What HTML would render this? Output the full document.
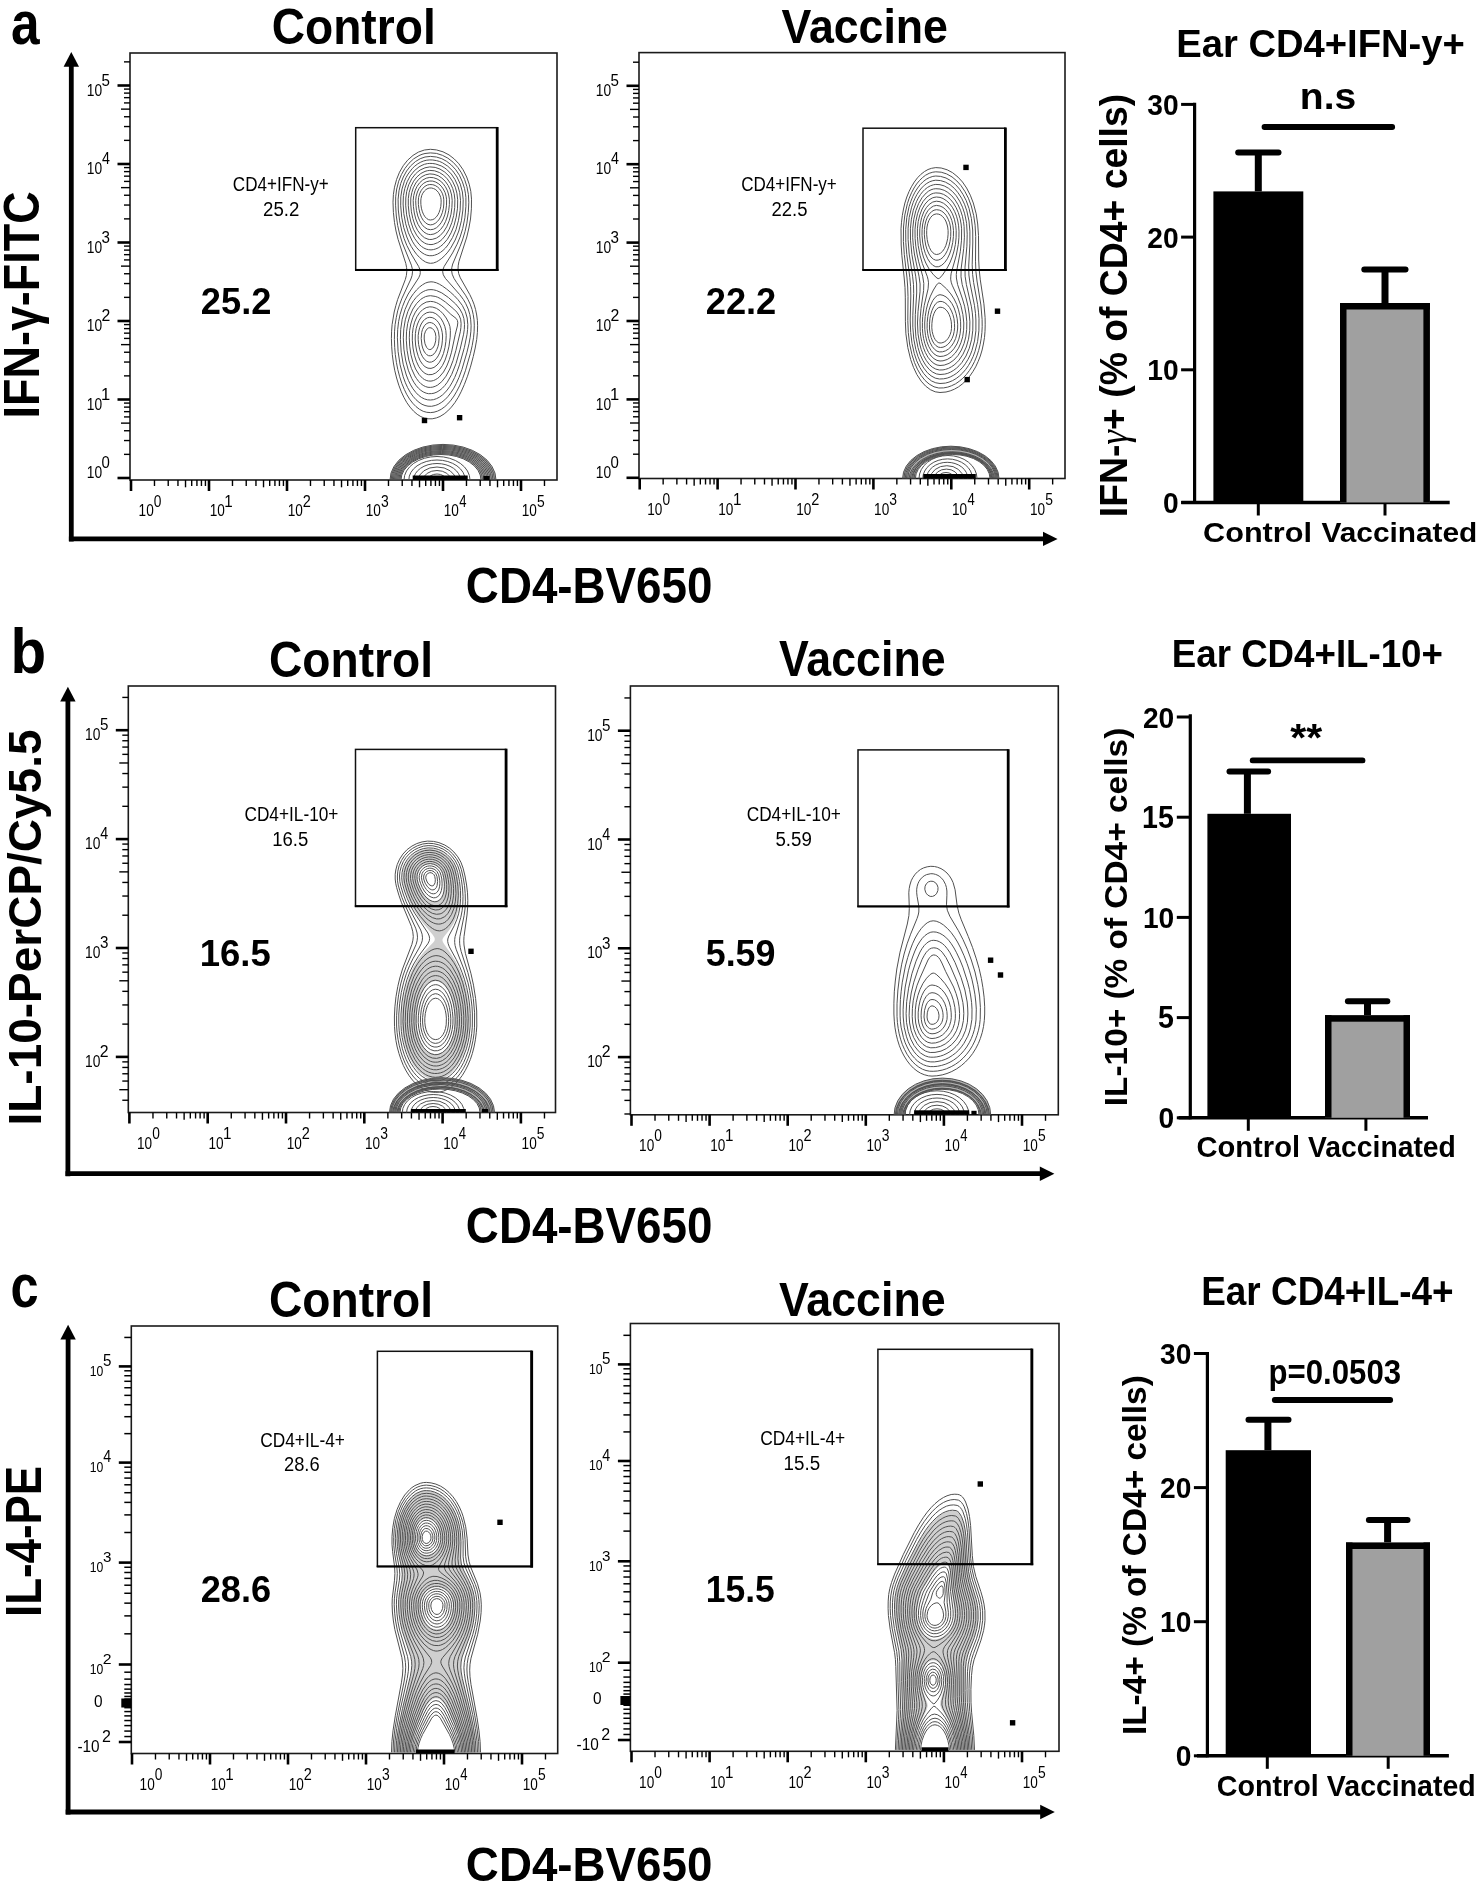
<!DOCTYPE html>
<html><head><meta charset="utf-8"><style>html,body{margin:0;padding:0;background:#fff;overflow:hidden;}svg{display:block;}</style></head>
<body><svg width="1484" height="1884" viewBox="0 0 1484 1884" font-family='"Liberation Sans", sans-serif' style="filter:grayscale(1)">
<rect x="0.00" y="0.00" width="1484.00" height="1884.00" fill="#fff" stroke="none" stroke-width="0"/>
<rect x="130.00" y="53.00" width="427.00" height="427.00" fill="none" stroke="#1a1a1a" stroke-width="1.6"/>
<line x1="131.00" y1="480.00" x2="131.00" y2="491.00" stroke="#000" stroke-width="2.6" stroke-linecap="butt"/>
<line x1="154.48" y1="480.00" x2="154.48" y2="486.00" stroke="#000" stroke-width="1.4" stroke-linecap="butt"/>
<line x1="168.22" y1="480.00" x2="168.22" y2="486.00" stroke="#000" stroke-width="1.4" stroke-linecap="butt"/>
<line x1="177.96" y1="480.00" x2="177.96" y2="486.00" stroke="#000" stroke-width="1.4" stroke-linecap="butt"/>
<line x1="185.52" y1="480.00" x2="185.52" y2="487.30" stroke="#000" stroke-width="1.4" stroke-linecap="butt"/>
<line x1="191.70" y1="480.00" x2="191.70" y2="486.00" stroke="#000" stroke-width="1.4" stroke-linecap="butt"/>
<line x1="196.92" y1="480.00" x2="196.92" y2="486.00" stroke="#000" stroke-width="1.4" stroke-linecap="butt"/>
<line x1="201.44" y1="480.00" x2="201.44" y2="486.00" stroke="#000" stroke-width="1.4" stroke-linecap="butt"/>
<line x1="205.43" y1="480.00" x2="205.43" y2="486.00" stroke="#000" stroke-width="1.4" stroke-linecap="butt"/>
<line x1="209.00" y1="480.00" x2="209.00" y2="491.00" stroke="#000" stroke-width="2.6" stroke-linecap="butt"/>
<line x1="232.48" y1="480.00" x2="232.48" y2="486.00" stroke="#000" stroke-width="1.4" stroke-linecap="butt"/>
<line x1="246.22" y1="480.00" x2="246.22" y2="486.00" stroke="#000" stroke-width="1.4" stroke-linecap="butt"/>
<line x1="255.96" y1="480.00" x2="255.96" y2="486.00" stroke="#000" stroke-width="1.4" stroke-linecap="butt"/>
<line x1="263.52" y1="480.00" x2="263.52" y2="487.30" stroke="#000" stroke-width="1.4" stroke-linecap="butt"/>
<line x1="269.70" y1="480.00" x2="269.70" y2="486.00" stroke="#000" stroke-width="1.4" stroke-linecap="butt"/>
<line x1="274.92" y1="480.00" x2="274.92" y2="486.00" stroke="#000" stroke-width="1.4" stroke-linecap="butt"/>
<line x1="279.44" y1="480.00" x2="279.44" y2="486.00" stroke="#000" stroke-width="1.4" stroke-linecap="butt"/>
<line x1="283.43" y1="480.00" x2="283.43" y2="486.00" stroke="#000" stroke-width="1.4" stroke-linecap="butt"/>
<line x1="287.00" y1="480.00" x2="287.00" y2="491.00" stroke="#000" stroke-width="2.6" stroke-linecap="butt"/>
<line x1="310.48" y1="480.00" x2="310.48" y2="486.00" stroke="#000" stroke-width="1.4" stroke-linecap="butt"/>
<line x1="324.22" y1="480.00" x2="324.22" y2="486.00" stroke="#000" stroke-width="1.4" stroke-linecap="butt"/>
<line x1="333.96" y1="480.00" x2="333.96" y2="486.00" stroke="#000" stroke-width="1.4" stroke-linecap="butt"/>
<line x1="341.52" y1="480.00" x2="341.52" y2="487.30" stroke="#000" stroke-width="1.4" stroke-linecap="butt"/>
<line x1="347.70" y1="480.00" x2="347.70" y2="486.00" stroke="#000" stroke-width="1.4" stroke-linecap="butt"/>
<line x1="352.92" y1="480.00" x2="352.92" y2="486.00" stroke="#000" stroke-width="1.4" stroke-linecap="butt"/>
<line x1="357.44" y1="480.00" x2="357.44" y2="486.00" stroke="#000" stroke-width="1.4" stroke-linecap="butt"/>
<line x1="361.43" y1="480.00" x2="361.43" y2="486.00" stroke="#000" stroke-width="1.4" stroke-linecap="butt"/>
<line x1="365.00" y1="480.00" x2="365.00" y2="491.00" stroke="#000" stroke-width="2.6" stroke-linecap="butt"/>
<line x1="388.48" y1="480.00" x2="388.48" y2="486.00" stroke="#000" stroke-width="1.4" stroke-linecap="butt"/>
<line x1="402.22" y1="480.00" x2="402.22" y2="486.00" stroke="#000" stroke-width="1.4" stroke-linecap="butt"/>
<line x1="411.96" y1="480.00" x2="411.96" y2="486.00" stroke="#000" stroke-width="1.4" stroke-linecap="butt"/>
<line x1="419.52" y1="480.00" x2="419.52" y2="487.30" stroke="#000" stroke-width="1.4" stroke-linecap="butt"/>
<line x1="425.70" y1="480.00" x2="425.70" y2="486.00" stroke="#000" stroke-width="1.4" stroke-linecap="butt"/>
<line x1="430.92" y1="480.00" x2="430.92" y2="486.00" stroke="#000" stroke-width="1.4" stroke-linecap="butt"/>
<line x1="435.44" y1="480.00" x2="435.44" y2="486.00" stroke="#000" stroke-width="1.4" stroke-linecap="butt"/>
<line x1="439.43" y1="480.00" x2="439.43" y2="486.00" stroke="#000" stroke-width="1.4" stroke-linecap="butt"/>
<line x1="443.00" y1="480.00" x2="443.00" y2="491.00" stroke="#000" stroke-width="2.6" stroke-linecap="butt"/>
<line x1="466.48" y1="480.00" x2="466.48" y2="486.00" stroke="#000" stroke-width="1.4" stroke-linecap="butt"/>
<line x1="480.22" y1="480.00" x2="480.22" y2="486.00" stroke="#000" stroke-width="1.4" stroke-linecap="butt"/>
<line x1="489.96" y1="480.00" x2="489.96" y2="486.00" stroke="#000" stroke-width="1.4" stroke-linecap="butt"/>
<line x1="497.52" y1="480.00" x2="497.52" y2="487.30" stroke="#000" stroke-width="1.4" stroke-linecap="butt"/>
<line x1="503.70" y1="480.00" x2="503.70" y2="486.00" stroke="#000" stroke-width="1.4" stroke-linecap="butt"/>
<line x1="508.92" y1="480.00" x2="508.92" y2="486.00" stroke="#000" stroke-width="1.4" stroke-linecap="butt"/>
<line x1="513.44" y1="480.00" x2="513.44" y2="486.00" stroke="#000" stroke-width="1.4" stroke-linecap="butt"/>
<line x1="517.43" y1="480.00" x2="517.43" y2="486.00" stroke="#000" stroke-width="1.4" stroke-linecap="butt"/>
<line x1="521.00" y1="480.00" x2="521.00" y2="491.00" stroke="#000" stroke-width="2.6" stroke-linecap="butt"/>
<line x1="544.48" y1="480.00" x2="544.48" y2="486.00" stroke="#000" stroke-width="1.4" stroke-linecap="butt"/>
<text transform="translate(138.58,516.30) scale(0.8351,1)" font-size="16.29" fill="#000">10</text>
<text transform="translate(153.85,506.50) scale(0.8443,1)" font-size="16.29" fill="#000">0</text>
<text transform="translate(209.68,516.30) scale(0.8351,1)" font-size="16.29" fill="#000">10</text>
<text transform="translate(224.36,506.50) scale(0.9183,1)" font-size="16.52" fill="#000">1</text>
<text transform="translate(287.68,516.30) scale(0.8351,1)" font-size="16.29" fill="#000">10</text>
<text transform="translate(302.77,506.50) scale(0.8907,1)" font-size="16.29" fill="#000">2</text>
<text transform="translate(365.68,516.30) scale(0.8351,1)" font-size="16.29" fill="#000">10</text>
<text transform="translate(380.94,506.50) scale(0.8532,1)" font-size="16.29" fill="#000">3</text>
<text transform="translate(443.68,516.30) scale(0.8351,1)" font-size="16.29" fill="#000">10</text>
<text transform="translate(459.24,506.50) scale(0.7910,1)" font-size="16.52" fill="#000">4</text>
<text transform="translate(521.68,516.30) scale(0.8351,1)" font-size="16.29" fill="#000">10</text>
<text transform="translate(536.94,506.50) scale(0.8410,1)" font-size="16.52" fill="#000">5</text>
<line x1="117.50" y1="478.00" x2="130.00" y2="478.00" stroke="#000" stroke-width="2.6" stroke-linecap="butt"/>
<line x1="124.00" y1="454.37" x2="130.00" y2="454.37" stroke="#000" stroke-width="1.4" stroke-linecap="butt"/>
<line x1="124.00" y1="440.55" x2="130.00" y2="440.55" stroke="#000" stroke-width="1.4" stroke-linecap="butt"/>
<line x1="124.00" y1="430.74" x2="130.00" y2="430.74" stroke="#000" stroke-width="1.4" stroke-linecap="butt"/>
<line x1="121.00" y1="423.13" x2="130.00" y2="423.13" stroke="#000" stroke-width="1.4" stroke-linecap="butt"/>
<line x1="124.00" y1="416.92" x2="130.00" y2="416.92" stroke="#000" stroke-width="1.4" stroke-linecap="butt"/>
<line x1="124.00" y1="411.66" x2="130.00" y2="411.66" stroke="#000" stroke-width="1.4" stroke-linecap="butt"/>
<line x1="124.00" y1="407.11" x2="130.00" y2="407.11" stroke="#000" stroke-width="1.4" stroke-linecap="butt"/>
<line x1="124.00" y1="403.09" x2="130.00" y2="403.09" stroke="#000" stroke-width="1.4" stroke-linecap="butt"/>
<line x1="117.50" y1="399.50" x2="130.00" y2="399.50" stroke="#000" stroke-width="2.6" stroke-linecap="butt"/>
<line x1="124.00" y1="375.87" x2="130.00" y2="375.87" stroke="#000" stroke-width="1.4" stroke-linecap="butt"/>
<line x1="124.00" y1="362.05" x2="130.00" y2="362.05" stroke="#000" stroke-width="1.4" stroke-linecap="butt"/>
<line x1="124.00" y1="352.24" x2="130.00" y2="352.24" stroke="#000" stroke-width="1.4" stroke-linecap="butt"/>
<line x1="121.00" y1="344.63" x2="130.00" y2="344.63" stroke="#000" stroke-width="1.4" stroke-linecap="butt"/>
<line x1="124.00" y1="338.42" x2="130.00" y2="338.42" stroke="#000" stroke-width="1.4" stroke-linecap="butt"/>
<line x1="124.00" y1="333.16" x2="130.00" y2="333.16" stroke="#000" stroke-width="1.4" stroke-linecap="butt"/>
<line x1="124.00" y1="328.61" x2="130.00" y2="328.61" stroke="#000" stroke-width="1.4" stroke-linecap="butt"/>
<line x1="124.00" y1="324.59" x2="130.00" y2="324.59" stroke="#000" stroke-width="1.4" stroke-linecap="butt"/>
<line x1="117.50" y1="321.00" x2="130.00" y2="321.00" stroke="#000" stroke-width="2.6" stroke-linecap="butt"/>
<line x1="124.00" y1="297.37" x2="130.00" y2="297.37" stroke="#000" stroke-width="1.4" stroke-linecap="butt"/>
<line x1="124.00" y1="283.55" x2="130.00" y2="283.55" stroke="#000" stroke-width="1.4" stroke-linecap="butt"/>
<line x1="124.00" y1="273.74" x2="130.00" y2="273.74" stroke="#000" stroke-width="1.4" stroke-linecap="butt"/>
<line x1="121.00" y1="266.13" x2="130.00" y2="266.13" stroke="#000" stroke-width="1.4" stroke-linecap="butt"/>
<line x1="124.00" y1="259.92" x2="130.00" y2="259.92" stroke="#000" stroke-width="1.4" stroke-linecap="butt"/>
<line x1="124.00" y1="254.66" x2="130.00" y2="254.66" stroke="#000" stroke-width="1.4" stroke-linecap="butt"/>
<line x1="124.00" y1="250.11" x2="130.00" y2="250.11" stroke="#000" stroke-width="1.4" stroke-linecap="butt"/>
<line x1="124.00" y1="246.09" x2="130.00" y2="246.09" stroke="#000" stroke-width="1.4" stroke-linecap="butt"/>
<line x1="117.50" y1="242.50" x2="130.00" y2="242.50" stroke="#000" stroke-width="2.6" stroke-linecap="butt"/>
<line x1="124.00" y1="218.87" x2="130.00" y2="218.87" stroke="#000" stroke-width="1.4" stroke-linecap="butt"/>
<line x1="124.00" y1="205.05" x2="130.00" y2="205.05" stroke="#000" stroke-width="1.4" stroke-linecap="butt"/>
<line x1="124.00" y1="195.24" x2="130.00" y2="195.24" stroke="#000" stroke-width="1.4" stroke-linecap="butt"/>
<line x1="121.00" y1="187.63" x2="130.00" y2="187.63" stroke="#000" stroke-width="1.4" stroke-linecap="butt"/>
<line x1="124.00" y1="181.42" x2="130.00" y2="181.42" stroke="#000" stroke-width="1.4" stroke-linecap="butt"/>
<line x1="124.00" y1="176.16" x2="130.00" y2="176.16" stroke="#000" stroke-width="1.4" stroke-linecap="butt"/>
<line x1="124.00" y1="171.61" x2="130.00" y2="171.61" stroke="#000" stroke-width="1.4" stroke-linecap="butt"/>
<line x1="124.00" y1="167.59" x2="130.00" y2="167.59" stroke="#000" stroke-width="1.4" stroke-linecap="butt"/>
<line x1="117.50" y1="164.00" x2="130.00" y2="164.00" stroke="#000" stroke-width="2.6" stroke-linecap="butt"/>
<line x1="124.00" y1="140.37" x2="130.00" y2="140.37" stroke="#000" stroke-width="1.4" stroke-linecap="butt"/>
<line x1="124.00" y1="126.55" x2="130.00" y2="126.55" stroke="#000" stroke-width="1.4" stroke-linecap="butt"/>
<line x1="124.00" y1="116.74" x2="130.00" y2="116.74" stroke="#000" stroke-width="1.4" stroke-linecap="butt"/>
<line x1="121.00" y1="109.13" x2="130.00" y2="109.13" stroke="#000" stroke-width="1.4" stroke-linecap="butt"/>
<line x1="124.00" y1="102.92" x2="130.00" y2="102.92" stroke="#000" stroke-width="1.4" stroke-linecap="butt"/>
<line x1="124.00" y1="97.66" x2="130.00" y2="97.66" stroke="#000" stroke-width="1.4" stroke-linecap="butt"/>
<line x1="124.00" y1="93.11" x2="130.00" y2="93.11" stroke="#000" stroke-width="1.4" stroke-linecap="butt"/>
<line x1="124.00" y1="89.09" x2="130.00" y2="89.09" stroke="#000" stroke-width="1.4" stroke-linecap="butt"/>
<line x1="117.50" y1="85.50" x2="130.00" y2="85.50" stroke="#000" stroke-width="2.6" stroke-linecap="butt"/>
<line x1="124.00" y1="61.87" x2="130.00" y2="61.87" stroke="#000" stroke-width="1.4" stroke-linecap="butt"/>
<text transform="translate(86.77,478.00) scale(0.8400,1)" font-size="16.43" fill="#000">10</text>
<text transform="translate(101.60,468.10) scale(0.9130,1)" font-size="16.43" fill="#000">0</text>
<text transform="translate(86.77,409.60) scale(0.8400,1)" font-size="16.43" fill="#000">10</text>
<text transform="translate(100.96,399.70) scale(0.9931,1)" font-size="16.67" fill="#000">1</text>
<text transform="translate(86.77,331.10) scale(0.8400,1)" font-size="16.43" fill="#000">10</text>
<text transform="translate(101.41,321.20) scale(0.9632,1)" font-size="16.43" fill="#000">2</text>
<text transform="translate(86.77,252.60) scale(0.8400,1)" font-size="16.43" fill="#000">10</text>
<text transform="translate(101.59,242.70) scale(0.9227,1)" font-size="16.43" fill="#000">3</text>
<text transform="translate(86.77,174.10) scale(0.8400,1)" font-size="16.43" fill="#000">10</text>
<text transform="translate(101.91,164.20) scale(0.8554,1)" font-size="16.67" fill="#000">4</text>
<text transform="translate(86.77,95.60) scale(0.8400,1)" font-size="16.43" fill="#000">10</text>
<text transform="translate(101.59,85.70) scale(0.9095,1)" font-size="16.67" fill="#000">5</text>
<path d="M390.0,480.0 A53.0,35.6 0 0 1 496.0,480.0 L481.0,480.0 A40.0,25.5 0 0 0 401.0,480.0 Z" fill="#505050" fill-opacity="0.45" stroke="none"/>
<path d="M432.8,219.6 430.4,220.0 428.6,219.7 426.8,218.6 425.0,216.8 423.4,214.2 422.2,211.2 421.4,208.2 420.9,204.6 420.8,201.0 421.0,198.6 421.7,195.6 422.8,193.2 424.4,191.0 425.9,189.6 428.0,188.4 429.8,188.0 431.6,188.0 433.4,188.5 435.2,189.3 437.0,190.8 438.5,192.6 439.8,195.0 440.7,197.4 441.1,199.8 441.1,202.8 440.8,206.4 440.1,209.4 439.1,212.4 437.9,214.8 436.4,216.9 434.6,218.6 432.8,219.6Z M431.0,349.3 429.8,349.6 428.6,349.3 427.4,348.4 426.6,347.4 425.0,343.8 424.2,339.0 424.3,334.8 425.5,331.2 427.4,328.6 428.6,327.9 429.8,327.7 431.0,327.9 432.2,328.4 434.0,330.3 435.3,333.0 435.9,336.6 435.7,340.8 434.6,345.0 432.8,348.0 431.0,349.3Z M432.8,224.5 430.4,224.9 428.0,224.4 425.6,222.9 423.2,220.3 421.4,217.2 420.0,213.6 418.9,208.8 418.4,204.6 418.3,201.0 418.6,197.4 419.6,193.8 421.0,190.8 422.7,188.4 425.0,186.3 427.4,185.0 429.8,184.5 432.8,184.7 435.2,185.5 437.6,187.0 439.4,188.7 441.2,191.2 442.5,193.8 443.4,196.8 443.8,199.8 443.8,204.0 443.4,208.2 442.4,212.4 441.0,216.0 439.4,219.0 437.5,221.4 435.2,223.4 432.8,224.5Z M430.4,355.8 428.6,355.7 426.8,354.7 425.5,353.4 423.9,351.0 422.7,348.0 421.9,345.0 421.2,338.4 421.7,332.4 422.5,329.4 423.7,327.0 424.9,325.2 426.2,323.9 428.0,322.9 429.8,322.5 431.6,322.8 433.4,323.6 435.2,325.2 436.4,326.8 437.6,329.1 438.5,331.8 439.2,337.2 438.6,343.8 437.9,346.8 436.7,349.8 435.4,352.2 434.0,353.9 432.2,355.3 430.4,355.8Z M433.4,229.3 430.4,229.7 427.4,229.1 424.4,227.2 422.0,224.6 419.7,220.8 417.8,216.0 416.5,210.6 415.9,205.2 415.7,200.4 416.2,196.2 417.4,192.0 419.0,188.6 421.3,185.4 423.8,183.2 426.8,181.6 429.8,181.0 432.8,181.1 435.8,182.1 438.8,183.9 441.2,186.1 443.3,189.0 445.1,192.6 446.1,196.2 446.6,199.8 446.5,205.2 445.9,210.0 444.8,214.8 443.2,219.0 441.2,222.7 438.8,225.7 436.4,227.8 433.4,229.3Z M431.6,362.0 429.2,362.2 426.8,361.3 424.5,359.4 422.6,356.8 420.9,353.4 419.6,349.2 418.6,344.4 418.2,339.6 418.2,335.4 418.8,331.2 419.7,327.6 421.2,324.0 423.2,321.0 425.0,319.2 427.4,317.8 429.8,317.3 432.2,317.6 434.6,318.7 436.7,320.4 438.7,322.8 440.3,325.8 441.4,328.8 442.2,332.4 442.6,336.0 442.4,340.2 441.9,345.0 440.9,349.2 439.7,352.8 438.2,355.9 436.2,358.8 434.0,360.8 431.6,362.0Z M434.0,234.0 430.4,234.6 428.6,234.4 426.8,233.8 423.8,232.0 420.6,228.6 418.0,224.4 415.8,219.0 414.3,213.0 413.4,206.4 413.2,200.4 413.7,195.6 415.0,190.8 416.9,186.6 419.6,182.8 422.6,180.1 426.2,178.2 429.8,177.4 433.4,177.7 437.0,178.9 440.0,180.7 443.0,183.4 445.4,186.7 447.5,190.8 448.7,195.0 449.4,199.2 449.4,204.6 448.7,210.6 447.5,216.0 445.6,221.4 443.5,225.6 440.6,229.5 437.6,232.2 434.0,234.0Z M431.0,368.4 428.0,368.2 425.0,366.7 422.6,364.4 420.2,360.8 418.3,356.4 416.7,351.0 415.6,345.0 415.2,339.0 415.4,333.6 416.1,328.8 417.5,324.0 419.1,320.4 421.4,316.8 423.8,314.5 426.8,312.7 429.8,312.1 432.8,312.4 435.8,313.7 438.8,316.1 441.2,318.9 443.1,322.2 444.8,326.4 445.8,330.6 446.2,335.4 445.9,341.4 445.0,347.4 443.5,353.4 441.6,358.2 439.4,362.2 437.0,365.1 434.0,367.4 431.0,368.4Z M432.2,239.4 429.8,239.5 428.0,239.2 424.4,237.7 420.8,234.6 417.6,230.4 414.9,225.0 412.8,218.4 411.4,211.8 410.7,204.0 410.8,198.0 411.8,192.6 413.3,187.8 415.8,183.0 418.6,179.4 422.0,176.6 425.6,174.8 429.8,173.9 434.0,174.3 438.2,175.7 441.8,178.0 445.2,181.2 448.1,185.4 450.1,189.6 451.6,195.0 452.2,200.4 451.9,207.6 451.0,214.2 449.2,220.8 446.7,226.8 443.6,231.8 440.0,235.7 436.4,238.1 432.2,239.4Z M432.2,374.5 428.6,374.7 426.8,374.2 425.0,373.4 421.9,370.8 418.8,366.6 416.3,361.2 414.4,355.2 413.0,348.0 412.3,340.2 412.4,333.6 413.2,327.6 414.6,322.2 416.9,316.8 419.6,312.7 422.6,309.7 426.2,307.6 429.8,306.8 432.8,307.1 436.4,308.3 440.0,310.7 443.1,313.8 446.2,318.0 448.7,322.8 449.9,326.4 450.4,330.6 450.2,337.2 449.0,346.2 447.3,353.4 445.1,360.0 442.5,365.4 439.4,369.8 435.8,372.9 432.2,374.5Z M433.4,244.3 431.0,244.6 428.6,244.4 426.2,243.8 424.4,242.9 422.0,241.3 420.2,239.7 416.6,235.1 413.4,229.2 410.9,222.0 409.2,214.2 408.3,205.8 408.3,198.6 409.1,192.6 410.9,186.6 413.6,181.2 416.8,177.0 420.8,173.5 425.0,171.4 427.4,170.7 429.8,170.4 434.6,170.8 439.4,172.5 443.6,175.2 447.2,178.8 450.5,183.6 452.7,188.4 454.2,193.8 454.9,199.8 454.7,207.6 453.7,215.4 451.8,222.6 449.2,229.2 446.0,234.7 442.1,239.4 440.0,241.2 437.6,242.7 433.4,244.3Z M431.0,381.1 428.6,381.0 426.8,380.6 424.4,379.5 422.6,378.3 419.0,374.5 415.6,369.0 413.0,362.4 410.9,354.6 409.7,346.2 409.3,337.8 409.6,330.6 410.8,324.0 412.8,317.4 415.4,312.1 418.4,307.8 422.0,304.4 426.2,302.1 430.4,301.4 433.4,301.7 436.4,302.6 438.8,303.8 441.8,305.8 444.8,308.4 450.8,314.3 456.2,318.5 457.4,320.4 457.8,322.8 457.4,326.0 455.3,334.2 451.5,352.2 449.4,359.4 446.8,366.0 443.5,372.0 439.4,376.9 437.6,378.4 435.2,379.8 433.4,380.6 431.0,381.1Z M433.4,249.6 431.0,249.9 428.6,249.7 426.2,249.1 423.8,248.0 421.4,246.4 419.0,244.2 414.8,238.7 411.4,232.2 408.5,223.8 406.6,214.8 405.7,205.2 405.8,198.0 406.7,191.4 408.7,184.8 411.7,178.8 415.4,174.0 417.8,171.8 420.2,170.0 425.0,167.8 429.8,166.9 435.2,167.4 440.0,169.1 444.8,172.1 449.0,176.1 452.5,181.2 455.3,187.2 456.9,193.2 457.7,199.8 457.5,208.2 456.2,217.2 454.0,225.6 451.1,232.8 447.3,239.4 443.0,244.3 440.6,246.3 438.2,247.9 435.8,248.9 433.4,249.6Z M432.8,387.1 430.4,387.4 428.0,387.3 425.6,386.6 423.2,385.4 420.8,383.6 418.8,381.6 416.6,378.7 414.8,375.9 411.4,368.4 408.8,360.0 407.1,350.4 406.3,340.2 406.5,331.8 407.7,323.4 409.7,316.2 412.9,309.0 416.6,303.5 420.8,299.3 423.2,297.8 425.6,296.6 428.0,296.0 430.4,295.7 435.2,296.4 437.6,297.2 440.6,298.7 445.4,302.0 453.8,309.1 456.8,312.1 459.2,315.6 460.6,319.2 461.1,323.4 460.9,327.6 460.3,331.8 455.9,350.4 453.0,360.6 449.8,369.0 446.0,376.2 441.8,381.6 437.6,385.1 435.2,386.3 432.8,387.1Z M432.2,255.7 429.2,255.7 426.8,255.2 424.4,254.2 422.0,252.7 419.6,250.8 416.8,247.8 414.5,244.8 412.3,241.2 408.4,232.8 405.7,223.8 403.8,213.6 403.1,204.0 403.4,195.6 404.8,188.4 407.1,181.8 410.3,175.8 414.2,170.9 419.0,166.9 422.0,165.3 424.4,164.3 427.4,163.6 429.8,163.4 432.8,163.5 435.8,164.0 441.2,165.9 444.2,167.6 446.6,169.3 451.3,174.0 454.9,179.4 457.9,186.0 459.7,192.6 460.5,200.4 460.1,210.6 458.4,220.8 455.9,229.8 452.5,237.6 448.1,244.8 445.4,248.1 443.0,250.4 440.6,252.3 437.6,254.1 434.6,255.2 432.2,255.7Z M431.6,393.6 428.6,393.7 426.2,393.2 423.2,391.9 420.8,390.3 418.4,388.2 416.0,385.4 413.8,382.2 411.8,378.6 408.3,370.2 405.6,360.0 403.9,349.2 403.3,337.8 403.8,328.8 405.3,319.8 407.9,311.4 411.3,304.2 413.6,300.6 416.0,297.6 418.4,295.1 420.8,293.1 423.2,291.6 425.6,290.5 428.0,289.8 431.0,289.6 433.4,289.8 436.4,290.5 441.8,292.9 448.4,297.5 455.6,303.9 459.8,309.0 462.4,313.8 463.9,318.6 464.5,324.6 464.3,329.4 463.6,334.2 460.1,349.2 456.0,363.6 451.7,374.4 447.3,382.2 444.8,385.5 442.4,388.1 440.0,390.1 437.0,392.0 434.0,393.2 431.6,393.6Z M433.4,263.0 430.4,263.3 428.0,262.9 425.6,262.0 422.6,260.1 419.6,257.5 416.6,254.3 414.0,250.8 411.3,246.6 409.1,242.4 406.8,237.0 403.7,227.4 401.7,217.2 400.7,205.8 400.8,196.8 402.0,189.0 404.4,181.2 406.0,177.6 408.1,174.0 412.4,168.4 414.8,166.1 417.8,163.8 420.8,162.1 423.8,160.9 426.8,160.2 429.8,159.9 432.8,160.0 436.4,160.6 439.4,161.4 442.4,162.7 447.8,166.2 452.8,171.0 457.0,177.0 460.3,184.2 462.4,192.0 463.2,199.8 462.9,210.0 461.4,220.8 458.8,231.0 455.2,240.0 450.5,248.4 447.8,252.1 444.8,255.5 441.8,258.3 438.8,260.5 436.4,261.9 433.4,263.0Z M433.4,399.7 430.4,400.0 427.4,399.8 424.4,398.9 421.4,397.4 418.4,395.1 415.8,392.4 413.0,388.8 410.6,384.8 408.4,380.4 406.3,375.0 403.2,364.2 401.2,352.2 400.4,339.6 400.7,329.4 402.2,319.2 405.0,309.6 408.7,301.2 411.1,297.0 413.6,293.5 416.6,289.9 419.6,287.0 422.6,284.7 425.6,283.0 428.0,282.2 431.0,281.8 433.4,282.0 436.4,282.8 439.4,284.2 442.4,286.0 446.6,289.0 450.8,292.5 454.4,295.8 458.0,299.7 462.3,305.4 465.3,311.4 467.2,318.0 467.8,324.6 467.6,329.4 467.1,334.2 464.4,347.4 459.5,364.8 457.2,371.4 454.7,377.4 452.3,382.2 449.8,386.4 447.2,390.0 444.8,392.8 442.4,395.0 439.4,397.2 436.4,398.7 433.4,399.7Z M431.6,406.3 428.0,406.2 425.0,405.5 422.0,404.3 419.0,402.3 416.0,399.7 413.0,396.3 410.3,392.4 407.6,387.6 405.4,382.8 403.2,376.8 400.1,364.8 398.1,351.6 397.4,337.8 397.7,329.4 398.6,321.6 400.1,314.4 402.5,306.6 404.9,300.6 408.2,294.0 418.7,277.8 420.0,274.8 420.3,272.4 419.9,269.4 418.6,266.4 411.1,253.8 406.8,245.4 404.2,238.8 401.8,231.0 399.6,220.8 398.3,210.0 398.1,199.2 399.0,190.8 400.7,183.6 403.3,177.0 406.6,171.0 410.6,165.9 415.4,161.6 420.2,158.7 425.0,157.0 430.4,156.4 436.4,157.0 441.8,158.7 446.6,161.3 451.4,165.0 455.8,169.8 459.4,175.2 462.4,181.8 464.5,188.4 465.4,193.2 465.9,197.4 465.9,206.4 464.9,217.8 462.7,228.6 460.1,237.0 457.1,244.2 452.6,252.9 444.2,266.4 443.0,269.4 442.7,271.8 443.3,274.8 445.4,278.4 459.7,294.6 463.3,299.4 465.8,303.7 468.2,309.0 469.8,314.4 470.7,319.8 471.1,325.8 470.9,331.2 470.2,337.2 469.0,343.8 466.8,352.8 461.9,369.6 459.0,377.4 456.3,383.4 453.8,388.2 450.8,392.8 447.8,396.7 444.8,399.8 441.8,402.2 438.2,404.4 435.2,405.5 431.6,406.3Z M434.0,412.2 430.4,412.6 426.8,412.3 423.2,411.3 419.6,409.4 416.0,406.6 412.7,403.2 409.5,399.0 406.6,394.2 404.3,389.4 401.8,383.4 399.7,376.8 397.8,369.6 396.4,362.4 395.3,354.6 394.7,347.4 394.4,339.6 394.5,331.8 395.1,324.6 396.3,317.4 397.7,310.8 399.5,304.8 402.0,298.2 410.9,279.0 412.1,275.4 412.5,271.8 412.3,268.8 411.4,265.2 402.4,243.0 399.6,234.0 397.7,225.6 396.3,216.0 395.6,205.2 395.7,196.8 396.7,189.0 398.7,181.2 401.4,174.6 404.8,168.6 409.0,163.2 413.6,158.9 419.0,155.6 422.0,154.3 425.0,153.5 430.4,152.9 436.4,153.4 442.4,155.3 447.8,158.1 453.2,162.3 457.8,167.4 461.4,172.8 464.6,179.4 466.9,186.6 468.4,194.4 468.8,202.2 468.3,212.4 466.9,223.2 465.0,231.6 462.5,240.0 460.0,246.6 452.7,264.0 451.8,267.6 451.6,270.6 452.2,274.2 454.0,278.4 456.7,282.6 465.5,295.2 467.9,299.4 470.2,304.2 472.1,309.6 473.2,314.4 474.0,319.8 474.3,325.2 474.1,331.8 473.5,337.8 472.2,345.6 470.4,353.4 465.4,370.8 462.6,378.6 459.6,385.8 456.8,391.2 454.0,396.0 451.0,400.2 447.8,403.9 444.8,406.7 441.2,409.3 437.6,411.1 434.0,412.2Z M432.2,418.8 428.0,418.8 424.4,418.1 420.8,416.6 417.2,414.3 413.6,411.2 410.0,407.1 406.8,402.6 403.8,397.2 401.3,391.8 398.8,385.2 396.6,378.0 394.7,370.2 393.4,363.0 392.3,354.6 391.7,346.8 391.4,338.4 391.6,331.2 392.1,324.6 394.2,312.0 395.9,305.4 397.7,299.4 405.3,279.6 406.4,275.4 406.8,271.2 406.6,267.6 405.8,263.4 398.1,239.4 396.0,231.0 394.5,222.6 393.4,212.4 393.0,202.2 393.4,194.4 394.5,187.2 396.6,179.4 399.5,172.2 403.3,165.6 407.6,160.2 413.0,155.4 418.4,152.1 424.4,150.0 430.4,149.3 436.4,149.9 443.0,151.8 449.0,154.9 454.3,159.0 458.9,163.8 463.1,169.8 466.7,177.0 469.2,184.2 470.8,191.4 471.5,199.2 471.4,208.8 470.5,219.0 468.9,228.0 466.8,237.0 458.9,261.6 458.2,265.8 458.0,269.4 458.7,273.6 460.3,277.8 469.8,294.6 472.1,299.4 474.0,304.2 475.6,309.6 476.7,315.0 477.4,320.4 477.6,325.8 477.4,332.4 476.7,339.6 475.2,348.0 473.3,356.4 470.4,367.2 467.5,376.2 464.3,384.6 461.1,391.8 458.3,397.2 454.9,402.6 451.4,407.1 447.8,410.9 444.2,413.9 440.0,416.5 436.4,417.9 432.2,418.8Z M390.0,480.0 A53.0,35.6 0 0 1 496.0,480.0 M391.1,480.0 A51.7,34.6 0 0 1 494.5,480.0 M392.2,480.0 A50.4,33.6 0 0 1 493.0,480.0 M393.3,480.0 A49.1,32.6 0 0 1 491.5,480.0 M394.4,480.0 A47.8,31.6 0 0 1 490.0,480.0 M395.5,480.0 A46.5,30.6 0 0 1 488.5,480.0 M396.6,480.0 A45.2,29.5 0 0 1 487.0,480.0 M397.7,480.0 A43.9,28.5 0 0 1 485.5,480.0 M398.8,480.0 A42.6,27.5 0 0 1 484.0,480.0 M399.9,480.0 A41.3,26.5 0 0 1 482.5,480.0 M401.0,480.0 A40.0,25.5 0 0 1 481.0,480.0 M404.0,480.0 A33.0,23.5 0 0 1 470.0,480.0 M408.8,480.0 A28.2,20.0 0 0 1 465.2,480.0 M413.6,480.0 A23.4,16.5 0 0 1 460.4,480.0 M418.4,480.0 A18.6,13.0 0 0 1 455.6,480.0 M423.2,480.0 A13.8,9.5 0 0 1 450.8,480.0 M428.0,480.0 A9.0,6.0 0 0 1 446.0,480.0" fill="none" stroke="#505050" stroke-width="1.0" stroke-linejoin="round"/>
<rect x="412.70" y="475.50" width="55.00" height="4.50" fill="#000" stroke="none" stroke-width="0"/>
<rect x="483.50" y="476.00" width="6.10" height="4.00" fill="#000" stroke="none" stroke-width="0"/>
<rect x="355.70" y="127.70" width="141.10" height="142.00" fill="none" stroke="#111" stroke-width="1.5"/>
<line x1="497.20" y1="127.00" x2="497.20" y2="270.90" stroke="#000" stroke-width="2.8" stroke-linecap="butt"/>
<line x1="355.00" y1="269.90" x2="498.50" y2="269.90" stroke="#000" stroke-width="2.0" stroke-linecap="butt"/>
<text transform="translate(232.85,190.70) scale(0.8727,1)" font-size="19.57" fill="#000">CD4+IFN-y+</text>
<text transform="translate(263.07,215.90) scale(0.9390,1)" font-size="19.86" fill="#000">25.2</text>
<text transform="translate(200.83,314.40) scale(1.0031,1)" font-size="36.14" font-weight="bold" fill="#000">25.2</text>
<rect x="421.80" y="417.80" width="5.40" height="5.40" fill="#000" stroke="none" stroke-width="0"/>
<rect x="456.90" y="415.00" width="5.40" height="5.40" fill="#000" stroke="none" stroke-width="0"/>
<rect x="639.00" y="52.60" width="426.00" height="425.90" fill="none" stroke="#1a1a1a" stroke-width="1.6"/>
<line x1="639.70" y1="478.50" x2="639.70" y2="489.50" stroke="#000" stroke-width="2.6" stroke-linecap="butt"/>
<line x1="663.15" y1="478.50" x2="663.15" y2="484.50" stroke="#000" stroke-width="1.4" stroke-linecap="butt"/>
<line x1="676.87" y1="478.50" x2="676.87" y2="484.50" stroke="#000" stroke-width="1.4" stroke-linecap="butt"/>
<line x1="686.60" y1="478.50" x2="686.60" y2="484.50" stroke="#000" stroke-width="1.4" stroke-linecap="butt"/>
<line x1="694.15" y1="478.50" x2="694.15" y2="485.80" stroke="#000" stroke-width="1.4" stroke-linecap="butt"/>
<line x1="700.32" y1="478.50" x2="700.32" y2="484.50" stroke="#000" stroke-width="1.4" stroke-linecap="butt"/>
<line x1="705.53" y1="478.50" x2="705.53" y2="484.50" stroke="#000" stroke-width="1.4" stroke-linecap="butt"/>
<line x1="710.05" y1="478.50" x2="710.05" y2="484.50" stroke="#000" stroke-width="1.4" stroke-linecap="butt"/>
<line x1="714.04" y1="478.50" x2="714.04" y2="484.50" stroke="#000" stroke-width="1.4" stroke-linecap="butt"/>
<line x1="717.60" y1="478.50" x2="717.60" y2="489.50" stroke="#000" stroke-width="2.6" stroke-linecap="butt"/>
<line x1="741.05" y1="478.50" x2="741.05" y2="484.50" stroke="#000" stroke-width="1.4" stroke-linecap="butt"/>
<line x1="754.77" y1="478.50" x2="754.77" y2="484.50" stroke="#000" stroke-width="1.4" stroke-linecap="butt"/>
<line x1="764.50" y1="478.50" x2="764.50" y2="484.50" stroke="#000" stroke-width="1.4" stroke-linecap="butt"/>
<line x1="772.05" y1="478.50" x2="772.05" y2="485.80" stroke="#000" stroke-width="1.4" stroke-linecap="butt"/>
<line x1="778.22" y1="478.50" x2="778.22" y2="484.50" stroke="#000" stroke-width="1.4" stroke-linecap="butt"/>
<line x1="783.43" y1="478.50" x2="783.43" y2="484.50" stroke="#000" stroke-width="1.4" stroke-linecap="butt"/>
<line x1="787.95" y1="478.50" x2="787.95" y2="484.50" stroke="#000" stroke-width="1.4" stroke-linecap="butt"/>
<line x1="791.94" y1="478.50" x2="791.94" y2="484.50" stroke="#000" stroke-width="1.4" stroke-linecap="butt"/>
<line x1="795.50" y1="478.50" x2="795.50" y2="489.50" stroke="#000" stroke-width="2.6" stroke-linecap="butt"/>
<line x1="818.95" y1="478.50" x2="818.95" y2="484.50" stroke="#000" stroke-width="1.4" stroke-linecap="butt"/>
<line x1="832.67" y1="478.50" x2="832.67" y2="484.50" stroke="#000" stroke-width="1.4" stroke-linecap="butt"/>
<line x1="842.40" y1="478.50" x2="842.40" y2="484.50" stroke="#000" stroke-width="1.4" stroke-linecap="butt"/>
<line x1="849.95" y1="478.50" x2="849.95" y2="485.80" stroke="#000" stroke-width="1.4" stroke-linecap="butt"/>
<line x1="856.12" y1="478.50" x2="856.12" y2="484.50" stroke="#000" stroke-width="1.4" stroke-linecap="butt"/>
<line x1="861.33" y1="478.50" x2="861.33" y2="484.50" stroke="#000" stroke-width="1.4" stroke-linecap="butt"/>
<line x1="865.85" y1="478.50" x2="865.85" y2="484.50" stroke="#000" stroke-width="1.4" stroke-linecap="butt"/>
<line x1="869.84" y1="478.50" x2="869.84" y2="484.50" stroke="#000" stroke-width="1.4" stroke-linecap="butt"/>
<line x1="873.40" y1="478.50" x2="873.40" y2="489.50" stroke="#000" stroke-width="2.6" stroke-linecap="butt"/>
<line x1="896.85" y1="478.50" x2="896.85" y2="484.50" stroke="#000" stroke-width="1.4" stroke-linecap="butt"/>
<line x1="910.57" y1="478.50" x2="910.57" y2="484.50" stroke="#000" stroke-width="1.4" stroke-linecap="butt"/>
<line x1="920.30" y1="478.50" x2="920.30" y2="484.50" stroke="#000" stroke-width="1.4" stroke-linecap="butt"/>
<line x1="927.85" y1="478.50" x2="927.85" y2="485.80" stroke="#000" stroke-width="1.4" stroke-linecap="butt"/>
<line x1="934.02" y1="478.50" x2="934.02" y2="484.50" stroke="#000" stroke-width="1.4" stroke-linecap="butt"/>
<line x1="939.23" y1="478.50" x2="939.23" y2="484.50" stroke="#000" stroke-width="1.4" stroke-linecap="butt"/>
<line x1="943.75" y1="478.50" x2="943.75" y2="484.50" stroke="#000" stroke-width="1.4" stroke-linecap="butt"/>
<line x1="947.74" y1="478.50" x2="947.74" y2="484.50" stroke="#000" stroke-width="1.4" stroke-linecap="butt"/>
<line x1="951.30" y1="478.50" x2="951.30" y2="489.50" stroke="#000" stroke-width="2.6" stroke-linecap="butt"/>
<line x1="974.75" y1="478.50" x2="974.75" y2="484.50" stroke="#000" stroke-width="1.4" stroke-linecap="butt"/>
<line x1="988.47" y1="478.50" x2="988.47" y2="484.50" stroke="#000" stroke-width="1.4" stroke-linecap="butt"/>
<line x1="998.20" y1="478.50" x2="998.20" y2="484.50" stroke="#000" stroke-width="1.4" stroke-linecap="butt"/>
<line x1="1005.75" y1="478.50" x2="1005.75" y2="485.80" stroke="#000" stroke-width="1.4" stroke-linecap="butt"/>
<line x1="1011.92" y1="478.50" x2="1011.92" y2="484.50" stroke="#000" stroke-width="1.4" stroke-linecap="butt"/>
<line x1="1017.13" y1="478.50" x2="1017.13" y2="484.50" stroke="#000" stroke-width="1.4" stroke-linecap="butt"/>
<line x1="1021.65" y1="478.50" x2="1021.65" y2="484.50" stroke="#000" stroke-width="1.4" stroke-linecap="butt"/>
<line x1="1025.64" y1="478.50" x2="1025.64" y2="484.50" stroke="#000" stroke-width="1.4" stroke-linecap="butt"/>
<line x1="1029.20" y1="478.50" x2="1029.20" y2="489.50" stroke="#000" stroke-width="2.6" stroke-linecap="butt"/>
<line x1="1052.65" y1="478.50" x2="1052.65" y2="484.50" stroke="#000" stroke-width="1.4" stroke-linecap="butt"/>
<text transform="translate(647.28,514.80) scale(0.8351,1)" font-size="16.29" fill="#000">10</text>
<text transform="translate(662.55,505.00) scale(0.8443,1)" font-size="16.29" fill="#000">0</text>
<text transform="translate(718.28,514.80) scale(0.8351,1)" font-size="16.29" fill="#000">10</text>
<text transform="translate(732.96,505.00) scale(0.9183,1)" font-size="16.52" fill="#000">1</text>
<text transform="translate(796.18,514.80) scale(0.8351,1)" font-size="16.29" fill="#000">10</text>
<text transform="translate(811.27,505.00) scale(0.8907,1)" font-size="16.29" fill="#000">2</text>
<text transform="translate(874.08,514.80) scale(0.8351,1)" font-size="16.29" fill="#000">10</text>
<text transform="translate(889.34,505.00) scale(0.8532,1)" font-size="16.29" fill="#000">3</text>
<text transform="translate(951.98,514.80) scale(0.8351,1)" font-size="16.29" fill="#000">10</text>
<text transform="translate(967.54,505.00) scale(0.7910,1)" font-size="16.52" fill="#000">4</text>
<text transform="translate(1029.88,514.80) scale(0.8351,1)" font-size="16.29" fill="#000">10</text>
<text transform="translate(1045.14,505.00) scale(0.8410,1)" font-size="16.52" fill="#000">5</text>
<line x1="626.50" y1="477.80" x2="639.00" y2="477.80" stroke="#000" stroke-width="2.6" stroke-linecap="butt"/>
<line x1="633.00" y1="454.20" x2="639.00" y2="454.20" stroke="#000" stroke-width="1.4" stroke-linecap="butt"/>
<line x1="633.00" y1="440.39" x2="639.00" y2="440.39" stroke="#000" stroke-width="1.4" stroke-linecap="butt"/>
<line x1="633.00" y1="430.60" x2="639.00" y2="430.60" stroke="#000" stroke-width="1.4" stroke-linecap="butt"/>
<line x1="630.00" y1="423.00" x2="639.00" y2="423.00" stroke="#000" stroke-width="1.4" stroke-linecap="butt"/>
<line x1="633.00" y1="416.79" x2="639.00" y2="416.79" stroke="#000" stroke-width="1.4" stroke-linecap="butt"/>
<line x1="633.00" y1="411.54" x2="639.00" y2="411.54" stroke="#000" stroke-width="1.4" stroke-linecap="butt"/>
<line x1="633.00" y1="407.00" x2="639.00" y2="407.00" stroke="#000" stroke-width="1.4" stroke-linecap="butt"/>
<line x1="633.00" y1="402.99" x2="639.00" y2="402.99" stroke="#000" stroke-width="1.4" stroke-linecap="butt"/>
<line x1="626.50" y1="399.40" x2="639.00" y2="399.40" stroke="#000" stroke-width="2.6" stroke-linecap="butt"/>
<line x1="633.00" y1="375.80" x2="639.00" y2="375.80" stroke="#000" stroke-width="1.4" stroke-linecap="butt"/>
<line x1="633.00" y1="361.99" x2="639.00" y2="361.99" stroke="#000" stroke-width="1.4" stroke-linecap="butt"/>
<line x1="633.00" y1="352.20" x2="639.00" y2="352.20" stroke="#000" stroke-width="1.4" stroke-linecap="butt"/>
<line x1="630.00" y1="344.60" x2="639.00" y2="344.60" stroke="#000" stroke-width="1.4" stroke-linecap="butt"/>
<line x1="633.00" y1="338.39" x2="639.00" y2="338.39" stroke="#000" stroke-width="1.4" stroke-linecap="butt"/>
<line x1="633.00" y1="333.14" x2="639.00" y2="333.14" stroke="#000" stroke-width="1.4" stroke-linecap="butt"/>
<line x1="633.00" y1="328.60" x2="639.00" y2="328.60" stroke="#000" stroke-width="1.4" stroke-linecap="butt"/>
<line x1="633.00" y1="324.59" x2="639.00" y2="324.59" stroke="#000" stroke-width="1.4" stroke-linecap="butt"/>
<line x1="626.50" y1="321.00" x2="639.00" y2="321.00" stroke="#000" stroke-width="2.6" stroke-linecap="butt"/>
<line x1="633.00" y1="297.40" x2="639.00" y2="297.40" stroke="#000" stroke-width="1.4" stroke-linecap="butt"/>
<line x1="633.00" y1="283.59" x2="639.00" y2="283.59" stroke="#000" stroke-width="1.4" stroke-linecap="butt"/>
<line x1="633.00" y1="273.80" x2="639.00" y2="273.80" stroke="#000" stroke-width="1.4" stroke-linecap="butt"/>
<line x1="630.00" y1="266.20" x2="639.00" y2="266.20" stroke="#000" stroke-width="1.4" stroke-linecap="butt"/>
<line x1="633.00" y1="259.99" x2="639.00" y2="259.99" stroke="#000" stroke-width="1.4" stroke-linecap="butt"/>
<line x1="633.00" y1="254.74" x2="639.00" y2="254.74" stroke="#000" stroke-width="1.4" stroke-linecap="butt"/>
<line x1="633.00" y1="250.20" x2="639.00" y2="250.20" stroke="#000" stroke-width="1.4" stroke-linecap="butt"/>
<line x1="633.00" y1="246.19" x2="639.00" y2="246.19" stroke="#000" stroke-width="1.4" stroke-linecap="butt"/>
<line x1="626.50" y1="242.60" x2="639.00" y2="242.60" stroke="#000" stroke-width="2.6" stroke-linecap="butt"/>
<line x1="633.00" y1="219.00" x2="639.00" y2="219.00" stroke="#000" stroke-width="1.4" stroke-linecap="butt"/>
<line x1="633.00" y1="205.19" x2="639.00" y2="205.19" stroke="#000" stroke-width="1.4" stroke-linecap="butt"/>
<line x1="633.00" y1="195.40" x2="639.00" y2="195.40" stroke="#000" stroke-width="1.4" stroke-linecap="butt"/>
<line x1="630.00" y1="187.80" x2="639.00" y2="187.80" stroke="#000" stroke-width="1.4" stroke-linecap="butt"/>
<line x1="633.00" y1="181.59" x2="639.00" y2="181.59" stroke="#000" stroke-width="1.4" stroke-linecap="butt"/>
<line x1="633.00" y1="176.34" x2="639.00" y2="176.34" stroke="#000" stroke-width="1.4" stroke-linecap="butt"/>
<line x1="633.00" y1="171.80" x2="639.00" y2="171.80" stroke="#000" stroke-width="1.4" stroke-linecap="butt"/>
<line x1="633.00" y1="167.79" x2="639.00" y2="167.79" stroke="#000" stroke-width="1.4" stroke-linecap="butt"/>
<line x1="626.50" y1="164.20" x2="639.00" y2="164.20" stroke="#000" stroke-width="2.6" stroke-linecap="butt"/>
<line x1="633.00" y1="140.60" x2="639.00" y2="140.60" stroke="#000" stroke-width="1.4" stroke-linecap="butt"/>
<line x1="633.00" y1="126.79" x2="639.00" y2="126.79" stroke="#000" stroke-width="1.4" stroke-linecap="butt"/>
<line x1="633.00" y1="117.00" x2="639.00" y2="117.00" stroke="#000" stroke-width="1.4" stroke-linecap="butt"/>
<line x1="630.00" y1="109.40" x2="639.00" y2="109.40" stroke="#000" stroke-width="1.4" stroke-linecap="butt"/>
<line x1="633.00" y1="103.19" x2="639.00" y2="103.19" stroke="#000" stroke-width="1.4" stroke-linecap="butt"/>
<line x1="633.00" y1="97.94" x2="639.00" y2="97.94" stroke="#000" stroke-width="1.4" stroke-linecap="butt"/>
<line x1="633.00" y1="93.40" x2="639.00" y2="93.40" stroke="#000" stroke-width="1.4" stroke-linecap="butt"/>
<line x1="633.00" y1="89.39" x2="639.00" y2="89.39" stroke="#000" stroke-width="1.4" stroke-linecap="butt"/>
<line x1="626.50" y1="85.80" x2="639.00" y2="85.80" stroke="#000" stroke-width="2.6" stroke-linecap="butt"/>
<line x1="633.00" y1="62.20" x2="639.00" y2="62.20" stroke="#000" stroke-width="1.4" stroke-linecap="butt"/>
<text transform="translate(595.77,477.80) scale(0.8400,1)" font-size="16.43" fill="#000">10</text>
<text transform="translate(610.60,467.90) scale(0.9130,1)" font-size="16.43" fill="#000">0</text>
<text transform="translate(595.77,409.50) scale(0.8400,1)" font-size="16.43" fill="#000">10</text>
<text transform="translate(609.96,399.60) scale(0.9931,1)" font-size="16.67" fill="#000">1</text>
<text transform="translate(595.77,331.10) scale(0.8400,1)" font-size="16.43" fill="#000">10</text>
<text transform="translate(610.41,321.20) scale(0.9632,1)" font-size="16.43" fill="#000">2</text>
<text transform="translate(595.77,252.70) scale(0.8400,1)" font-size="16.43" fill="#000">10</text>
<text transform="translate(610.59,242.80) scale(0.9227,1)" font-size="16.43" fill="#000">3</text>
<text transform="translate(595.77,174.30) scale(0.8400,1)" font-size="16.43" fill="#000">10</text>
<text transform="translate(610.91,164.40) scale(0.8554,1)" font-size="16.67" fill="#000">4</text>
<text transform="translate(595.77,95.90) scale(0.8400,1)" font-size="16.43" fill="#000">10</text>
<text transform="translate(610.59,86.00) scale(0.9095,1)" font-size="16.67" fill="#000">5</text>
<path d="M902.6,478.5 A48.2,32.3 0 0 1 999.0,478.5 L990.0,478.5 A37.3,24.0 0 0 0 915.4,478.5 Z" fill="#505050" fill-opacity="0.45" stroke="none"/>
<path d="M938.8,254.1 936.4,254.5 934.6,254.0 932.8,252.7 930.9,250.4 929.4,247.4 928.1,243.8 927.2,239.6 926.7,234.8 926.7,230.6 927.0,227.0 927.8,223.4 928.9,220.4 930.4,217.8 932.2,215.7 934.0,214.5 936.4,213.9 938.8,214.2 940.6,215.0 942.4,216.3 944.4,218.6 945.8,221.0 946.9,224.0 947.7,227.0 948.1,230.6 948.1,234.2 947.7,238.4 946.9,242.0 945.8,245.6 944.4,248.6 942.8,251.0 940.6,253.1 938.8,254.1Z M941.8,342.9 940.0,343.0 938.2,342.5 936.4,341.1 935.2,339.6 934.0,337.4 932.9,334.4 932.2,331.4 931.8,327.8 931.9,323.6 932.3,320.0 933.0,316.4 934.0,313.5 935.2,311.0 936.5,309.2 938.2,307.8 940.0,307.2 942.4,307.5 944.2,308.3 946.0,309.8 947.8,312.0 949.2,314.6 950.3,317.6 951.2,321.2 951.5,324.8 951.5,328.4 951.1,331.4 950.2,334.4 949.1,336.8 947.8,338.8 946.0,340.8 944.2,342.0 941.8,342.9Z M938.2,260.1 935.8,260.2 933.4,259.2 931.0,257.0 929.0,254.0 927.1,249.8 925.7,245.0 924.8,239.6 924.3,234.2 924.4,229.4 924.9,225.2 925.9,221.0 927.4,217.2 929.2,214.2 931.6,211.6 934.0,210.2 936.4,209.7 939.4,210.1 941.8,211.2 944.2,213.1 946.3,215.6 948.2,219.2 949.6,222.8 950.5,227.0 950.8,231.2 950.7,236.6 950.0,241.4 948.9,246.2 947.4,250.4 945.4,254.2 943.0,257.3 940.6,259.2 938.2,260.1Z M943.0,347.2 940.6,347.5 938.2,347.1 935.8,345.5 934.0,343.5 932.5,341.0 931.1,337.4 930.1,333.2 929.5,329.0 929.5,324.2 929.9,318.8 930.7,314.6 932.0,310.4 933.6,306.8 935.8,303.6 937.6,302.2 940.0,301.4 942.4,301.6 944.8,302.7 947.2,304.6 949.6,307.5 951.5,311.0 952.9,314.6 954.0,318.8 954.5,323.6 954.6,327.8 954.2,331.4 953.4,335.0 952.0,338.6 950.2,341.7 947.8,344.4 945.4,346.2 943.0,347.2Z M938.8,266.7 935.8,266.8 932.8,265.3 930.0,262.4 927.7,258.8 925.3,253.4 923.7,248.0 922.6,242.0 922.0,235.4 922.1,229.4 922.7,224.0 924.0,218.6 925.7,214.4 927.8,210.8 930.4,208.0 933.4,206.1 936.4,205.4 940.0,206.0 943.0,207.4 945.7,209.6 948.1,212.6 950.2,216.2 951.8,220.4 952.9,225.2 953.5,230.6 953.4,236.6 952.7,242.6 951.4,248.6 949.6,254.0 947.3,258.8 944.8,262.4 941.8,265.2 938.8,266.7Z M942.4,351.8 939.4,351.9 937.0,351.2 934.6,349.4 932.2,346.5 930.2,342.8 928.7,338.6 927.7,333.8 927.1,328.4 927.2,322.4 927.8,316.4 928.9,310.4 930.7,305.0 932.8,300.5 935.2,297.3 937.6,295.4 940.0,294.7 943.0,295.3 946.0,296.9 949.0,299.6 952.0,303.7 954.2,308.0 956.0,313.4 957.2,318.8 957.7,324.2 957.6,329.0 956.9,333.8 955.6,338.6 953.6,342.8 951.2,346.4 948.4,349.1 945.4,350.9 942.4,351.8Z M939.4,278.4 938.2,278.6 937.0,278.1 933.4,274.7 929.2,269.2 925.8,263.0 923.4,257.0 921.6,250.4 920.3,243.2 919.7,236.0 919.8,228.8 920.5,222.8 921.7,217.4 923.8,211.9 926.2,207.8 929.4,204.2 932.8,202.0 936.4,201.2 940.0,201.7 943.6,203.3 947.0,206.0 950.0,209.6 952.4,213.8 954.4,219.2 955.7,225.2 956.2,230.6 956.1,237.8 955.4,244.4 954.0,251.0 952.2,257.0 949.8,263.0 946.6,269.0 942.4,275.1 939.4,278.4Z M943.6,356.1 940.0,356.5 937.0,355.8 934.0,353.9 931.1,350.6 928.7,346.4 926.9,341.6 925.5,335.6 924.8,329.6 924.7,323.0 925.2,316.4 926.4,309.2 927.9,303.2 930.4,296.2 933.4,290.0 936.4,285.2 937.6,283.7 938.8,283.0 940.0,283.2 941.2,284.0 946.6,288.9 950.8,293.9 954.1,299.0 956.7,304.4 958.5,309.8 959.9,315.8 960.6,321.8 960.7,327.8 960.1,333.8 958.8,339.2 956.9,344.0 953.9,348.8 950.8,352.2 947.2,354.8 943.6,356.1Z M943.0,360.8 940.0,361.0 937.0,360.4 934.0,358.7 931.1,356.0 928.6,352.5 926.5,348.2 924.8,343.4 923.6,338.6 922.8,333.8 922.4,328.4 922.4,322.4 922.7,316.4 924.2,305.6 928.1,288.8 928.5,282.8 928.1,279.8 927.4,276.8 922.4,263.6 920.0,255.2 918.2,245.6 917.4,236.6 917.4,228.8 918.2,221.6 919.8,215.0 922.1,209.0 925.0,204.1 928.6,200.2 932.2,198.0 934.0,197.4 936.4,197.0 940.0,197.4 943.0,198.5 946.6,200.8 949.6,203.6 952.3,207.2 954.6,211.4 956.5,216.2 957.8,221.0 958.6,225.8 959.0,231.2 958.9,237.8 958.3,244.4 956.3,255.2 951.2,273.2 950.8,276.2 950.7,279.2 951.2,282.2 952.2,285.2 958.0,297.8 960.9,305.6 962.9,314.6 963.8,323.0 963.6,330.2 962.7,336.8 960.9,342.8 958.5,348.2 955.3,353.0 951.4,356.9 947.2,359.5 943.0,360.8Z M944.2,365.1 940.0,365.5 937.0,365.0 934.0,363.5 930.8,360.8 927.9,357.2 925.3,352.4 923.4,347.6 921.7,341.6 920.7,336.2 920.2,331.4 920.0,320.0 921.0,308.6 923.6,290.6 923.8,283.4 922.7,276.2 918.7,261.8 917.0,254.0 915.8,246.2 915.1,238.4 915.0,229.4 915.8,221.6 917.5,213.8 919.9,207.2 923.2,201.3 926.9,197.0 931.0,194.2 933.4,193.3 935.8,192.9 940.0,193.2 943.6,194.4 947.2,196.6 950.4,199.4 953.4,203.0 956.2,207.8 958.3,212.6 960.1,218.6 961.1,224.0 961.6,228.8 961.5,240.2 960.3,251.6 956.7,270.8 956.3,274.4 956.4,278.0 957.6,284.6 962.5,299.0 964.6,306.2 966.0,314.0 966.8,321.8 966.7,329.6 965.8,336.8 964.1,343.4 961.4,350.0 958.0,355.5 953.8,360.1 949.0,363.4 944.2,365.1Z M943.0,369.9 939.4,370.0 935.8,369.1 932.2,367.1 929.2,364.3 926.2,360.3 923.5,355.4 921.2,349.4 919.7,344.0 918.0,333.8 917.5,323.0 918.0,311.6 920.0,291.8 920.1,284.0 919.0,276.2 914.4,254.0 913.3,245.6 912.7,237.8 912.8,228.2 913.8,219.2 915.8,210.8 918.6,203.6 922.1,197.6 926.2,193.0 928.6,191.1 931.0,189.8 933.4,189.0 935.8,188.7 940.0,189.0 944.2,190.3 947.8,192.4 951.8,195.8 955.2,200.0 958.1,204.8 960.5,210.2 962.4,216.2 963.5,221.6 964.1,226.4 964.4,237.2 963.7,248.6 961.1,269.0 961.0,276.8 962.2,284.6 966.3,299.0 968.1,306.8 969.2,314.0 969.9,321.8 969.7,330.8 968.5,339.2 966.3,347.0 963.0,354.2 959.0,360.2 956.8,362.6 954.1,365.0 951.4,366.8 948.4,368.4 945.4,369.4 943.0,369.9Z M944.8,374.1 940.0,374.5 936.4,373.9 932.8,372.2 929.2,369.4 925.6,365.1 922.7,360.2 920.0,354.2 918.0,347.6 915.9,336.8 915.2,326.0 915.3,314.6 916.7,293.0 916.6,284.0 915.7,276.2 911.9,254.6 910.5,240.2 910.4,228.8 911.4,219.2 913.3,210.2 916.4,201.8 918.2,198.2 920.4,194.6 922.6,191.8 925.0,189.4 927.4,187.5 930.4,185.8 933.4,184.8 935.8,184.4 940.0,184.7 944.2,185.9 948.4,188.2 952.6,191.6 956.3,195.8 959.7,201.2 962.5,207.2 964.5,213.2 965.6,218.0 966.6,223.4 967.2,234.2 966.9,246.2 965.0,267.2 965.1,276.2 966.4,284.6 971.3,306.2 972.3,312.8 972.9,320.0 972.8,330.2 971.7,339.2 969.3,348.2 966.0,356.0 961.8,362.6 959.2,365.6 956.7,368.0 953.8,370.2 950.8,372.0 947.8,373.3 944.8,374.1Z M943.6,378.8 939.4,379.0 935.2,378.1 931.0,375.8 927.4,372.7 923.8,368.1 920.6,362.6 918.0,356.6 915.8,349.4 913.8,339.2 912.8,327.2 912.8,315.8 913.7,293.6 913.5,284.6 912.6,276.2 909.2,254.0 908.1,239.6 908.1,228.2 909.2,217.4 911.6,207.2 913.2,202.4 915.0,198.2 916.9,194.6 919.2,191.0 921.6,188.0 924.4,185.2 926.8,183.4 929.8,181.7 932.8,180.7 935.8,180.2 940.6,180.6 945.4,182.1 950.2,184.8 954.4,188.4 958.1,192.8 961.6,198.2 964.5,204.2 966.8,210.8 969.0,221.0 969.9,231.2 969.9,243.8 968.7,266.0 968.9,275.0 970.0,283.1 974.5,305.6 975.5,313.4 975.9,320.0 975.9,330.8 974.5,341.0 971.9,350.6 970.3,354.8 967.9,359.6 965.3,363.8 962.8,367.2 959.8,370.4 956.8,373.1 953.8,375.1 950.2,377.0 947.2,378.1 943.6,378.8Z M945.4,383.1 940.0,383.5 935.8,382.8 931.6,381.0 927.4,377.7 923.6,373.4 919.8,367.4 916.7,360.8 914.3,353.6 912.0,343.4 910.7,332.6 910.2,320.0 910.8,296.0 910.6,286.4 909.8,277.4 906.8,254.6 905.8,242.6 905.7,229.4 906.8,217.4 909.1,206.6 910.9,201.2 912.8,196.4 914.9,192.2 917.6,188.0 920.2,184.6 923.2,181.6 926.2,179.3 929.2,177.7 932.8,176.4 935.8,176.0 940.6,176.4 946.0,178.0 950.8,180.7 955.6,184.6 959.6,189.2 963.1,194.6 966.2,200.6 969.0,208.4 971.4,218.6 972.7,230.0 972.8,242.0 972.2,264.8 972.6,274.4 973.6,282.4 977.6,304.4 978.5,312.2 979.0,318.8 978.9,330.8 977.6,341.6 974.9,351.8 973.1,356.6 970.8,361.4 968.4,365.6 965.8,369.3 962.8,372.8 959.7,375.8 956.2,378.5 952.6,380.6 949.0,382.1 945.4,383.1Z M943.6,387.9 938.8,388.0 934.0,386.8 929.2,384.1 925.0,380.4 920.9,375.2 917.4,369.2 914.5,362.6 912.0,354.8 909.6,344.0 908.3,332.6 907.8,320.6 908.0,296.6 907.7,287.0 907.0,278.0 904.3,254.6 903.4,241.4 903.5,227.0 904.8,215.0 907.4,203.6 909.2,198.2 911.5,192.8 914.0,188.0 916.6,184.0 919.6,180.4 922.6,177.5 925.6,175.2 929.2,173.3 932.8,172.2 935.8,171.8 941.2,172.2 946.6,173.9 952.0,176.9 956.8,180.9 961.0,185.6 965.0,191.6 968.4,198.2 971.3,206.0 973.7,215.6 975.1,225.2 975.7,236.6 975.5,261.2 975.9,271.4 977.0,281.0 980.9,305.0 982.1,319.4 982.2,326.6 981.9,332.6 981.2,338.6 980.1,344.6 978.6,350.6 976.8,356.0 974.6,361.4 972.1,366.2 969.4,370.5 966.3,374.6 962.8,378.3 959.2,381.3 955.6,383.8 951.4,385.8 947.8,387.1 943.6,387.9Z M946.0,392.0 940.0,392.5 935.2,391.8 930.4,389.7 925.6,386.1 921.2,381.2 916.9,374.6 913.5,367.4 910.7,359.6 907.8,347.6 905.9,333.8 905.4,321.8 905.3,297.2 905.0,287.6 904.2,278.0 901.9,255.8 901.2,245.0 901.0,228.8 901.5,222.2 902.3,215.6 903.5,209.0 904.9,203.0 906.8,197.0 909.0,191.6 911.4,186.8 914.3,182.0 917.5,177.8 920.8,174.4 924.4,171.6 928.0,169.5 931.6,168.3 935.8,167.6 941.2,168.0 947.2,169.8 952.6,172.7 958.0,177.1 962.5,182.0 966.6,188.0 970.3,195.2 973.3,203.0 976.2,213.8 977.7,224.0 978.5,235.4 978.7,260.0 979.2,269.6 980.2,279.2 983.9,303.8 985.1,317.6 985.2,324.8 985.0,331.4 984.5,337.4 983.4,344.0 982.1,350.0 980.3,356.0 978.2,361.4 975.7,366.8 972.9,371.6 969.6,376.4 965.9,380.6 962.2,384.1 958.6,386.8 954.4,389.2 950.2,390.9 946.0,392.0Z M902.6,478.5 A48.2,32.3 0 0 1 999.0,478.5 M903.9,478.5 A47.1,31.5 0 0 1 998.1,478.5 M905.2,478.5 A46.0,30.6 0 0 1 997.2,478.5 M906.4,478.5 A44.9,29.8 0 0 1 996.3,478.5 M907.7,478.5 A43.8,29.0 0 0 1 995.4,478.5 M909.0,478.5 A42.8,28.1 0 0 1 994.5,478.5 M910.3,478.5 A41.7,27.3 0 0 1 993.6,478.5 M911.6,478.5 A40.6,26.5 0 0 1 992.7,478.5 M912.8,478.5 A39.5,25.7 0 0 1 991.8,478.5 M914.1,478.5 A38.4,24.8 0 0 1 990.9,478.5 M915.4,478.5 A37.3,24.0 0 0 1 990.0,478.5 M919.0,478.5 A29.0,23.0 0 0 1 977.0,478.5 M922.8,478.5 A24.8,19.6 0 0 1 972.4,478.5 M926.6,478.5 A20.6,16.2 0 0 1 967.8,478.5 M930.4,478.5 A16.4,12.8 0 0 1 963.2,478.5 M934.2,478.5 A12.2,9.4 0 0 1 958.6,478.5 M938.0,478.5 A8.0,6.0 0 0 1 954.0,478.5" fill="none" stroke="#505050" stroke-width="1.0" stroke-linejoin="round"/>
<rect x="923.30" y="474.00" width="52.50" height="4.50" fill="#000" stroke="none" stroke-width="0"/>
<rect x="863.00" y="128.20" width="142.00" height="141.60" fill="none" stroke="#111" stroke-width="1.5"/>
<line x1="1005.40" y1="127.50" x2="1005.40" y2="271.00" stroke="#000" stroke-width="2.8" stroke-linecap="butt"/>
<line x1="862.30" y1="270.00" x2="1006.70" y2="270.00" stroke="#000" stroke-width="2.0" stroke-linecap="butt"/>
<text transform="translate(741.15,190.70) scale(0.8709,1)" font-size="19.57" fill="#000">CD4+IFN-y+</text>
<text transform="translate(771.48,215.50) scale(0.9312,1)" font-size="19.86" fill="#000">22.5</text>
<text transform="translate(705.73,314.40) scale(1.0031,1)" font-size="36.14" font-weight="bold" fill="#000">22.2</text>
<rect x="963.30" y="164.70" width="5.40" height="5.40" fill="#000" stroke="none" stroke-width="0"/>
<rect x="994.80" y="308.50" width="5.40" height="5.40" fill="#000" stroke="none" stroke-width="0"/>
<rect x="964.50" y="376.90" width="5.40" height="5.40" fill="#000" stroke="none" stroke-width="0"/>
<rect x="128.30" y="686.00" width="427.20" height="426.50" fill="none" stroke="#1a1a1a" stroke-width="1.6"/>
<line x1="129.40" y1="1112.50" x2="129.40" y2="1123.50" stroke="#000" stroke-width="2.6" stroke-linecap="butt"/>
<line x1="152.97" y1="1112.50" x2="152.97" y2="1118.50" stroke="#000" stroke-width="1.4" stroke-linecap="butt"/>
<line x1="166.76" y1="1112.50" x2="166.76" y2="1118.50" stroke="#000" stroke-width="1.4" stroke-linecap="butt"/>
<line x1="176.54" y1="1112.50" x2="176.54" y2="1118.50" stroke="#000" stroke-width="1.4" stroke-linecap="butt"/>
<line x1="184.13" y1="1112.50" x2="184.13" y2="1119.80" stroke="#000" stroke-width="1.4" stroke-linecap="butt"/>
<line x1="190.33" y1="1112.50" x2="190.33" y2="1118.50" stroke="#000" stroke-width="1.4" stroke-linecap="butt"/>
<line x1="195.57" y1="1112.50" x2="195.57" y2="1118.50" stroke="#000" stroke-width="1.4" stroke-linecap="butt"/>
<line x1="200.11" y1="1112.50" x2="200.11" y2="1118.50" stroke="#000" stroke-width="1.4" stroke-linecap="butt"/>
<line x1="204.12" y1="1112.50" x2="204.12" y2="1118.50" stroke="#000" stroke-width="1.4" stroke-linecap="butt"/>
<line x1="207.70" y1="1112.50" x2="207.70" y2="1123.50" stroke="#000" stroke-width="2.6" stroke-linecap="butt"/>
<line x1="231.27" y1="1112.50" x2="231.27" y2="1118.50" stroke="#000" stroke-width="1.4" stroke-linecap="butt"/>
<line x1="245.06" y1="1112.50" x2="245.06" y2="1118.50" stroke="#000" stroke-width="1.4" stroke-linecap="butt"/>
<line x1="254.84" y1="1112.50" x2="254.84" y2="1118.50" stroke="#000" stroke-width="1.4" stroke-linecap="butt"/>
<line x1="262.43" y1="1112.50" x2="262.43" y2="1119.80" stroke="#000" stroke-width="1.4" stroke-linecap="butt"/>
<line x1="268.63" y1="1112.50" x2="268.63" y2="1118.50" stroke="#000" stroke-width="1.4" stroke-linecap="butt"/>
<line x1="273.87" y1="1112.50" x2="273.87" y2="1118.50" stroke="#000" stroke-width="1.4" stroke-linecap="butt"/>
<line x1="278.41" y1="1112.50" x2="278.41" y2="1118.50" stroke="#000" stroke-width="1.4" stroke-linecap="butt"/>
<line x1="282.42" y1="1112.50" x2="282.42" y2="1118.50" stroke="#000" stroke-width="1.4" stroke-linecap="butt"/>
<line x1="286.00" y1="1112.50" x2="286.00" y2="1123.50" stroke="#000" stroke-width="2.6" stroke-linecap="butt"/>
<line x1="309.57" y1="1112.50" x2="309.57" y2="1118.50" stroke="#000" stroke-width="1.4" stroke-linecap="butt"/>
<line x1="323.36" y1="1112.50" x2="323.36" y2="1118.50" stroke="#000" stroke-width="1.4" stroke-linecap="butt"/>
<line x1="333.14" y1="1112.50" x2="333.14" y2="1118.50" stroke="#000" stroke-width="1.4" stroke-linecap="butt"/>
<line x1="340.73" y1="1112.50" x2="340.73" y2="1119.80" stroke="#000" stroke-width="1.4" stroke-linecap="butt"/>
<line x1="346.93" y1="1112.50" x2="346.93" y2="1118.50" stroke="#000" stroke-width="1.4" stroke-linecap="butt"/>
<line x1="352.17" y1="1112.50" x2="352.17" y2="1118.50" stroke="#000" stroke-width="1.4" stroke-linecap="butt"/>
<line x1="356.71" y1="1112.50" x2="356.71" y2="1118.50" stroke="#000" stroke-width="1.4" stroke-linecap="butt"/>
<line x1="360.72" y1="1112.50" x2="360.72" y2="1118.50" stroke="#000" stroke-width="1.4" stroke-linecap="butt"/>
<line x1="364.30" y1="1112.50" x2="364.30" y2="1123.50" stroke="#000" stroke-width="2.6" stroke-linecap="butt"/>
<line x1="387.87" y1="1112.50" x2="387.87" y2="1118.50" stroke="#000" stroke-width="1.4" stroke-linecap="butt"/>
<line x1="401.66" y1="1112.50" x2="401.66" y2="1118.50" stroke="#000" stroke-width="1.4" stroke-linecap="butt"/>
<line x1="411.44" y1="1112.50" x2="411.44" y2="1118.50" stroke="#000" stroke-width="1.4" stroke-linecap="butt"/>
<line x1="419.03" y1="1112.50" x2="419.03" y2="1119.80" stroke="#000" stroke-width="1.4" stroke-linecap="butt"/>
<line x1="425.23" y1="1112.50" x2="425.23" y2="1118.50" stroke="#000" stroke-width="1.4" stroke-linecap="butt"/>
<line x1="430.47" y1="1112.50" x2="430.47" y2="1118.50" stroke="#000" stroke-width="1.4" stroke-linecap="butt"/>
<line x1="435.01" y1="1112.50" x2="435.01" y2="1118.50" stroke="#000" stroke-width="1.4" stroke-linecap="butt"/>
<line x1="439.02" y1="1112.50" x2="439.02" y2="1118.50" stroke="#000" stroke-width="1.4" stroke-linecap="butt"/>
<line x1="442.60" y1="1112.50" x2="442.60" y2="1123.50" stroke="#000" stroke-width="2.6" stroke-linecap="butt"/>
<line x1="466.17" y1="1112.50" x2="466.17" y2="1118.50" stroke="#000" stroke-width="1.4" stroke-linecap="butt"/>
<line x1="479.96" y1="1112.50" x2="479.96" y2="1118.50" stroke="#000" stroke-width="1.4" stroke-linecap="butt"/>
<line x1="489.74" y1="1112.50" x2="489.74" y2="1118.50" stroke="#000" stroke-width="1.4" stroke-linecap="butt"/>
<line x1="497.33" y1="1112.50" x2="497.33" y2="1119.80" stroke="#000" stroke-width="1.4" stroke-linecap="butt"/>
<line x1="503.53" y1="1112.50" x2="503.53" y2="1118.50" stroke="#000" stroke-width="1.4" stroke-linecap="butt"/>
<line x1="508.77" y1="1112.50" x2="508.77" y2="1118.50" stroke="#000" stroke-width="1.4" stroke-linecap="butt"/>
<line x1="513.31" y1="1112.50" x2="513.31" y2="1118.50" stroke="#000" stroke-width="1.4" stroke-linecap="butt"/>
<line x1="517.32" y1="1112.50" x2="517.32" y2="1118.50" stroke="#000" stroke-width="1.4" stroke-linecap="butt"/>
<line x1="520.90" y1="1112.50" x2="520.90" y2="1123.50" stroke="#000" stroke-width="2.6" stroke-linecap="butt"/>
<line x1="544.47" y1="1112.50" x2="544.47" y2="1118.50" stroke="#000" stroke-width="1.4" stroke-linecap="butt"/>
<text transform="translate(136.98,1148.80) scale(0.8351,1)" font-size="16.29" fill="#000">10</text>
<text transform="translate(152.25,1139.00) scale(0.8443,1)" font-size="16.29" fill="#000">0</text>
<text transform="translate(208.38,1148.80) scale(0.8351,1)" font-size="16.29" fill="#000">10</text>
<text transform="translate(223.06,1139.00) scale(0.9183,1)" font-size="16.52" fill="#000">1</text>
<text transform="translate(286.68,1148.80) scale(0.8351,1)" font-size="16.29" fill="#000">10</text>
<text transform="translate(301.77,1139.00) scale(0.8907,1)" font-size="16.29" fill="#000">2</text>
<text transform="translate(364.98,1148.80) scale(0.8351,1)" font-size="16.29" fill="#000">10</text>
<text transform="translate(380.24,1139.00) scale(0.8532,1)" font-size="16.29" fill="#000">3</text>
<text transform="translate(443.28,1148.80) scale(0.8351,1)" font-size="16.29" fill="#000">10</text>
<text transform="translate(458.84,1139.00) scale(0.7910,1)" font-size="16.52" fill="#000">4</text>
<text transform="translate(521.58,1148.80) scale(0.8351,1)" font-size="16.29" fill="#000">10</text>
<text transform="translate(536.84,1139.00) scale(0.8410,1)" font-size="16.52" fill="#000">5</text>
<line x1="122.30" y1="1100.24" x2="128.30" y2="1100.24" stroke="#000" stroke-width="1.4" stroke-linecap="butt"/>
<line x1="119.30" y1="1089.68" x2="128.30" y2="1089.68" stroke="#000" stroke-width="1.4" stroke-linecap="butt"/>
<line x1="122.30" y1="1081.06" x2="128.30" y2="1081.06" stroke="#000" stroke-width="1.4" stroke-linecap="butt"/>
<line x1="122.30" y1="1073.77" x2="128.30" y2="1073.77" stroke="#000" stroke-width="1.4" stroke-linecap="butt"/>
<line x1="122.30" y1="1067.45" x2="128.30" y2="1067.45" stroke="#000" stroke-width="1.4" stroke-linecap="butt"/>
<line x1="122.30" y1="1061.88" x2="128.30" y2="1061.88" stroke="#000" stroke-width="1.4" stroke-linecap="butt"/>
<line x1="115.80" y1="1056.90" x2="128.30" y2="1056.90" stroke="#000" stroke-width="2.6" stroke-linecap="butt"/>
<line x1="122.30" y1="1024.12" x2="128.30" y2="1024.12" stroke="#000" stroke-width="1.4" stroke-linecap="butt"/>
<line x1="122.30" y1="1004.94" x2="128.30" y2="1004.94" stroke="#000" stroke-width="1.4" stroke-linecap="butt"/>
<line x1="122.30" y1="991.34" x2="128.30" y2="991.34" stroke="#000" stroke-width="1.4" stroke-linecap="butt"/>
<line x1="119.30" y1="980.78" x2="128.30" y2="980.78" stroke="#000" stroke-width="1.4" stroke-linecap="butt"/>
<line x1="122.30" y1="972.16" x2="128.30" y2="972.16" stroke="#000" stroke-width="1.4" stroke-linecap="butt"/>
<line x1="122.30" y1="964.87" x2="128.30" y2="964.87" stroke="#000" stroke-width="1.4" stroke-linecap="butt"/>
<line x1="122.30" y1="958.55" x2="128.30" y2="958.55" stroke="#000" stroke-width="1.4" stroke-linecap="butt"/>
<line x1="122.30" y1="952.98" x2="128.30" y2="952.98" stroke="#000" stroke-width="1.4" stroke-linecap="butt"/>
<line x1="115.80" y1="948.00" x2="128.30" y2="948.00" stroke="#000" stroke-width="2.6" stroke-linecap="butt"/>
<line x1="122.30" y1="915.22" x2="128.30" y2="915.22" stroke="#000" stroke-width="1.4" stroke-linecap="butt"/>
<line x1="122.30" y1="896.04" x2="128.30" y2="896.04" stroke="#000" stroke-width="1.4" stroke-linecap="butt"/>
<line x1="122.30" y1="882.44" x2="128.30" y2="882.44" stroke="#000" stroke-width="1.4" stroke-linecap="butt"/>
<line x1="119.30" y1="871.88" x2="128.30" y2="871.88" stroke="#000" stroke-width="1.4" stroke-linecap="butt"/>
<line x1="122.30" y1="863.26" x2="128.30" y2="863.26" stroke="#000" stroke-width="1.4" stroke-linecap="butt"/>
<line x1="122.30" y1="855.97" x2="128.30" y2="855.97" stroke="#000" stroke-width="1.4" stroke-linecap="butt"/>
<line x1="122.30" y1="849.65" x2="128.30" y2="849.65" stroke="#000" stroke-width="1.4" stroke-linecap="butt"/>
<line x1="122.30" y1="844.08" x2="128.30" y2="844.08" stroke="#000" stroke-width="1.4" stroke-linecap="butt"/>
<line x1="115.80" y1="839.10" x2="128.30" y2="839.10" stroke="#000" stroke-width="2.6" stroke-linecap="butt"/>
<line x1="122.30" y1="806.32" x2="128.30" y2="806.32" stroke="#000" stroke-width="1.4" stroke-linecap="butt"/>
<line x1="122.30" y1="787.14" x2="128.30" y2="787.14" stroke="#000" stroke-width="1.4" stroke-linecap="butt"/>
<line x1="122.30" y1="773.54" x2="128.30" y2="773.54" stroke="#000" stroke-width="1.4" stroke-linecap="butt"/>
<line x1="119.30" y1="762.98" x2="128.30" y2="762.98" stroke="#000" stroke-width="1.4" stroke-linecap="butt"/>
<line x1="122.30" y1="754.36" x2="128.30" y2="754.36" stroke="#000" stroke-width="1.4" stroke-linecap="butt"/>
<line x1="122.30" y1="747.07" x2="128.30" y2="747.07" stroke="#000" stroke-width="1.4" stroke-linecap="butt"/>
<line x1="122.30" y1="740.75" x2="128.30" y2="740.75" stroke="#000" stroke-width="1.4" stroke-linecap="butt"/>
<line x1="122.30" y1="735.18" x2="128.30" y2="735.18" stroke="#000" stroke-width="1.4" stroke-linecap="butt"/>
<line x1="115.80" y1="730.20" x2="128.30" y2="730.20" stroke="#000" stroke-width="2.6" stroke-linecap="butt"/>
<line x1="122.30" y1="697.42" x2="128.30" y2="697.42" stroke="#000" stroke-width="1.4" stroke-linecap="butt"/>
<text transform="translate(85.07,1067.00) scale(0.8400,1)" font-size="16.43" fill="#000">10</text>
<text transform="translate(99.71,1057.10) scale(0.9632,1)" font-size="16.43" fill="#000">2</text>
<text transform="translate(85.07,958.10) scale(0.8400,1)" font-size="16.43" fill="#000">10</text>
<text transform="translate(99.89,948.20) scale(0.9227,1)" font-size="16.43" fill="#000">3</text>
<text transform="translate(85.07,849.20) scale(0.8400,1)" font-size="16.43" fill="#000">10</text>
<text transform="translate(100.21,839.30) scale(0.8554,1)" font-size="16.67" fill="#000">4</text>
<text transform="translate(85.07,740.30) scale(0.8400,1)" font-size="16.43" fill="#000">10</text>
<text transform="translate(99.89,730.40) scale(0.9095,1)" font-size="16.67" fill="#000">5</text>
<path d="M437.1,900.7 434.7,901.1 431.7,900.5 429.3,899.2 426.3,896.7 423.5,893.4 421.3,889.8 419.4,885.6 418.0,881.4 417.5,879.0 417.4,876.0 418.8,871.2 420.3,868.8 422.1,866.9 424.5,865.4 426.9,864.4 429.3,864.1 431.7,864.2 434.1,864.8 436.5,866.0 440.2,869.4 441.6,871.8 442.5,874.2 444.0,883.2 443.5,891.0 442.7,894.0 441.3,897.1 439.5,899.2 437.1,900.7Z M438.3,1053.7 434.1,1053.9 430.5,1052.8 426.9,1050.4 423.4,1046.4 420.7,1041.6 418.6,1036.2 417.1,1029.6 416.5,1023.0 416.6,1015.2 417.5,1007.4 419.2,1000.2 421.6,993.6 424.6,988.2 428.1,984.2 431.7,981.9 435.3,981.0 438.9,981.6 442.5,983.7 445.5,986.7 448.5,991.3 451.0,997.2 452.8,1003.2 454.1,1010.4 454.7,1017.6 454.7,1024.2 454.0,1030.2 452.6,1036.2 450.5,1041.6 447.9,1046.2 444.9,1049.8 441.9,1052.2 438.3,1053.7Z M438.3,1079.4 435.3,1079.6 431.7,1079.2 428.7,1078.4 425.1,1076.7 419.1,1072.2 413.7,1065.6 409.0,1057.2 405.5,1047.6 403.0,1036.8 401.8,1025.4 401.9,1012.8 403.3,999.6 405.7,987.6 409.3,976.2 413.3,967.2 417.9,959.6 423.9,952.0 433.2,942.6 434.5,940.8 434.8,939.0 434.3,937.2 432.7,934.8 423.3,923.5 417.9,916.2 413.8,909.6 410.3,903.0 406.3,893.4 403.3,883.8 402.6,877.8 402.9,872.4 403.9,868.2 405.9,863.4 408.3,859.5 411.3,856.2 414.9,853.2 419.1,850.9 423.9,849.3 428.1,848.8 432.9,849.0 437.7,850.1 442.5,852.3 446.4,855.0 450.1,858.6 453.1,862.8 455.4,867.6 456.8,872.4 458.8,882.6 459.7,892.2 459.5,901.2 458.2,910.2 456.2,917.4 453.3,923.9 449.7,929.6 443.6,937.2 442.6,939.0 442.4,940.2 442.9,942.0 443.9,943.8 450.9,953.7 455.7,961.5 459.1,968.4 462.1,975.6 464.9,984.6 467.0,993.6 468.6,1003.8 469.4,1014.0 469.4,1026.0 468.1,1037.4 465.6,1048.2 461.9,1057.8 457.1,1066.2 451.5,1072.7 448.5,1075.2 444.9,1077.4 441.9,1078.6 438.3,1079.4Z" fill="#606060" fill-opacity="0.3" fill-rule="evenodd" stroke="none"/>
<path d="M389.5,1112.5 A52.5,34.8 0 0 1 494.5,1112.5 L480.0,1112.5 A40.0,23.5 0 0 0 400.0,1112.5 Z" fill="#505050" fill-opacity="0.45" stroke="none"/>
<path d="M432.9,885.8 431.1,885.8 428.9,884.4 427.2,882.0 426.0,879.0 425.7,877.2 426.3,875.1 427.5,873.6 429.3,872.8 431.1,872.7 432.9,873.6 434.1,874.8 434.8,876.6 435.3,879.6 435.1,882.6 434.1,884.8 432.9,885.8Z M437.7,1039.3 435.3,1039.6 432.9,1039.0 431.1,1037.9 428.9,1035.6 427.1,1032.6 426.0,1029.6 425.2,1026.0 424.8,1022.4 424.8,1018.2 425.3,1013.4 426.3,1009.2 427.5,1005.6 429.3,1002.4 431.1,1000.2 432.9,998.9 435.3,998.2 437.7,998.6 439.5,999.7 441.3,1001.5 442.8,1003.8 444.2,1006.8 445.3,1010.4 446.0,1014.0 446.4,1018.2 446.2,1024.8 445.5,1028.4 444.6,1031.4 443.1,1034.4 441.3,1036.8 439.5,1038.4 437.7,1039.3Z M432.9,889.9 431.7,889.8 429.9,889.0 427.5,886.8 425.2,883.2 423.7,879.0 423.7,876.0 424.6,873.6 426.3,871.7 428.7,870.6 431.7,870.6 434.1,871.8 435.9,873.7 437.0,876.6 437.6,881.4 437.1,885.6 436.4,887.4 435.3,888.8 434.1,889.6 432.9,889.9Z M438.3,1042.9 435.3,1043.4 432.9,1042.9 430.5,1041.6 428.0,1039.2 426.1,1036.2 424.3,1032.0 423.2,1027.8 422.6,1023.0 422.6,1017.6 423.2,1012.2 424.2,1007.4 425.9,1002.6 427.9,999.0 429.9,996.4 432.3,994.6 435.3,993.7 437.7,994.1 440.1,995.4 442.0,997.2 444.1,1000.2 445.8,1003.8 447.1,1008.0 448.1,1012.8 448.6,1017.6 448.6,1021.8 448.3,1026.0 447.5,1030.2 446.3,1033.8 444.4,1037.4 442.6,1039.8 440.7,1041.6 438.3,1042.9Z M435.3,893.5 433.5,893.8 431.7,893.6 429.9,892.7 428.1,891.4 426.3,889.4 424.5,886.8 423.0,883.8 422.0,880.8 421.4,877.2 422.1,873.6 423.1,871.8 424.1,870.6 425.7,869.4 427.5,868.6 429.3,868.2 431.1,868.2 434.1,869.2 435.9,870.4 437.1,871.7 438.7,874.8 439.8,880.8 439.9,883.8 439.5,886.8 438.9,889.2 438.0,891.0 436.5,892.7 435.3,893.5Z M437.1,1047.0 434.1,1047.0 431.1,1046.0 428.1,1043.7 425.7,1040.8 423.5,1036.8 422.0,1032.6 420.9,1027.8 420.4,1022.4 420.6,1015.8 421.3,1009.8 422.6,1004.4 424.5,999.2 426.9,994.9 429.3,992.1 432.3,990.0 435.3,989.2 438.3,989.7 441.3,991.5 443.7,994.1 446.0,997.8 448.1,1002.6 449.4,1007.4 450.4,1013.4 450.8,1018.8 450.7,1024.2 450.1,1029.0 448.8,1033.8 447.1,1038.0 444.9,1041.6 442.5,1044.3 440.1,1046.0 437.1,1047.0Z M435.3,897.7 433.5,897.8 431.1,897.1 428.7,895.7 426.3,893.5 424.3,891.0 422.2,887.4 420.7,883.8 419.5,880.2 419.2,877.8 419.3,875.4 420.0,873.0 420.8,871.2 422.2,869.4 423.9,867.9 425.7,866.8 427.5,866.2 429.3,865.9 431.7,866.0 434.1,866.7 435.9,867.7 437.7,869.2 439.3,871.2 440.3,873.0 441.0,875.4 441.8,879.0 442.1,883.2 442.0,886.8 441.4,890.4 440.3,893.4 438.9,895.6 437.1,897.0 435.3,897.7Z M437.7,1050.7 434.1,1050.8 430.5,1049.6 427.5,1047.5 424.5,1044.0 421.8,1039.2 420.1,1034.4 418.8,1028.4 418.2,1022.4 418.4,1015.2 419.3,1008.0 420.7,1002.0 423.0,996.0 425.7,991.1 428.7,987.7 431.7,985.6 433.5,985.0 435.3,984.7 437.1,984.8 438.9,985.4 441.9,987.2 444.9,990.3 447.4,994.2 449.5,999.0 451.3,1005.0 452.4,1011.6 453.0,1018.2 452.9,1024.2 452.2,1029.6 450.9,1035.0 449.1,1039.8 446.7,1044.0 444.2,1047.0 441.3,1049.3 437.7,1050.7Z M434.7,901.8 432.3,901.4 429.3,899.9 426.9,898.0 424.3,895.2 421.9,891.6 420.0,888.0 418.3,883.8 417.2,879.6 417.0,876.6 417.3,874.2 418.1,871.8 419.4,869.4 420.9,867.5 422.7,866.0 425.1,864.6 427.5,863.9 430.5,863.6 433.5,864.2 435.9,865.2 438.3,866.8 440.2,868.8 441.7,871.2 442.7,873.6 443.6,877.2 444.3,882.0 444.4,886.8 444.0,891.0 443.1,894.6 441.7,897.6 439.5,900.2 437.1,901.5 434.7,901.8Z M438.9,1054.2 437.1,1054.6 434.7,1054.7 431.1,1053.8 428.7,1052.5 427.0,1051.2 423.6,1047.6 420.7,1042.8 418.4,1036.8 416.9,1030.8 416.1,1023.6 416.2,1015.8 417.0,1008.0 418.7,1000.2 421.1,993.6 424.0,988.2 427.5,983.9 431.1,981.3 432.9,980.6 435.3,980.2 438.9,980.8 442.5,982.8 445.5,985.8 448.5,990.2 451.1,996.0 453.0,1002.0 454.3,1008.6 455.1,1016.4 455.1,1023.0 454.5,1029.6 453.2,1035.6 451.3,1041.0 448.8,1045.8 446.1,1049.4 442.5,1052.5 438.9,1054.2Z M438.3,905.5 435.3,905.9 431.7,905.0 428.7,903.4 425.5,900.6 422.5,897.0 419.5,892.2 417.1,886.8 415.5,882.0 414.9,878.4 414.9,875.4 415.5,872.4 416.8,869.4 418.5,866.8 420.9,864.5 423.3,863.0 426.3,861.8 429.3,861.4 432.3,861.6 435.3,862.5 437.7,863.7 440.4,865.8 442.4,868.2 443.8,870.6 444.9,873.6 446.1,879.0 446.7,884.4 446.7,889.2 446.1,894.0 444.9,898.2 443.1,901.6 440.7,904.2 438.3,905.5Z M436.5,1058.4 432.3,1058.0 428.1,1056.2 424.3,1053.0 420.7,1048.2 418.0,1042.8 415.8,1036.2 414.4,1029.0 413.9,1021.8 414.2,1013.4 415.4,1004.4 417.4,996.0 420.0,989.4 423.3,983.6 426.9,979.4 428.7,978.0 431.1,976.6 432.9,976.0 435.3,975.6 437.7,975.8 439.5,976.3 441.9,977.5 443.7,978.8 447.3,982.7 450.7,988.2 453.4,994.8 455.5,1002.6 456.8,1010.4 457.3,1019.4 457.1,1026.6 456.0,1033.8 454.1,1040.4 451.5,1046.4 448.5,1051.1 444.9,1054.8 440.7,1057.4 436.5,1058.4Z M438.9,909.7 435.3,910.0 431.7,909.0 428.1,906.9 424.5,903.7 420.9,899.1 417.8,894.0 415.2,888.0 413.3,882.0 412.7,878.4 412.8,874.8 413.6,871.2 414.9,868.2 416.9,865.2 419.4,862.8 422.7,860.7 425.7,859.6 428.7,859.2 432.3,859.3 435.9,860.3 438.9,861.9 441.9,864.3 444.2,867.0 445.9,870.0 447.1,873.6 448.3,879.6 449.0,885.6 448.9,891.6 448.2,897.0 446.7,901.7 444.7,905.4 441.9,908.3 438.9,909.7Z M437.7,1062.1 435.3,1062.2 432.9,1062.0 430.5,1061.3 428.1,1060.1 423.9,1056.9 419.8,1051.8 416.6,1045.8 414.0,1038.6 412.4,1030.8 411.7,1022.4 412.0,1012.8 413.3,1003.2 415.4,994.2 418.4,986.4 422.1,979.8 424.0,977.4 426.3,975.0 428.1,973.6 430.5,972.2 432.9,971.3 435.3,971.0 437.7,971.1 440.1,971.8 442.5,973.0 444.3,974.3 446.7,976.6 448.5,978.8 452.0,984.6 454.8,991.2 457.2,999.6 458.8,1008.6 459.5,1018.2 459.3,1026.6 458.3,1033.8 456.4,1041.0 453.8,1047.6 450.6,1053.0 446.7,1057.5 442.5,1060.5 440.1,1061.5 437.7,1062.1Z M440.1,913.9 436.5,914.3 432.3,913.3 428.1,910.9 423.9,907.1 420.1,902.4 416.5,896.4 413.5,889.8 411.2,882.6 410.5,878.4 410.6,874.8 411.5,870.6 413.0,867.0 415.0,864.0 418.1,861.0 421.5,858.8 425.1,857.5 428.7,856.9 432.3,857.1 435.9,858.0 439.5,859.7 442.8,862.2 445.5,865.2 447.6,868.8 449.0,872.4 450.5,879.6 451.3,886.8 451.2,893.4 450.4,899.4 448.8,904.8 446.5,909.0 443.7,912.0 441.9,913.2 440.1,913.9Z M438.9,1065.7 436.5,1066.0 433.5,1065.9 430.5,1065.1 428.1,1064.1 425.7,1062.6 423.3,1060.7 419.1,1055.8 417.0,1052.4 415.2,1048.8 412.3,1041.0 410.5,1032.6 409.6,1023.6 409.8,1012.8 411.0,1002.6 413.4,992.4 416.5,984.0 420.4,976.8 422.7,973.6 425.1,971.1 427.5,969.1 429.9,967.6 432.3,966.7 435.3,966.2 437.7,966.3 440.1,967.0 442.5,968.1 444.9,969.7 449.1,974.1 453.1,980.4 456.5,988.2 459.0,996.6 460.7,1006.2 461.6,1016.4 461.6,1024.8 460.7,1033.2 458.9,1041.0 456.0,1048.8 452.7,1054.9 448.5,1060.1 446.1,1062.2 443.7,1063.8 441.3,1064.9 438.9,1065.7Z M440.7,918.6 438.9,918.9 436.5,918.9 432.3,917.6 427.5,914.7 422.7,910.1 418.5,904.6 414.7,898.2 411.6,891.0 409.1,883.2 408.3,879.0 408.4,874.2 409.4,870.0 411.2,865.8 413.6,862.2 416.7,859.2 420.3,856.9 424.5,855.3 428.7,854.6 432.9,854.9 437.1,856.0 441.3,858.2 444.7,861.0 447.7,864.6 449.9,868.8 451.3,873.0 452.9,880.8 453.6,888.6 453.5,895.8 452.4,903.0 450.4,909.0 447.9,913.4 446.1,915.5 444.3,916.9 440.7,918.6Z M439.5,1069.3 436.5,1069.8 433.5,1069.7 430.5,1069.0 428.1,1068.0 425.1,1066.3 422.7,1064.4 420.3,1062.0 417.9,1058.9 415.6,1055.4 413.8,1051.8 410.6,1043.4 408.5,1034.4 407.4,1024.2 407.6,1012.8 409.1,1000.8 411.6,990.0 414.8,981.0 416.9,976.8 419.1,973.0 421.5,969.7 424.3,966.6 426.9,964.5 429.9,962.6 432.9,961.5 435.3,961.2 438.3,961.4 440.7,962.1 443.1,963.2 445.5,964.9 447.9,967.2 450.3,970.0 454.5,976.8 458.0,984.6 460.8,994.2 462.8,1004.4 463.8,1015.8 463.7,1025.4 462.7,1034.4 460.8,1042.8 457.7,1051.2 454.1,1057.8 449.7,1063.2 447.3,1065.4 444.9,1067.1 442.5,1068.3 439.5,1069.3Z M440.1,924.0 438.3,924.1 435.9,923.8 433.5,923.0 431.1,921.8 428.7,920.2 425.7,917.6 420.9,912.4 416.4,906.0 412.2,898.2 409.2,891.0 406.7,882.6 406.1,877.2 406.5,872.4 407.9,867.6 410.0,863.4 413.1,859.4 416.7,856.4 420.9,854.1 425.1,852.8 429.9,852.4 435.3,853.1 440.1,855.0 444.3,857.8 448.1,861.6 450.8,865.8 452.6,870.0 454.2,876.0 455.5,884.4 456.0,893.4 455.4,901.2 453.9,908.4 451.5,914.4 448.3,919.2 446.1,921.4 444.3,922.6 442.5,923.4 440.1,924.0Z M437.7,1073.4 434.7,1073.5 431.7,1073.1 428.7,1072.2 425.7,1070.7 422.7,1068.6 420.1,1066.2 417.5,1063.2 415.0,1059.6 411.0,1051.8 408.0,1042.8 406.0,1032.6 405.2,1021.8 405.7,1009.2 407.4,997.2 410.3,985.8 414.0,976.2 418.5,968.2 421.0,964.8 423.9,961.7 426.9,959.1 429.9,957.3 432.9,956.1 435.9,955.6 438.9,955.9 441.3,956.7 443.7,957.9 446.7,960.2 449.7,963.4 452.1,966.5 456.6,974.4 459.0,979.8 460.7,984.6 463.4,994.8 465.2,1006.2 466.0,1018.8 465.6,1029.0 464.2,1038.6 461.6,1048.2 458.2,1056.0 453.9,1062.9 451.5,1065.8 449.1,1068.1 446.7,1069.9 443.7,1071.7 440.7,1072.8 437.7,1073.4Z M441.3,930.6 439.5,930.9 437.1,930.6 434.7,929.8 432.3,928.4 429.3,926.1 426.3,923.3 420.3,916.4 415.2,909.0 411.0,901.2 407.3,892.2 404.6,883.2 403.9,877.8 404.3,872.4 405.7,867.0 408.1,862.2 411.3,858.1 414.9,854.9 419.7,852.2 424.5,850.6 429.9,850.1 435.3,850.8 440.7,852.8 445.5,856.0 449.4,859.8 452.6,864.6 454.7,869.4 456.5,876.6 457.9,886.2 458.3,895.2 457.7,903.6 456.1,911.4 453.7,918.0 452.1,921.0 450.1,924.0 447.9,926.6 445.5,928.6 443.7,929.7 441.3,930.6Z M438.9,1077.0 435.3,1077.3 432.3,1077.0 428.7,1076.0 425.7,1074.7 422.7,1072.7 419.7,1070.1 416.7,1066.8 414.1,1063.2 411.6,1059.0 409.6,1054.8 407.5,1049.4 406.1,1044.6 404.8,1039.2 403.8,1033.2 403.0,1021.8 403.6,1008.0 405.5,994.8 408.6,982.8 412.6,972.6 415.1,967.8 417.9,963.2 420.9,959.2 423.9,955.9 427.5,952.8 431.1,950.4 434.1,949.1 437.1,948.6 439.5,948.9 442.5,950.2 444.9,951.9 447.9,954.8 450.9,958.4 453.7,962.4 456.3,966.9 458.8,972.0 462.6,982.2 465.5,993.6 467.4,1005.6 468.2,1018.2 467.8,1029.0 466.3,1039.8 463.7,1049.4 460.2,1057.8 457.9,1062.0 455.7,1065.3 453.3,1068.2 450.6,1071.0 447.9,1073.1 444.9,1075.0 441.9,1076.3 438.9,1077.0Z M439.5,1080.7 435.9,1081.1 432.3,1080.8 428.7,1079.9 425.7,1078.6 422.1,1076.4 419.1,1073.9 416.1,1070.7 413.6,1067.4 410.9,1063.2 408.7,1059.0 406.7,1054.2 404.9,1048.8 403.3,1042.8 402.2,1037.4 401.4,1031.4 401.0,1025.4 401.0,1014.0 402.0,1002.0 403.9,991.2 406.9,979.8 409.8,972.0 413.7,964.0 418.5,956.2 427.8,943.8 429.3,940.8 429.6,938.4 429.2,936.0 427.9,933.0 414.7,913.2 411.0,906.6 407.4,898.8 404.5,891.0 402.3,883.2 401.7,877.8 402.1,872.4 403.2,867.6 404.9,863.4 407.5,859.2 410.7,855.5 414.9,852.2 419.1,850.0 423.3,848.6 428.1,847.9 433.5,848.2 438.3,849.4 443.1,851.6 447.0,854.4 450.6,858.0 453.7,862.2 456.0,867.0 457.7,872.4 459.5,881.4 460.5,890.4 460.6,898.8 459.9,907.2 458.6,913.8 456.9,919.3 454.2,925.8 448.8,936.0 447.8,939.0 447.7,941.4 448.2,943.8 449.3,946.8 456.3,959.6 459.7,966.6 462.1,972.6 464.4,979.2 466.7,987.6 468.4,996.0 469.6,1005.0 470.2,1013.4 470.2,1026.0 469.0,1037.4 467.9,1042.8 466.4,1048.8 462.7,1058.4 460.6,1062.6 458.0,1066.8 455.3,1070.4 452.6,1073.4 449.7,1075.9 446.1,1078.3 443.1,1079.7 439.5,1080.7Z M437.1,1084.8 433.5,1084.8 429.9,1084.1 426.3,1082.8 423.3,1081.2 419.7,1078.6 416.7,1075.8 413.7,1072.4 411.0,1068.6 408.6,1064.4 406.2,1059.6 404.3,1054.8 402.4,1048.8 400.0,1037.4 399.2,1030.8 398.8,1024.8 398.8,1014.0 399.7,1003.2 401.3,992.4 403.7,982.2 406.3,973.8 409.7,965.4 412.9,958.8 419.1,948.0 421.2,943.8 422.2,940.8 422.5,937.8 422.1,934.2 420.7,930.0 409.2,908.4 406.1,901.8 403.2,894.0 400.8,886.2 399.8,881.4 399.5,876.0 400.0,871.2 401.3,866.4 403.3,861.6 406.0,857.4 409.9,853.2 414.3,849.9 418.5,847.8 423.3,846.2 428.1,845.6 432.9,845.8 438.3,847.1 443.1,849.1 447.9,852.3 451.9,856.2 455.4,861.0 457.8,865.8 459.6,871.2 461.4,879.6 462.5,888.0 463.0,896.4 462.8,904.2 462.1,910.8 460.8,917.4 455.1,936.6 454.7,939.6 454.7,942.6 455.1,945.6 456.1,949.2 463.8,969.0 468.0,982.8 469.7,990.6 471.0,998.4 472.0,1006.8 472.4,1014.0 472.3,1027.2 471.7,1033.8 470.8,1039.8 469.6,1045.8 467.9,1051.8 465.7,1057.8 463.6,1062.6 460.9,1067.4 458.1,1071.6 455.1,1075.2 451.5,1078.6 447.9,1081.2 444.3,1083.1 440.7,1084.3 437.1,1084.8Z M438.9,1088.4 435.3,1088.6 431.1,1088.2 427.5,1087.2 423.9,1085.5 420.3,1083.2 416.7,1080.2 413.7,1077.0 410.5,1072.8 407.5,1068.0 405.1,1063.2 402.6,1057.2 400.9,1051.8 399.2,1045.2 398.0,1039.2 397.1,1032.6 396.6,1026.0 396.6,1015.8 397.3,1005.0 398.6,994.8 400.7,984.0 403.2,975.0 406.2,966.6 416.1,944.4 417.1,940.8 417.5,937.2 417.1,933.0 415.7,928.2 404.9,904.8 402.0,897.6 399.7,890.4 398.2,885.0 397.5,880.8 397.4,876.0 397.8,871.2 399.1,865.8 401.5,860.4 404.6,855.6 408.3,851.6 412.5,848.4 417.3,845.8 422.7,844.0 428.1,843.3 433.5,843.6 438.9,844.9 443.7,847.0 448.7,850.2 452.7,853.9 456.4,858.6 459.1,863.4 461.3,869.4 463.2,877.8 464.5,885.6 465.2,893.4 465.4,901.8 465.0,909.0 464.1,915.6 459.9,936.6 459.6,940.2 459.7,943.8 460.2,947.4 461.2,951.6 467.9,972.6 470.9,984.6 473.3,998.4 474.6,1012.8 474.5,1027.2 474.0,1033.8 473.0,1040.4 471.6,1047.0 470.0,1053.0 468.1,1058.4 465.8,1063.8 463.3,1068.6 460.3,1073.4 457.0,1077.6 453.9,1080.7 450.3,1083.7 446.7,1085.8 443.1,1087.4 438.9,1088.4Z M439.5,1092.1 435.3,1092.4 431.1,1092.0 427.5,1091.0 423.3,1089.2 419.7,1086.9 416.1,1083.9 412.5,1080.1 409.2,1075.8 406.2,1071.0 403.4,1065.6 401.0,1059.6 399.0,1053.6 397.2,1047.0 395.9,1040.4 395.0,1033.2 394.5,1026.6 394.4,1017.0 394.9,1006.8 396.0,996.6 397.8,986.4 399.8,978.0 402.5,969.0 411.9,944.4 412.9,940.2 413.3,936.6 412.8,931.8 411.4,926.4 401.4,902.4 398.9,895.2 396.6,887.4 395.7,883.2 395.2,879.0 395.2,874.2 395.8,870.0 397.2,864.6 399.6,859.2 402.9,854.1 407.1,849.6 411.9,846.1 416.7,843.6 422.1,841.9 427.5,841.1 433.5,841.4 438.9,842.6 444.9,845.1 449.7,848.2 453.9,852.0 457.8,856.8 460.9,862.2 463.1,868.2 465.0,876.0 466.6,885.0 467.5,892.8 467.8,900.6 467.6,907.8 467.0,915.0 464.0,936.6 463.8,940.8 464.0,945.0 465.4,953.4 471.0,973.8 473.5,985.2 475.6,998.4 476.7,1011.0 476.8,1026.0 476.3,1032.6 475.4,1039.8 474.0,1047.0 472.3,1053.6 470.3,1059.6 468.0,1065.0 465.3,1070.4 462.3,1075.4 458.8,1080.0 455.4,1083.6 451.5,1086.9 447.9,1089.2 443.7,1091.0 439.5,1092.1Z M389.5,1112.5 A52.5,34.8 0 0 1 494.5,1112.5 M390.6,1112.5 A51.2,33.7 0 0 1 493.1,1112.5 M391.6,1112.5 A50.0,32.5 0 0 1 491.6,1112.5 M392.6,1112.5 A48.8,31.4 0 0 1 490.1,1112.5 M393.7,1112.5 A47.5,30.3 0 0 1 488.7,1112.5 M394.8,1112.5 A46.2,29.1 0 0 1 487.2,1112.5 M395.8,1112.5 A45.0,28.0 0 0 1 485.8,1112.5 M396.9,1112.5 A43.8,26.9 0 0 1 484.4,1112.5 M397.9,1112.5 A42.5,25.8 0 0 1 482.9,1112.5 M398.9,1112.5 A41.2,24.6 0 0 1 481.4,1112.5 M400.0,1112.5 A40.0,23.5 0 0 1 480.0,1112.5 M402.3,1112.5 A31.0,21.0 0 0 1 464.3,1112.5 M406.6,1112.5 A26.6,18.0 0 0 1 459.8,1112.5 M411.0,1112.5 A22.2,15.0 0 0 1 455.4,1112.5 M415.3,1112.5 A17.8,12.0 0 0 1 450.9,1112.5 M419.7,1112.5 A13.4,9.0 0 0 1 446.5,1112.5 M424.0,1112.5 A9.0,6.0 0 0 1 442.0,1112.5" fill="none" stroke="#505050" stroke-width="1.0" stroke-linejoin="round"/>
<rect x="410.90" y="1109.00" width="54.90" height="3.50" fill="#000" stroke="none" stroke-width="0"/>
<rect x="482.00" y="1109.00" width="6.00" height="3.50" fill="#000" stroke="none" stroke-width="0"/>
<rect x="355.50" y="749.40" width="150.20" height="156.60" fill="none" stroke="#111" stroke-width="1.5"/>
<line x1="506.10" y1="748.70" x2="506.10" y2="907.20" stroke="#000" stroke-width="2.8" stroke-linecap="butt"/>
<line x1="354.80" y1="906.20" x2="507.40" y2="906.20" stroke="#000" stroke-width="2.0" stroke-linecap="butt"/>
<text transform="translate(244.44,821.00) scale(0.8825,1)" font-size="19.57" fill="#000">CD4+IL-10+</text>
<text transform="translate(272.21,846.00) scale(0.9329,1)" font-size="19.86" fill="#000">16.5</text>
<text transform="translate(199.71,965.50) scale(1.0100,1)" font-size="36.14" font-weight="bold" fill="#000">16.5</text>
<rect x="468.30" y="948.60" width="5.40" height="5.40" fill="#000" stroke="none" stroke-width="0"/>
<rect x="630.40" y="686.00" width="427.90" height="428.80" fill="none" stroke="#1a1a1a" stroke-width="1.6"/>
<line x1="631.50" y1="1114.80" x2="631.50" y2="1125.80" stroke="#000" stroke-width="2.6" stroke-linecap="butt"/>
<line x1="655.01" y1="1114.80" x2="655.01" y2="1120.80" stroke="#000" stroke-width="1.4" stroke-linecap="butt"/>
<line x1="668.76" y1="1114.80" x2="668.76" y2="1120.80" stroke="#000" stroke-width="1.4" stroke-linecap="butt"/>
<line x1="678.52" y1="1114.80" x2="678.52" y2="1120.80" stroke="#000" stroke-width="1.4" stroke-linecap="butt"/>
<line x1="686.09" y1="1114.80" x2="686.09" y2="1122.10" stroke="#000" stroke-width="1.4" stroke-linecap="butt"/>
<line x1="692.27" y1="1114.80" x2="692.27" y2="1120.80" stroke="#000" stroke-width="1.4" stroke-linecap="butt"/>
<line x1="697.50" y1="1114.80" x2="697.50" y2="1120.80" stroke="#000" stroke-width="1.4" stroke-linecap="butt"/>
<line x1="702.03" y1="1114.80" x2="702.03" y2="1120.80" stroke="#000" stroke-width="1.4" stroke-linecap="butt"/>
<line x1="706.03" y1="1114.80" x2="706.03" y2="1120.80" stroke="#000" stroke-width="1.4" stroke-linecap="butt"/>
<line x1="709.60" y1="1114.80" x2="709.60" y2="1125.80" stroke="#000" stroke-width="2.6" stroke-linecap="butt"/>
<line x1="733.11" y1="1114.80" x2="733.11" y2="1120.80" stroke="#000" stroke-width="1.4" stroke-linecap="butt"/>
<line x1="746.86" y1="1114.80" x2="746.86" y2="1120.80" stroke="#000" stroke-width="1.4" stroke-linecap="butt"/>
<line x1="756.62" y1="1114.80" x2="756.62" y2="1120.80" stroke="#000" stroke-width="1.4" stroke-linecap="butt"/>
<line x1="764.19" y1="1114.80" x2="764.19" y2="1122.10" stroke="#000" stroke-width="1.4" stroke-linecap="butt"/>
<line x1="770.37" y1="1114.80" x2="770.37" y2="1120.80" stroke="#000" stroke-width="1.4" stroke-linecap="butt"/>
<line x1="775.60" y1="1114.80" x2="775.60" y2="1120.80" stroke="#000" stroke-width="1.4" stroke-linecap="butt"/>
<line x1="780.13" y1="1114.80" x2="780.13" y2="1120.80" stroke="#000" stroke-width="1.4" stroke-linecap="butt"/>
<line x1="784.13" y1="1114.80" x2="784.13" y2="1120.80" stroke="#000" stroke-width="1.4" stroke-linecap="butt"/>
<line x1="787.70" y1="1114.80" x2="787.70" y2="1125.80" stroke="#000" stroke-width="2.6" stroke-linecap="butt"/>
<line x1="811.21" y1="1114.80" x2="811.21" y2="1120.80" stroke="#000" stroke-width="1.4" stroke-linecap="butt"/>
<line x1="824.96" y1="1114.80" x2="824.96" y2="1120.80" stroke="#000" stroke-width="1.4" stroke-linecap="butt"/>
<line x1="834.72" y1="1114.80" x2="834.72" y2="1120.80" stroke="#000" stroke-width="1.4" stroke-linecap="butt"/>
<line x1="842.29" y1="1114.80" x2="842.29" y2="1122.10" stroke="#000" stroke-width="1.4" stroke-linecap="butt"/>
<line x1="848.47" y1="1114.80" x2="848.47" y2="1120.80" stroke="#000" stroke-width="1.4" stroke-linecap="butt"/>
<line x1="853.70" y1="1114.80" x2="853.70" y2="1120.80" stroke="#000" stroke-width="1.4" stroke-linecap="butt"/>
<line x1="858.23" y1="1114.80" x2="858.23" y2="1120.80" stroke="#000" stroke-width="1.4" stroke-linecap="butt"/>
<line x1="862.23" y1="1114.80" x2="862.23" y2="1120.80" stroke="#000" stroke-width="1.4" stroke-linecap="butt"/>
<line x1="865.80" y1="1114.80" x2="865.80" y2="1125.80" stroke="#000" stroke-width="2.6" stroke-linecap="butt"/>
<line x1="889.31" y1="1114.80" x2="889.31" y2="1120.80" stroke="#000" stroke-width="1.4" stroke-linecap="butt"/>
<line x1="903.06" y1="1114.80" x2="903.06" y2="1120.80" stroke="#000" stroke-width="1.4" stroke-linecap="butt"/>
<line x1="912.82" y1="1114.80" x2="912.82" y2="1120.80" stroke="#000" stroke-width="1.4" stroke-linecap="butt"/>
<line x1="920.39" y1="1114.80" x2="920.39" y2="1122.10" stroke="#000" stroke-width="1.4" stroke-linecap="butt"/>
<line x1="926.57" y1="1114.80" x2="926.57" y2="1120.80" stroke="#000" stroke-width="1.4" stroke-linecap="butt"/>
<line x1="931.80" y1="1114.80" x2="931.80" y2="1120.80" stroke="#000" stroke-width="1.4" stroke-linecap="butt"/>
<line x1="936.33" y1="1114.80" x2="936.33" y2="1120.80" stroke="#000" stroke-width="1.4" stroke-linecap="butt"/>
<line x1="940.33" y1="1114.80" x2="940.33" y2="1120.80" stroke="#000" stroke-width="1.4" stroke-linecap="butt"/>
<line x1="943.90" y1="1114.80" x2="943.90" y2="1125.80" stroke="#000" stroke-width="2.6" stroke-linecap="butt"/>
<line x1="967.41" y1="1114.80" x2="967.41" y2="1120.80" stroke="#000" stroke-width="1.4" stroke-linecap="butt"/>
<line x1="981.16" y1="1114.80" x2="981.16" y2="1120.80" stroke="#000" stroke-width="1.4" stroke-linecap="butt"/>
<line x1="990.92" y1="1114.80" x2="990.92" y2="1120.80" stroke="#000" stroke-width="1.4" stroke-linecap="butt"/>
<line x1="998.49" y1="1114.80" x2="998.49" y2="1122.10" stroke="#000" stroke-width="1.4" stroke-linecap="butt"/>
<line x1="1004.67" y1="1114.80" x2="1004.67" y2="1120.80" stroke="#000" stroke-width="1.4" stroke-linecap="butt"/>
<line x1="1009.90" y1="1114.80" x2="1009.90" y2="1120.80" stroke="#000" stroke-width="1.4" stroke-linecap="butt"/>
<line x1="1014.43" y1="1114.80" x2="1014.43" y2="1120.80" stroke="#000" stroke-width="1.4" stroke-linecap="butt"/>
<line x1="1018.43" y1="1114.80" x2="1018.43" y2="1120.80" stroke="#000" stroke-width="1.4" stroke-linecap="butt"/>
<line x1="1022.00" y1="1114.80" x2="1022.00" y2="1125.80" stroke="#000" stroke-width="2.6" stroke-linecap="butt"/>
<line x1="1045.51" y1="1114.80" x2="1045.51" y2="1120.80" stroke="#000" stroke-width="1.4" stroke-linecap="butt"/>
<text transform="translate(639.08,1151.10) scale(0.8351,1)" font-size="16.29" fill="#000">10</text>
<text transform="translate(654.35,1141.30) scale(0.8443,1)" font-size="16.29" fill="#000">0</text>
<text transform="translate(710.28,1151.10) scale(0.8351,1)" font-size="16.29" fill="#000">10</text>
<text transform="translate(724.96,1141.30) scale(0.9183,1)" font-size="16.52" fill="#000">1</text>
<text transform="translate(788.38,1151.10) scale(0.8351,1)" font-size="16.29" fill="#000">10</text>
<text transform="translate(803.47,1141.30) scale(0.8907,1)" font-size="16.29" fill="#000">2</text>
<text transform="translate(866.48,1151.10) scale(0.8351,1)" font-size="16.29" fill="#000">10</text>
<text transform="translate(881.74,1141.30) scale(0.8532,1)" font-size="16.29" fill="#000">3</text>
<text transform="translate(944.58,1151.10) scale(0.8351,1)" font-size="16.29" fill="#000">10</text>
<text transform="translate(960.14,1141.30) scale(0.7910,1)" font-size="16.52" fill="#000">4</text>
<text transform="translate(1022.68,1151.10) scale(0.8351,1)" font-size="16.29" fill="#000">10</text>
<text transform="translate(1037.94,1141.30) scale(0.8410,1)" font-size="16.52" fill="#000">5</text>
<line x1="624.40" y1="1113.99" x2="630.40" y2="1113.99" stroke="#000" stroke-width="1.4" stroke-linecap="butt"/>
<line x1="624.40" y1="1100.40" x2="630.40" y2="1100.40" stroke="#000" stroke-width="1.4" stroke-linecap="butt"/>
<line x1="621.40" y1="1089.85" x2="630.40" y2="1089.85" stroke="#000" stroke-width="1.4" stroke-linecap="butt"/>
<line x1="624.40" y1="1081.24" x2="630.40" y2="1081.24" stroke="#000" stroke-width="1.4" stroke-linecap="butt"/>
<line x1="624.40" y1="1073.95" x2="630.40" y2="1073.95" stroke="#000" stroke-width="1.4" stroke-linecap="butt"/>
<line x1="624.40" y1="1067.64" x2="630.40" y2="1067.64" stroke="#000" stroke-width="1.4" stroke-linecap="butt"/>
<line x1="624.40" y1="1062.08" x2="630.40" y2="1062.08" stroke="#000" stroke-width="1.4" stroke-linecap="butt"/>
<line x1="617.90" y1="1057.10" x2="630.40" y2="1057.10" stroke="#000" stroke-width="2.6" stroke-linecap="butt"/>
<line x1="624.40" y1="1024.35" x2="630.40" y2="1024.35" stroke="#000" stroke-width="1.4" stroke-linecap="butt"/>
<line x1="624.40" y1="1005.19" x2="630.40" y2="1005.19" stroke="#000" stroke-width="1.4" stroke-linecap="butt"/>
<line x1="624.40" y1="991.60" x2="630.40" y2="991.60" stroke="#000" stroke-width="1.4" stroke-linecap="butt"/>
<line x1="621.40" y1="981.05" x2="630.40" y2="981.05" stroke="#000" stroke-width="1.4" stroke-linecap="butt"/>
<line x1="624.40" y1="972.44" x2="630.40" y2="972.44" stroke="#000" stroke-width="1.4" stroke-linecap="butt"/>
<line x1="624.40" y1="965.15" x2="630.40" y2="965.15" stroke="#000" stroke-width="1.4" stroke-linecap="butt"/>
<line x1="624.40" y1="958.84" x2="630.40" y2="958.84" stroke="#000" stroke-width="1.4" stroke-linecap="butt"/>
<line x1="624.40" y1="953.28" x2="630.40" y2="953.28" stroke="#000" stroke-width="1.4" stroke-linecap="butt"/>
<line x1="617.90" y1="948.30" x2="630.40" y2="948.30" stroke="#000" stroke-width="2.6" stroke-linecap="butt"/>
<line x1="624.40" y1="915.55" x2="630.40" y2="915.55" stroke="#000" stroke-width="1.4" stroke-linecap="butt"/>
<line x1="624.40" y1="896.39" x2="630.40" y2="896.39" stroke="#000" stroke-width="1.4" stroke-linecap="butt"/>
<line x1="624.40" y1="882.80" x2="630.40" y2="882.80" stroke="#000" stroke-width="1.4" stroke-linecap="butt"/>
<line x1="621.40" y1="872.25" x2="630.40" y2="872.25" stroke="#000" stroke-width="1.4" stroke-linecap="butt"/>
<line x1="624.40" y1="863.64" x2="630.40" y2="863.64" stroke="#000" stroke-width="1.4" stroke-linecap="butt"/>
<line x1="624.40" y1="856.35" x2="630.40" y2="856.35" stroke="#000" stroke-width="1.4" stroke-linecap="butt"/>
<line x1="624.40" y1="850.04" x2="630.40" y2="850.04" stroke="#000" stroke-width="1.4" stroke-linecap="butt"/>
<line x1="624.40" y1="844.48" x2="630.40" y2="844.48" stroke="#000" stroke-width="1.4" stroke-linecap="butt"/>
<line x1="617.90" y1="839.50" x2="630.40" y2="839.50" stroke="#000" stroke-width="2.6" stroke-linecap="butt"/>
<line x1="624.40" y1="806.75" x2="630.40" y2="806.75" stroke="#000" stroke-width="1.4" stroke-linecap="butt"/>
<line x1="624.40" y1="787.59" x2="630.40" y2="787.59" stroke="#000" stroke-width="1.4" stroke-linecap="butt"/>
<line x1="624.40" y1="774.00" x2="630.40" y2="774.00" stroke="#000" stroke-width="1.4" stroke-linecap="butt"/>
<line x1="621.40" y1="763.45" x2="630.40" y2="763.45" stroke="#000" stroke-width="1.4" stroke-linecap="butt"/>
<line x1="624.40" y1="754.84" x2="630.40" y2="754.84" stroke="#000" stroke-width="1.4" stroke-linecap="butt"/>
<line x1="624.40" y1="747.55" x2="630.40" y2="747.55" stroke="#000" stroke-width="1.4" stroke-linecap="butt"/>
<line x1="624.40" y1="741.24" x2="630.40" y2="741.24" stroke="#000" stroke-width="1.4" stroke-linecap="butt"/>
<line x1="624.40" y1="735.68" x2="630.40" y2="735.68" stroke="#000" stroke-width="1.4" stroke-linecap="butt"/>
<line x1="617.90" y1="730.70" x2="630.40" y2="730.70" stroke="#000" stroke-width="2.6" stroke-linecap="butt"/>
<line x1="624.40" y1="697.95" x2="630.40" y2="697.95" stroke="#000" stroke-width="1.4" stroke-linecap="butt"/>
<text transform="translate(587.17,1067.20) scale(0.8400,1)" font-size="16.43" fill="#000">10</text>
<text transform="translate(601.81,1057.30) scale(0.9632,1)" font-size="16.43" fill="#000">2</text>
<text transform="translate(587.17,958.40) scale(0.8400,1)" font-size="16.43" fill="#000">10</text>
<text transform="translate(601.99,948.50) scale(0.9227,1)" font-size="16.43" fill="#000">3</text>
<text transform="translate(587.17,849.60) scale(0.8400,1)" font-size="16.43" fill="#000">10</text>
<text transform="translate(602.31,839.70) scale(0.8554,1)" font-size="16.67" fill="#000">4</text>
<text transform="translate(587.17,740.80) scale(0.8400,1)" font-size="16.43" fill="#000">10</text>
<text transform="translate(601.99,730.90) scale(0.9095,1)" font-size="16.67" fill="#000">5</text>
<path d="M894.1,1114.8 A48.3,36.7 0 0 1 990.7,1114.8 L979.0,1114.8 A37.0,25.5 0 0 0 905.0,1114.8 Z" fill="#505050" fill-opacity="0.45" stroke="none"/>
<path d="M933.2,1024.3 930.8,1024.2 929.0,1022.8 927.5,1020.0 927.0,1017.0 927.3,1012.8 928.3,1009.2 929.0,1007.9 930.2,1006.5 932.0,1005.8 934.4,1006.5 936.7,1008.6 938.3,1011.6 939.0,1015.2 938.8,1018.2 937.6,1021.2 935.6,1023.3 933.2,1024.3Z M933.2,1029.0 931.4,1029.1 929.6,1028.5 928.4,1027.7 926.8,1026.0 925.7,1024.2 924.8,1021.8 924.0,1017.0 924.5,1010.4 926.1,1005.0 927.4,1002.6 928.9,1000.8 930.2,999.9 932.0,999.5 934.4,999.8 936.2,1000.7 938.0,1002.1 939.5,1003.8 940.9,1006.2 942.1,1009.2 942.8,1012.2 943.1,1015.2 943.0,1017.6 942.6,1020.0 941.8,1022.4 940.4,1024.7 939.2,1026.0 937.4,1027.5 935.6,1028.4 933.2,1029.0Z M932.0,1033.8 929.6,1033.4 927.8,1032.4 926.0,1030.9 924.2,1028.5 922.9,1026.0 921.9,1023.0 921.3,1019.4 921.1,1015.8 921.3,1011.0 922.0,1006.8 922.9,1003.2 924.3,999.6 926.0,996.7 927.8,994.6 929.6,993.3 932.0,992.7 935.0,993.1 938.0,994.6 940.4,996.6 942.7,999.6 944.7,1003.2 946.1,1007.4 946.9,1011.6 947.2,1015.8 947.0,1019.4 946.0,1023.0 944.6,1026.0 942.8,1028.6 940.5,1030.8 938.0,1032.4 935.0,1033.5 932.0,1033.8Z M935.6,1038.1 932.0,1038.5 929.6,1038.2 926.6,1036.7 924.0,1034.4 921.8,1031.3 920.0,1027.2 918.8,1023.0 918.2,1018.2 918.2,1012.2 918.9,1006.2 920.2,1000.2 921.8,995.5 924.0,991.2 926.6,987.8 929.0,985.9 930.2,985.4 932.0,985.0 935.6,985.6 938.6,987.0 941.6,989.4 944.7,993.0 947.2,997.2 949.2,1002.0 950.6,1007.4 951.2,1012.8 951.3,1017.6 950.8,1021.2 949.6,1025.4 947.8,1029.0 945.2,1032.4 942.4,1035.0 939.2,1036.9 935.6,1038.1Z M935.6,1042.9 931.4,1043.2 927.8,1042.3 924.6,1040.4 921.6,1037.4 919.0,1033.2 917.0,1028.4 915.7,1023.0 915.2,1017.0 915.3,1009.8 916.2,1002.6 917.9,995.4 920.0,989.4 923.0,983.3 926.6,978.2 930.2,974.5 932.0,973.4 933.2,973.1 934.4,973.3 936.2,974.3 940.4,978.2 945.2,983.8 948.9,989.4 951.5,994.8 953.5,1000.8 954.9,1007.4 955.4,1013.4 955.3,1018.8 954.5,1023.6 952.9,1028.4 950.6,1032.6 947.6,1036.3 944.0,1039.4 939.8,1041.6 935.6,1042.9Z M935.6,1047.6 930.8,1047.8 926.6,1046.7 923.0,1044.4 919.4,1040.6 916.4,1035.6 914.1,1029.6 912.7,1023.0 912.2,1016.4 912.4,1008.6 913.2,1000.8 914.8,993.0 917.1,985.2 920.0,977.9 928.0,960.0 929.6,957.6 930.8,956.3 932.0,955.4 933.8,954.9 935.6,955.3 936.8,955.9 938.6,957.5 940.0,959.4 941.9,963.0 945.6,971.4 953.6,987.0 956.1,993.6 958.0,1000.2 959.1,1006.8 959.6,1013.4 959.4,1019.4 958.3,1025.4 956.4,1030.8 953.3,1036.2 949.4,1040.7 945.2,1044.0 940.4,1046.4 935.6,1047.6Z M935.0,1052.4 930.2,1052.5 927.8,1051.9 925.4,1051.0 921.2,1048.2 918.8,1045.8 917.0,1043.4 913.6,1037.4 911.2,1030.8 909.6,1023.0 909.1,1015.2 909.6,1004.4 911.2,993.0 913.8,982.2 918.0,969.6 922.1,959.4 924.0,955.8 925.9,952.8 927.8,950.6 929.6,949.1 931.4,948.2 933.8,947.8 936.2,948.1 938.0,948.8 940.3,950.4 942.2,952.2 946.0,957.6 950.3,966.0 957.0,981.6 960.5,991.8 962.9,1002.6 963.5,1008.0 963.8,1013.4 963.4,1020.6 961.9,1027.8 959.3,1034.4 956.0,1039.8 951.7,1044.6 946.4,1048.6 941.0,1051.1 935.0,1052.4Z M933.8,1057.2 930.8,1057.2 928.4,1056.9 925.4,1055.9 923.0,1054.6 920.6,1053.0 918.2,1050.8 914.0,1045.4 910.8,1039.2 908.2,1031.4 906.5,1022.4 906.1,1013.4 906.7,1001.4 908.6,988.2 911.9,973.8 916.0,961.2 920.0,952.0 922.0,948.6 924.2,945.6 926.6,943.2 929.0,941.5 931.4,940.5 933.8,940.3 936.8,940.7 939.2,941.6 942.2,943.4 944.7,945.6 947.2,948.6 949.7,952.2 955.0,962.4 961.0,977.4 964.9,990.0 967.2,1002.0 967.7,1008.0 967.9,1014.0 967.4,1022.4 965.6,1030.2 962.5,1037.4 958.4,1043.8 956.0,1046.5 953.0,1049.4 950.0,1051.6 947.0,1053.4 943.4,1055.1 940.4,1056.1 936.8,1056.9 933.8,1057.2Z M938.0,1061.4 934.4,1061.9 930.8,1061.9 927.8,1061.5 924.8,1060.5 921.8,1058.9 919.3,1057.2 916.7,1054.8 914.1,1051.8 909.9,1045.2 908.2,1041.6 906.5,1036.8 904.2,1027.2 903.2,1017.0 903.1,1009.8 903.5,1002.0 905.2,987.0 908.4,970.8 910.2,964.2 912.6,957.0 914.9,951.0 917.1,946.2 919.6,942.0 922.2,938.4 924.8,935.7 927.8,933.5 930.8,932.2 933.2,931.9 936.2,932.1 939.8,933.3 942.8,935.0 945.7,937.2 948.6,940.2 951.2,943.6 954.0,948.0 956.6,952.8 960.0,960.0 962.9,967.2 967.7,982.2 969.5,989.4 970.7,996.0 971.6,1002.6 972.0,1009.2 971.9,1019.4 970.5,1027.8 969.4,1032.0 967.8,1036.2 963.9,1043.4 961.4,1046.9 958.8,1050.0 955.6,1053.0 952.4,1055.4 948.8,1057.7 945.2,1059.4 941.6,1060.6 938.0,1061.4Z M932.6,896.4 930.2,896.4 927.8,895.1 926.6,893.8 925.6,892.2 924.8,889.2 925.1,886.2 926.3,883.8 928.4,881.9 930.8,881.2 933.2,881.4 935.6,882.8 937.2,885.0 938.0,887.4 937.9,890.4 936.8,893.2 935.0,895.3 932.6,896.4Z M937.4,1066.3 933.8,1066.6 930.2,1066.6 926.6,1065.9 923.6,1064.8 920.6,1063.2 917.6,1061.1 914.6,1058.2 911.7,1054.8 909.3,1051.2 907.1,1047.0 905.2,1042.8 903.4,1037.4 901.1,1027.2 900.4,1021.8 900.1,1015.8 900.1,1008.0 900.4,999.6 901.2,991.2 902.3,982.2 905.4,966.0 907.7,957.6 910.0,950.4 912.5,943.8 915.2,938.0 918.2,932.8 921.2,928.6 924.2,925.3 927.2,922.8 930.2,921.3 933.2,920.8 936.2,921.2 939.8,922.6 943.4,924.9 947.6,928.6 951.2,932.6 954.5,937.2 957.5,942.0 960.6,948.0 964.1,955.8 967.1,963.6 969.5,970.8 971.9,979.2 973.6,987.0 974.9,994.2 975.8,1002.0 976.3,1009.2 976.0,1020.0 975.4,1024.8 974.4,1029.6 972.9,1034.4 971.3,1038.6 969.2,1042.8 966.7,1047.0 964.0,1050.6 960.8,1054.2 957.2,1057.5 953.6,1060.1 950.0,1062.2 945.8,1064.1 941.6,1065.4 937.4,1066.3Z M937.4,1071.0 933.2,1071.3 929.6,1071.2 926.0,1070.5 922.4,1069.2 918.8,1067.1 915.8,1064.8 912.8,1062.0 909.8,1058.3 907.0,1054.2 904.5,1049.4 902.4,1044.6 900.6,1039.2 899.2,1033.8 898.2,1028.4 897.4,1022.4 897.0,1016.4 897.0,1003.8 897.9,990.0 899.5,976.8 901.7,964.2 904.1,954.0 907.1,943.8 910.6,934.2 917.0,918.6 918.2,915.0 918.8,912.0 918.9,906.6 917.1,896.4 916.7,892.8 916.7,889.2 917.2,886.2 917.9,883.8 919.0,881.4 920.6,879.1 922.4,877.2 924.2,875.8 926.6,874.6 930.8,873.7 933.2,873.8 935.6,874.4 938.0,875.4 939.8,876.6 941.6,878.2 943.3,880.2 945.5,884.4 946.4,887.4 946.9,891.0 946.9,895.2 946.5,904.8 947.3,910.2 949.8,916.2 958.4,930.7 963.0,939.6 967.3,949.2 971.3,960.0 975.0,972.0 977.8,984.6 979.6,996.0 980.4,1007.4 980.2,1019.4 979.6,1024.8 978.5,1030.2 976.9,1035.6 974.8,1041.0 972.4,1045.8 969.8,1050.0 966.7,1054.2 963.2,1058.0 959.6,1061.3 955.4,1064.3 951.2,1066.7 946.4,1068.8 942.2,1070.1 937.4,1071.0Z M936.8,1075.8 932.0,1076.1 928.4,1075.8 924.2,1074.7 920.6,1073.2 917.0,1071.0 913.4,1068.1 909.9,1064.4 907.1,1060.8 904.1,1056.0 901.6,1051.2 899.4,1045.8 897.5,1039.8 896.2,1034.4 895.0,1027.8 894.3,1021.2 893.9,1014.0 893.9,1003.2 894.3,991.8 895.3,981.0 896.8,969.0 900.0,952.2 907.3,924.0 908.9,915.6 909.3,908.4 908.8,892.8 909.2,888.6 909.9,885.0 911.2,880.8 912.8,877.6 915.2,874.2 917.6,871.7 920.6,869.4 923.6,867.9 927.2,866.8 930.8,866.3 934.4,866.5 937.4,867.2 941.0,868.6 944.0,870.5 947.0,873.0 949.4,875.9 951.4,879.0 953.1,882.6 955.1,889.8 957.1,905.4 958.9,913.2 961.3,919.8 968.3,936.6 972.5,947.4 976.1,958.2 979.1,968.4 981.4,978.6 982.9,987.6 984.1,997.2 984.7,1006.8 984.7,1014.0 984.3,1020.6 983.5,1026.6 982.2,1032.6 980.3,1038.6 978.4,1043.4 975.6,1048.8 972.6,1053.6 969.2,1058.0 965.4,1062.0 961.3,1065.6 956.6,1068.9 951.8,1071.5 947.0,1073.5 942.2,1074.9 936.8,1075.8Z M894.1,1114.8 A48.3,36.7 0 0 1 990.7,1114.8 M895.2,1114.8 A47.2,35.6 0 0 1 989.5,1114.8 M896.3,1114.8 A46.0,34.5 0 0 1 988.4,1114.8 M897.4,1114.8 A44.9,33.3 0 0 1 987.2,1114.8 M898.5,1114.8 A43.8,32.2 0 0 1 986.0,1114.8 M899.6,1114.8 A42.6,31.1 0 0 1 984.9,1114.8 M900.6,1114.8 A41.5,30.0 0 0 1 983.7,1114.8 M901.7,1114.8 A40.4,28.9 0 0 1 982.5,1114.8 M902.8,1114.8 A39.3,27.7 0 0 1 981.3,1114.8 M903.9,1114.8 A38.1,26.6 0 0 1 980.2,1114.8 M905.0,1114.8 A37.0,25.5 0 0 1 979.0,1114.8 M905.0,1114.8 A32.0,24.0 0 0 1 969.0,1114.8 M909.6,1114.8 A27.4,20.4 0 0 1 964.4,1114.8 M914.2,1114.8 A22.8,16.8 0 0 1 959.8,1114.8 M918.8,1114.8 A18.2,13.2 0 0 1 955.2,1114.8 M923.4,1114.8 A13.6,9.6 0 0 1 950.6,1114.8 M928.0,1114.8 A9.0,6.0 0 0 1 946.0,1114.8" fill="none" stroke="#505050" stroke-width="1.0" stroke-linejoin="round"/>
<rect x="914.20" y="1110.30" width="55.00" height="4.50" fill="#000" stroke="none" stroke-width="0"/>
<rect x="971.40" y="1110.80" width="5.20" height="4.00" fill="#000" stroke="none" stroke-width="0"/>
<rect x="858.00" y="749.90" width="149.80" height="156.40" fill="none" stroke="#111" stroke-width="1.5"/>
<line x1="1008.20" y1="749.20" x2="1008.20" y2="907.50" stroke="#000" stroke-width="2.8" stroke-linecap="butt"/>
<line x1="857.30" y1="906.50" x2="1009.50" y2="906.50" stroke="#000" stroke-width="2.0" stroke-linecap="butt"/>
<text transform="translate(746.63,821.00) scale(0.8844,1)" font-size="19.57" fill="#000">CD4+IL-10+</text>
<text transform="translate(775.45,846.20) scale(0.9422,1)" font-size="19.86" fill="#000">5.59</text>
<text transform="translate(705.72,965.70) scale(0.9919,1)" font-size="36.14" font-weight="bold" fill="#000">5.59</text>
<rect x="987.90" y="957.50" width="5.40" height="5.40" fill="#000" stroke="none" stroke-width="0"/>
<rect x="997.80" y="972.30" width="5.40" height="5.40" fill="#000" stroke="none" stroke-width="0"/>
<rect x="131.30" y="1326.00" width="426.40" height="427.50" fill="none" stroke="#1a1a1a" stroke-width="1.6"/>
<line x1="132.00" y1="1753.50" x2="132.00" y2="1764.50" stroke="#000" stroke-width="2.6" stroke-linecap="butt"/>
<line x1="155.48" y1="1753.50" x2="155.48" y2="1759.50" stroke="#000" stroke-width="1.4" stroke-linecap="butt"/>
<line x1="169.22" y1="1753.50" x2="169.22" y2="1759.50" stroke="#000" stroke-width="1.4" stroke-linecap="butt"/>
<line x1="178.96" y1="1753.50" x2="178.96" y2="1759.50" stroke="#000" stroke-width="1.4" stroke-linecap="butt"/>
<line x1="186.52" y1="1753.50" x2="186.52" y2="1760.80" stroke="#000" stroke-width="1.4" stroke-linecap="butt"/>
<line x1="192.70" y1="1753.50" x2="192.70" y2="1759.50" stroke="#000" stroke-width="1.4" stroke-linecap="butt"/>
<line x1="197.92" y1="1753.50" x2="197.92" y2="1759.50" stroke="#000" stroke-width="1.4" stroke-linecap="butt"/>
<line x1="202.44" y1="1753.50" x2="202.44" y2="1759.50" stroke="#000" stroke-width="1.4" stroke-linecap="butt"/>
<line x1="206.43" y1="1753.50" x2="206.43" y2="1759.50" stroke="#000" stroke-width="1.4" stroke-linecap="butt"/>
<line x1="210.00" y1="1753.50" x2="210.00" y2="1764.50" stroke="#000" stroke-width="2.6" stroke-linecap="butt"/>
<line x1="233.48" y1="1753.50" x2="233.48" y2="1759.50" stroke="#000" stroke-width="1.4" stroke-linecap="butt"/>
<line x1="247.22" y1="1753.50" x2="247.22" y2="1759.50" stroke="#000" stroke-width="1.4" stroke-linecap="butt"/>
<line x1="256.96" y1="1753.50" x2="256.96" y2="1759.50" stroke="#000" stroke-width="1.4" stroke-linecap="butt"/>
<line x1="264.52" y1="1753.50" x2="264.52" y2="1760.80" stroke="#000" stroke-width="1.4" stroke-linecap="butt"/>
<line x1="270.70" y1="1753.50" x2="270.70" y2="1759.50" stroke="#000" stroke-width="1.4" stroke-linecap="butt"/>
<line x1="275.92" y1="1753.50" x2="275.92" y2="1759.50" stroke="#000" stroke-width="1.4" stroke-linecap="butt"/>
<line x1="280.44" y1="1753.50" x2="280.44" y2="1759.50" stroke="#000" stroke-width="1.4" stroke-linecap="butt"/>
<line x1="284.43" y1="1753.50" x2="284.43" y2="1759.50" stroke="#000" stroke-width="1.4" stroke-linecap="butt"/>
<line x1="288.00" y1="1753.50" x2="288.00" y2="1764.50" stroke="#000" stroke-width="2.6" stroke-linecap="butt"/>
<line x1="311.48" y1="1753.50" x2="311.48" y2="1759.50" stroke="#000" stroke-width="1.4" stroke-linecap="butt"/>
<line x1="325.22" y1="1753.50" x2="325.22" y2="1759.50" stroke="#000" stroke-width="1.4" stroke-linecap="butt"/>
<line x1="334.96" y1="1753.50" x2="334.96" y2="1759.50" stroke="#000" stroke-width="1.4" stroke-linecap="butt"/>
<line x1="342.52" y1="1753.50" x2="342.52" y2="1760.80" stroke="#000" stroke-width="1.4" stroke-linecap="butt"/>
<line x1="348.70" y1="1753.50" x2="348.70" y2="1759.50" stroke="#000" stroke-width="1.4" stroke-linecap="butt"/>
<line x1="353.92" y1="1753.50" x2="353.92" y2="1759.50" stroke="#000" stroke-width="1.4" stroke-linecap="butt"/>
<line x1="358.44" y1="1753.50" x2="358.44" y2="1759.50" stroke="#000" stroke-width="1.4" stroke-linecap="butt"/>
<line x1="362.43" y1="1753.50" x2="362.43" y2="1759.50" stroke="#000" stroke-width="1.4" stroke-linecap="butt"/>
<line x1="366.00" y1="1753.50" x2="366.00" y2="1764.50" stroke="#000" stroke-width="2.6" stroke-linecap="butt"/>
<line x1="389.48" y1="1753.50" x2="389.48" y2="1759.50" stroke="#000" stroke-width="1.4" stroke-linecap="butt"/>
<line x1="403.22" y1="1753.50" x2="403.22" y2="1759.50" stroke="#000" stroke-width="1.4" stroke-linecap="butt"/>
<line x1="412.96" y1="1753.50" x2="412.96" y2="1759.50" stroke="#000" stroke-width="1.4" stroke-linecap="butt"/>
<line x1="420.52" y1="1753.50" x2="420.52" y2="1760.80" stroke="#000" stroke-width="1.4" stroke-linecap="butt"/>
<line x1="426.70" y1="1753.50" x2="426.70" y2="1759.50" stroke="#000" stroke-width="1.4" stroke-linecap="butt"/>
<line x1="431.92" y1="1753.50" x2="431.92" y2="1759.50" stroke="#000" stroke-width="1.4" stroke-linecap="butt"/>
<line x1="436.44" y1="1753.50" x2="436.44" y2="1759.50" stroke="#000" stroke-width="1.4" stroke-linecap="butt"/>
<line x1="440.43" y1="1753.50" x2="440.43" y2="1759.50" stroke="#000" stroke-width="1.4" stroke-linecap="butt"/>
<line x1="444.00" y1="1753.50" x2="444.00" y2="1764.50" stroke="#000" stroke-width="2.6" stroke-linecap="butt"/>
<line x1="467.48" y1="1753.50" x2="467.48" y2="1759.50" stroke="#000" stroke-width="1.4" stroke-linecap="butt"/>
<line x1="481.22" y1="1753.50" x2="481.22" y2="1759.50" stroke="#000" stroke-width="1.4" stroke-linecap="butt"/>
<line x1="490.96" y1="1753.50" x2="490.96" y2="1759.50" stroke="#000" stroke-width="1.4" stroke-linecap="butt"/>
<line x1="498.52" y1="1753.50" x2="498.52" y2="1760.80" stroke="#000" stroke-width="1.4" stroke-linecap="butt"/>
<line x1="504.70" y1="1753.50" x2="504.70" y2="1759.50" stroke="#000" stroke-width="1.4" stroke-linecap="butt"/>
<line x1="509.92" y1="1753.50" x2="509.92" y2="1759.50" stroke="#000" stroke-width="1.4" stroke-linecap="butt"/>
<line x1="514.44" y1="1753.50" x2="514.44" y2="1759.50" stroke="#000" stroke-width="1.4" stroke-linecap="butt"/>
<line x1="518.43" y1="1753.50" x2="518.43" y2="1759.50" stroke="#000" stroke-width="1.4" stroke-linecap="butt"/>
<line x1="522.00" y1="1753.50" x2="522.00" y2="1764.50" stroke="#000" stroke-width="2.6" stroke-linecap="butt"/>
<line x1="545.48" y1="1753.50" x2="545.48" y2="1759.50" stroke="#000" stroke-width="1.4" stroke-linecap="butt"/>
<text transform="translate(139.58,1789.80) scale(0.8351,1)" font-size="16.29" fill="#000">10</text>
<text transform="translate(154.85,1780.00) scale(0.8443,1)" font-size="16.29" fill="#000">0</text>
<text transform="translate(210.68,1789.80) scale(0.8351,1)" font-size="16.29" fill="#000">10</text>
<text transform="translate(225.36,1780.00) scale(0.9183,1)" font-size="16.52" fill="#000">1</text>
<text transform="translate(288.68,1789.80) scale(0.8351,1)" font-size="16.29" fill="#000">10</text>
<text transform="translate(303.77,1780.00) scale(0.8907,1)" font-size="16.29" fill="#000">2</text>
<text transform="translate(366.68,1789.80) scale(0.8351,1)" font-size="16.29" fill="#000">10</text>
<text transform="translate(381.94,1780.00) scale(0.8532,1)" font-size="16.29" fill="#000">3</text>
<text transform="translate(444.68,1789.80) scale(0.8351,1)" font-size="16.29" fill="#000">10</text>
<text transform="translate(460.24,1780.00) scale(0.7910,1)" font-size="16.52" fill="#000">4</text>
<text transform="translate(522.68,1789.80) scale(0.8351,1)" font-size="16.29" fill="#000">10</text>
<text transform="translate(537.94,1780.00) scale(0.8410,1)" font-size="16.52" fill="#000">5</text>
<line x1="118.80" y1="1664.50" x2="131.30" y2="1664.50" stroke="#000" stroke-width="2.6" stroke-linecap="butt"/>
<line x1="124.30" y1="1633.83" x2="131.30" y2="1633.83" stroke="#000" stroke-width="1.5" stroke-linecap="butt"/>
<line x1="124.30" y1="1615.88" x2="131.30" y2="1615.88" stroke="#000" stroke-width="1.5" stroke-linecap="butt"/>
<line x1="124.30" y1="1603.15" x2="131.30" y2="1603.15" stroke="#000" stroke-width="1.5" stroke-linecap="butt"/>
<line x1="124.30" y1="1593.27" x2="131.30" y2="1593.27" stroke="#000" stroke-width="1.5" stroke-linecap="butt"/>
<line x1="124.30" y1="1585.21" x2="131.30" y2="1585.21" stroke="#000" stroke-width="1.5" stroke-linecap="butt"/>
<line x1="124.30" y1="1578.38" x2="131.30" y2="1578.38" stroke="#000" stroke-width="1.5" stroke-linecap="butt"/>
<line x1="124.30" y1="1572.48" x2="131.30" y2="1572.48" stroke="#000" stroke-width="1.5" stroke-linecap="butt"/>
<line x1="124.30" y1="1567.26" x2="131.30" y2="1567.26" stroke="#000" stroke-width="1.5" stroke-linecap="butt"/>
<line x1="118.80" y1="1562.60" x2="131.30" y2="1562.60" stroke="#000" stroke-width="2.6" stroke-linecap="butt"/>
<line x1="124.30" y1="1532.50" x2="131.30" y2="1532.50" stroke="#000" stroke-width="1.5" stroke-linecap="butt"/>
<line x1="124.30" y1="1514.89" x2="131.30" y2="1514.89" stroke="#000" stroke-width="1.5" stroke-linecap="butt"/>
<line x1="124.30" y1="1502.39" x2="131.30" y2="1502.39" stroke="#000" stroke-width="1.5" stroke-linecap="butt"/>
<line x1="124.30" y1="1492.70" x2="131.30" y2="1492.70" stroke="#000" stroke-width="1.5" stroke-linecap="butt"/>
<line x1="124.30" y1="1484.78" x2="131.30" y2="1484.78" stroke="#000" stroke-width="1.5" stroke-linecap="butt"/>
<line x1="124.30" y1="1478.09" x2="131.30" y2="1478.09" stroke="#000" stroke-width="1.5" stroke-linecap="butt"/>
<line x1="124.30" y1="1472.29" x2="131.30" y2="1472.29" stroke="#000" stroke-width="1.5" stroke-linecap="butt"/>
<line x1="124.30" y1="1467.18" x2="131.30" y2="1467.18" stroke="#000" stroke-width="1.5" stroke-linecap="butt"/>
<line x1="118.80" y1="1462.60" x2="131.30" y2="1462.60" stroke="#000" stroke-width="2.6" stroke-linecap="butt"/>
<line x1="124.30" y1="1433.64" x2="131.30" y2="1433.64" stroke="#000" stroke-width="1.5" stroke-linecap="butt"/>
<line x1="124.30" y1="1416.70" x2="131.30" y2="1416.70" stroke="#000" stroke-width="1.5" stroke-linecap="butt"/>
<line x1="124.30" y1="1404.68" x2="131.30" y2="1404.68" stroke="#000" stroke-width="1.5" stroke-linecap="butt"/>
<line x1="124.30" y1="1395.36" x2="131.30" y2="1395.36" stroke="#000" stroke-width="1.5" stroke-linecap="butt"/>
<line x1="124.30" y1="1387.74" x2="131.30" y2="1387.74" stroke="#000" stroke-width="1.5" stroke-linecap="butt"/>
<line x1="124.30" y1="1381.30" x2="131.30" y2="1381.30" stroke="#000" stroke-width="1.5" stroke-linecap="butt"/>
<line x1="124.30" y1="1375.72" x2="131.30" y2="1375.72" stroke="#000" stroke-width="1.5" stroke-linecap="butt"/>
<line x1="124.30" y1="1370.80" x2="131.30" y2="1370.80" stroke="#000" stroke-width="1.5" stroke-linecap="butt"/>
<line x1="118.80" y1="1366.40" x2="131.30" y2="1366.40" stroke="#000" stroke-width="2.6" stroke-linecap="butt"/>
<line x1="124.30" y1="1337.44" x2="131.30" y2="1337.44" stroke="#000" stroke-width="1.5" stroke-linecap="butt"/>
<line x1="124.30" y1="1672.20" x2="131.30" y2="1672.20" stroke="#000" stroke-width="1.5" stroke-linecap="butt"/>
<line x1="124.30" y1="1679.13" x2="131.30" y2="1679.13" stroke="#000" stroke-width="1.5" stroke-linecap="butt"/>
<line x1="124.30" y1="1684.52" x2="131.30" y2="1684.52" stroke="#000" stroke-width="1.5" stroke-linecap="butt"/>
<line x1="124.30" y1="1689.14" x2="131.30" y2="1689.14" stroke="#000" stroke-width="1.5" stroke-linecap="butt"/>
<line x1="124.30" y1="1692.99" x2="131.30" y2="1692.99" stroke="#000" stroke-width="1.5" stroke-linecap="butt"/>
<line x1="124.30" y1="1696.45" x2="131.30" y2="1696.45" stroke="#000" stroke-width="1.5" stroke-linecap="butt"/>
<line x1="124.30" y1="1699.15" x2="131.30" y2="1699.15" stroke="#000" stroke-width="1.5" stroke-linecap="butt"/>
<line x1="124.30" y1="1707.68" x2="131.30" y2="1707.68" stroke="#000" stroke-width="1.5" stroke-linecap="butt"/>
<line x1="124.30" y1="1711.58" x2="131.30" y2="1711.58" stroke="#000" stroke-width="1.5" stroke-linecap="butt"/>
<line x1="124.30" y1="1715.87" x2="131.30" y2="1715.87" stroke="#000" stroke-width="1.5" stroke-linecap="butt"/>
<line x1="124.30" y1="1720.55" x2="131.30" y2="1720.55" stroke="#000" stroke-width="1.5" stroke-linecap="butt"/>
<line x1="124.30" y1="1725.62" x2="131.30" y2="1725.62" stroke="#000" stroke-width="1.5" stroke-linecap="butt"/>
<line x1="124.30" y1="1731.08" x2="131.30" y2="1731.08" stroke="#000" stroke-width="1.5" stroke-linecap="butt"/>
<line x1="124.30" y1="1736.54" x2="131.30" y2="1736.54" stroke="#000" stroke-width="1.5" stroke-linecap="butt"/>
<rect x="121.30" y="1698.50" width="10.00" height="9.00" fill="#000" stroke="none" stroke-width="0"/>
<line x1="118.80" y1="1742.00" x2="131.30" y2="1742.00" stroke="#000" stroke-width="2.6" stroke-linecap="butt"/>
<text transform="translate(89.78,1673.90) scale(0.7907,1)" font-size="15.43" fill="#000">10</text>
<text transform="translate(102.71,1664.00) scale(1.0256,1)" font-size="15.43" fill="#000">2</text>
<text transform="translate(89.78,1572.00) scale(0.7907,1)" font-size="15.43" fill="#000">10</text>
<text transform="translate(102.89,1562.10) scale(0.9825,1)" font-size="15.43" fill="#000">3</text>
<text transform="translate(89.78,1472.00) scale(0.7907,1)" font-size="15.43" fill="#000">10</text>
<text transform="translate(103.21,1462.10) scale(0.9109,1)" font-size="15.65" fill="#000">4</text>
<text transform="translate(89.78,1375.80) scale(0.7907,1)" font-size="15.43" fill="#000">10</text>
<text transform="translate(102.89,1365.90) scale(0.9684,1)" font-size="15.65" fill="#000">5</text>
<text transform="translate(93.98,1706.80) scale(0.9722,1)" font-size="15.86" fill="#000">0</text>
<text transform="translate(77.41,1751.50) scale(0.9702,1)" font-size="15.86" fill="#000">-10</text>
<text transform="translate(102.10,1741.70) scale(0.9766,1)" font-size="16.43" fill="#000">2</text>
<path d="M429.3,1554.5 426.9,1554.9 424.5,1554.7 422.1,1553.7 419.7,1551.9 417.8,1549.6 416.2,1546.6 415.1,1543.6 414.5,1540.0 414.5,1536.4 415.0,1532.2 415.9,1528.6 417.3,1525.3 419.0,1522.6 420.9,1520.7 423.3,1519.2 425.7,1518.6 428.1,1518.8 430.5,1519.5 432.9,1521.0 435.2,1523.2 436.9,1525.6 438.3,1528.6 439.9,1535.2 440.1,1538.8 439.7,1541.8 437.7,1547.5 435.9,1550.1 434.1,1551.9 431.7,1553.6 429.3,1554.5Z M440.1,1628.8 437.1,1629.3 434.1,1629.0 431.1,1627.7 428.1,1625.3 425.6,1622.2 423.6,1618.6 422.2,1614.4 421.2,1609.6 420.9,1605.4 421.2,1601.8 422.2,1598.2 424.0,1594.6 426.3,1591.7 428.7,1589.7 431.7,1588.1 435.3,1587.3 438.3,1587.3 441.3,1588.0 444.3,1589.4 446.7,1591.2 448.7,1593.4 450.7,1596.4 451.9,1599.4 452.7,1603.0 452.7,1607.2 452.3,1611.4 451.3,1615.6 449.9,1619.2 447.9,1622.6 445.5,1625.5 443.1,1627.4 440.1,1628.8Z M461.1,1752.4 435.9,1753.0 410.8,1752.4 411.6,1745.2 413.2,1738.0 415.2,1731.4 418.9,1721.8 423.3,1711.6 426.5,1705.6 429.7,1701.4 432.9,1698.9 434.7,1698.3 436.5,1698.2 438.3,1698.6 440.1,1699.5 443.7,1703.0 446.9,1708.0 453.1,1721.8 457.8,1734.4 460.2,1744.0 461.1,1752.4Z M475.5,1752.4 462.3,1752.9 432.9,1753.0 408.3,1752.9 396.1,1752.4 396.8,1740.4 398.8,1726.6 402.7,1708.6 410.6,1676.2 411.7,1670.2 412.0,1665.4 411.8,1661.2 411.0,1656.4 402.5,1631.2 400.7,1623.4 399.4,1615.0 398.8,1606.6 398.9,1599.4 399.7,1592.8 402.1,1580.2 402.5,1574.2 401.9,1568.2 398.9,1555.0 397.6,1547.2 397.2,1539.4 397.6,1531.0 398.8,1523.2 400.7,1516.0 403.3,1509.4 406.2,1504.0 409.8,1499.2 413.7,1495.5 417.9,1492.8 422.7,1491.1 426.9,1490.8 431.1,1491.3 435.9,1492.8 440.1,1494.9 444.3,1498.1 447.9,1501.7 451.4,1506.4 454.2,1511.2 457.9,1520.8 460.2,1531.6 460.9,1541.8 460.4,1558.0 461.1,1564.0 463.0,1569.4 470.6,1585.0 472.3,1589.8 473.7,1595.2 474.5,1601.2 474.7,1607.2 474.2,1615.0 473.2,1622.2 469.8,1635.4 461.9,1657.0 460.8,1661.8 460.5,1666.6 460.9,1671.4 461.9,1677.4 469.9,1711.0 473.5,1728.4 475.5,1742.8 475.9,1752.4 475.5,1752.4Z" fill="#606060" fill-opacity="0.3" fill-rule="evenodd" stroke="none"/>
<path d="M428.1,1543.0 426.3,1543.5 424.5,1543.0 423.3,1541.8 422.3,1539.4 422.2,1536.4 422.8,1534.0 424.0,1532.2 425.7,1531.1 427.5,1531.3 428.7,1532.1 429.9,1533.5 430.8,1535.8 431.0,1538.2 430.6,1540.0 429.6,1541.8 428.1,1543.0Z M437.1,1614.4 435.9,1614.3 434.7,1613.8 432.9,1612.2 431.5,1609.6 430.8,1606.0 431.2,1603.0 432.3,1600.9 434.1,1599.4 436.5,1598.6 438.9,1599.0 440.7,1600.1 442.4,1602.4 443.0,1604.8 442.6,1608.4 441.4,1611.4 439.5,1613.6 438.3,1614.2 437.1,1614.4Z M417.2,1752.4 418.0,1747.6 419.0,1743.4 420.7,1738.6 422.6,1734.4 431.7,1718.2 433.5,1716.2 434.7,1715.4 435.9,1715.1 437.1,1715.3 438.3,1716.0 440.3,1718.2 449.4,1734.4 451.3,1738.6 453.0,1743.4 454.2,1748.2 454.8,1752.4 M428.1,1545.5 425.7,1545.8 424.5,1545.5 423.3,1544.7 421.5,1542.4 420.6,1539.4 420.6,1535.8 421.6,1532.2 423.3,1529.7 424.5,1528.8 425.7,1528.4 428.1,1528.8 430.4,1530.4 431.9,1532.8 432.8,1535.8 432.9,1538.8 432.1,1541.8 430.5,1544.0 428.1,1545.5Z M438.3,1617.4 437.1,1617.6 435.3,1617.4 433.5,1616.5 432.3,1615.5 431.1,1614.0 430.0,1612.0 429.2,1609.6 428.8,1607.2 428.8,1603.6 429.3,1601.8 430.2,1600.0 431.7,1598.3 432.9,1597.4 435.9,1596.3 438.9,1596.5 440.7,1597.3 441.9,1598.1 443.9,1600.6 444.7,1602.4 445.0,1604.2 444.8,1608.4 443.5,1612.6 441.3,1615.7 440.1,1616.6 438.3,1617.4Z M415.9,1752.4 416.6,1747.0 418.0,1741.6 419.9,1736.2 422.4,1730.8 428.3,1719.4 430.5,1715.7 433.1,1712.8 434.7,1711.9 435.9,1711.7 437.7,1712.1 438.9,1712.8 441.3,1715.4 443.7,1719.4 449.9,1731.4 452.4,1736.8 454.2,1742.2 455.4,1747.0 456.1,1752.4 M428.7,1547.9 425.7,1548.3 423.9,1547.8 422.7,1547.0 421.5,1545.9 420.4,1544.2 419.6,1542.4 419.0,1540.0 419.0,1535.2 419.5,1532.8 420.4,1530.4 421.5,1528.5 422.7,1527.1 423.9,1526.3 425.7,1525.7 427.5,1525.8 428.7,1526.2 430.5,1527.3 431.7,1528.4 433.7,1531.6 434.8,1535.8 434.8,1539.4 433.8,1543.0 431.7,1545.9 430.5,1546.9 428.7,1547.9Z M438.9,1620.5 436.5,1620.8 434.7,1620.4 432.9,1619.6 431.1,1618.1 429.6,1616.2 428.2,1613.8 427.2,1610.8 426.7,1607.8 426.8,1603.0 427.5,1600.6 428.7,1598.3 429.9,1596.8 431.7,1595.3 433.5,1594.4 435.9,1593.8 438.3,1593.9 440.1,1594.4 441.9,1595.3 443.4,1596.4 444.9,1598.1 446.0,1600.0 446.7,1601.8 447.2,1604.2 446.8,1609.6 445.3,1614.4 443.8,1616.8 442.5,1618.3 440.7,1619.7 438.9,1620.5Z M414.5,1752.4 415.3,1746.4 416.9,1739.8 419.3,1733.2 422.3,1726.6 427.1,1717.0 429.9,1712.3 432.9,1709.2 434.7,1708.3 435.9,1708.1 437.7,1708.4 438.9,1709.0 440.6,1710.4 441.9,1712.0 444.6,1716.4 448.8,1724.8 452.4,1732.6 454.9,1739.2 456.6,1745.8 457.5,1752.4 M428.7,1550.4 426.9,1550.7 425.1,1550.6 423.3,1550.0 421.5,1548.8 420.0,1547.2 418.6,1544.8 417.7,1542.4 417.3,1540.0 417.2,1537.0 417.5,1534.0 418.2,1531.0 419.1,1528.6 420.6,1526.2 422.1,1524.6 423.9,1523.5 425.7,1523.0 427.5,1523.1 429.3,1523.6 431.1,1524.6 432.9,1526.3 434.2,1528.0 435.4,1530.4 436.2,1532.8 436.8,1535.8 436.6,1540.6 435.2,1544.8 434.0,1546.6 432.3,1548.4 430.5,1549.7 428.7,1550.4Z M439.5,1623.6 437.1,1624.0 434.7,1623.7 432.3,1622.7 429.9,1620.8 428.1,1618.5 426.5,1615.6 425.4,1612.6 424.7,1609.0 424.4,1605.4 424.6,1603.0 425.3,1600.0 426.5,1597.6 428.3,1595.2 430.5,1593.3 432.9,1592.0 435.3,1591.4 437.7,1591.4 440.1,1591.8 442.5,1592.9 444.3,1594.1 446.1,1596.0 447.6,1598.2 448.6,1600.6 449.2,1603.6 449.3,1606.6 448.9,1610.2 448.2,1613.2 447.0,1616.2 445.5,1618.8 443.7,1620.9 441.9,1622.4 439.5,1623.6Z M413.1,1752.4 414.1,1744.6 416.2,1736.8 418.9,1729.6 424.4,1717.6 427.5,1711.5 430.4,1707.4 432.9,1705.3 434.1,1704.8 435.9,1704.4 437.7,1704.7 438.9,1705.2 441.3,1707.1 444.2,1711.0 447.1,1716.4 452.8,1729.0 455.8,1736.8 457.9,1744.6 458.9,1752.4 M426.9,1553.2 424.5,1553.0 422.7,1552.4 420.9,1551.2 419.1,1549.3 417.7,1547.2 416.5,1544.2 415.7,1541.2 415.5,1538.2 415.7,1534.6 416.2,1531.6 417.1,1528.6 418.5,1525.6 420.3,1523.2 422.1,1521.6 423.9,1520.7 426.3,1520.3 428.7,1520.6 431.1,1521.7 433.5,1523.5 435.2,1525.6 436.7,1528.0 437.8,1531.0 438.5,1534.0 438.8,1537.6 438.7,1540.6 437.9,1543.6 437.0,1546.0 435.4,1548.4 433.5,1550.5 431.7,1551.8 429.3,1552.8 426.9,1553.2Z M438.9,1627.0 435.9,1627.2 433.5,1626.6 430.5,1625.0 428.1,1622.8 425.9,1619.8 424.2,1616.2 423.0,1612.0 422.4,1607.8 422.3,1604.2 422.7,1601.2 423.7,1598.2 425.3,1595.2 427.5,1592.6 429.9,1590.8 432.9,1589.4 435.9,1588.8 438.9,1589.0 441.3,1589.7 443.7,1590.8 446.3,1592.8 448.3,1595.2 450.0,1598.2 451.0,1601.2 451.4,1604.2 451.3,1608.4 450.8,1612.0 449.8,1615.6 448.2,1619.2 446.1,1622.3 443.8,1624.6 441.3,1626.2 438.9,1627.0Z M411.7,1752.4 412.8,1744.0 414.7,1736.2 417.7,1727.8 423.7,1714.0 426.9,1707.9 429.9,1703.8 432.9,1701.4 435.9,1700.6 438.9,1701.3 441.9,1703.6 444.9,1707.6 448.0,1713.4 453.8,1726.6 457.1,1735.6 459.2,1744.0 460.3,1752.4 M428.7,1555.7 426.3,1555.9 423.9,1555.5 421.5,1554.4 419.1,1552.5 417.3,1550.2 415.7,1547.2 414.5,1543.6 413.9,1540.0 413.9,1535.8 414.4,1531.6 415.4,1528.0 416.9,1524.4 419.0,1521.4 420.9,1519.5 423.3,1518.1 425.7,1517.6 428.7,1517.9 431.1,1518.8 433.5,1520.3 435.8,1522.6 437.7,1525.4 439.2,1528.6 440.2,1532.2 440.7,1535.8 440.8,1539.4 440.4,1542.4 439.5,1545.4 438.1,1548.4 436.4,1550.8 434.1,1553.1 431.7,1554.6 428.7,1555.7Z M440.1,1630.1 436.5,1630.6 433.5,1630.0 430.5,1628.6 427.5,1626.2 425.1,1623.2 422.9,1619.2 421.3,1614.4 420.4,1609.6 420.1,1604.8 420.5,1601.2 421.5,1597.6 423.3,1594.1 425.7,1591.0 428.1,1589.0 431.1,1587.3 434.7,1586.3 438.3,1586.3 441.3,1587.0 444.3,1588.4 447.1,1590.4 449.3,1592.8 451.3,1595.8 452.7,1599.4 453.5,1603.0 453.5,1607.2 453.0,1612.0 451.9,1616.2 450.3,1620.4 448.1,1624.0 445.5,1626.9 443.1,1628.7 440.1,1630.1Z M410.3,1752.4 411.4,1743.4 413.4,1735.0 417.0,1724.8 423.0,1710.4 426.2,1704.4 429.3,1700.2 432.3,1697.7 434.1,1697.0 435.9,1696.7 437.7,1696.9 439.5,1697.6 442.5,1700.0 445.8,1704.4 449.0,1710.4 454.8,1724.2 458.4,1734.4 460.7,1744.0 461.7,1752.4 M427.5,1558.6 424.5,1558.5 422.1,1557.6 419.7,1556.1 417.3,1553.7 415.3,1550.8 413.7,1547.2 412.7,1543.6 412.2,1539.4 412.3,1535.2 412.9,1530.4 414.1,1526.2 415.7,1522.6 417.9,1519.3 420.3,1517.0 422.7,1515.6 425.7,1514.9 428.7,1515.1 431.7,1516.2 434.7,1518.2 437.3,1520.8 439.5,1524.2 441.1,1528.0 442.2,1532.2 442.8,1537.0 442.6,1541.2 441.9,1544.8 440.6,1548.4 438.4,1552.0 435.9,1554.9 433.5,1556.7 430.5,1558.1 427.5,1558.6Z M439.5,1633.7 435.9,1634.0 432.3,1633.1 428.7,1631.1 425.6,1628.2 423.0,1624.6 420.7,1619.8 419.0,1614.4 418.2,1609.0 418.0,1604.2 418.5,1600.0 419.9,1595.8 421.7,1592.2 424.5,1588.7 427.5,1586.2 431.1,1584.3 434.7,1583.5 438.3,1583.5 441.9,1584.4 445.5,1586.2 448.5,1588.5 451.3,1591.6 453.4,1595.2 454.8,1598.8 455.6,1603.0 455.6,1607.8 455.0,1613.2 453.7,1618.0 451.7,1622.8 449.1,1627.0 446.1,1630.2 443.1,1632.3 439.5,1633.7Z M408.9,1752.4 409.9,1743.4 412.3,1733.2 416.4,1721.2 422.0,1707.4 425.4,1700.8 428.7,1696.4 430.5,1694.8 432.3,1693.6 434.1,1692.9 435.9,1692.6 437.7,1692.8 439.5,1693.5 441.3,1694.6 443.1,1696.2 446.6,1700.8 450.0,1707.4 456.1,1722.4 459.7,1733.2 462.0,1742.8 463.1,1752.4 M429.3,1561.6 426.3,1561.8 423.3,1561.2 420.3,1559.6 417.1,1556.8 414.5,1553.2 412.7,1549.6 411.3,1545.4 410.6,1540.6 410.5,1535.8 411.2,1530.4 412.6,1525.0 414.5,1520.8 416.9,1517.2 419.7,1514.5 422.7,1512.8 425.7,1512.2 429.3,1512.5 432.9,1513.9 435.9,1516.0 438.7,1519.0 441.1,1522.6 442.9,1526.8 444.0,1531.0 444.7,1535.8 444.7,1540.6 444.0,1544.8 442.7,1549.0 440.9,1552.6 438.3,1556.1 435.3,1558.9 432.3,1560.7 429.3,1561.6Z M439.5,1637.3 435.3,1637.5 431.1,1636.3 427.5,1634.0 424.0,1630.6 421.1,1626.4 418.6,1621.0 417.0,1615.6 416.1,1609.6 415.9,1604.2 416.4,1599.4 417.9,1594.6 420.0,1590.4 422.7,1586.8 426.3,1583.5 429.9,1581.5 434.1,1580.4 437.7,1580.4 441.9,1581.5 446.1,1583.5 449.7,1586.3 452.8,1589.8 455.3,1594.0 456.9,1598.2 457.7,1603.0 457.7,1609.0 456.8,1615.0 455.3,1620.4 452.9,1625.8 450.2,1630.0 446.7,1633.6 443.1,1636.0 439.5,1637.3Z M407.5,1752.4 408.6,1742.2 410.9,1732.0 415.7,1717.6 421.2,1703.8 424.5,1697.4 428.1,1692.5 431.7,1689.6 434.1,1688.6 435.9,1688.4 437.7,1688.6 440.1,1689.5 443.7,1692.3 447.4,1697.2 451.1,1704.4 457.1,1720.0 461.2,1732.6 463.4,1742.2 464.5,1752.4 M429.3,1565.9 425.7,1565.6 422.1,1564.2 418.5,1561.6 415.5,1558.5 412.8,1554.4 410.9,1550.2 409.6,1545.4 408.9,1540.6 408.9,1534.6 409.7,1529.2 411.1,1523.8 413.2,1519.0 416.1,1514.8 419.1,1512.0 422.1,1510.3 425.7,1509.5 429.3,1509.8 432.9,1511.0 436.5,1513.3 439.7,1516.6 442.2,1520.2 444.4,1525.0 446.0,1530.4 446.7,1535.8 446.7,1541.2 445.9,1546.0 444.3,1550.8 442.3,1555.0 439.5,1559.0 435.9,1562.7 432.3,1565.1 429.3,1565.9Z M440.7,1640.8 436.5,1641.4 432.3,1640.6 428.1,1638.5 423.9,1634.8 420.3,1630.0 417.5,1624.6 415.3,1618.0 414.1,1611.4 413.7,1604.8 414.1,1600.0 415.3,1595.2 417.6,1589.8 420.9,1584.7 425.1,1580.2 429.3,1577.4 432.9,1576.3 437.1,1576.5 441.9,1578.1 446.7,1580.7 450.9,1584.1 454.3,1588.0 456.9,1592.2 458.8,1597.0 459.8,1601.8 459.9,1607.8 459.2,1614.4 457.7,1620.4 455.4,1626.4 452.6,1631.2 449.1,1635.5 444.9,1638.9 440.7,1640.8Z M406.1,1752.4 407.2,1741.6 409.6,1730.8 414.5,1715.2 420.0,1700.8 423.7,1693.6 427.5,1688.4 429.3,1686.7 431.7,1685.0 433.5,1684.3 435.9,1683.9 438.3,1684.2 440.1,1684.9 442.5,1686.5 444.3,1688.1 446.3,1690.6 448.3,1693.6 452.0,1700.8 457.7,1715.8 462.6,1731.4 464.9,1742.2 465.9,1752.4 M438.3,1645.6 434.1,1645.4 431.7,1644.7 429.3,1643.5 425.1,1640.4 420.9,1635.7 417.4,1630.0 414.8,1624.0 412.9,1617.4 411.8,1610.2 411.5,1605.4 411.7,1601.8 412.2,1598.2 413.3,1594.0 416.3,1586.8 422.8,1576.0 423.6,1573.0 423.4,1571.8 422.4,1570.0 416.7,1563.8 413.7,1559.9 411.5,1556.2 409.8,1552.6 408.2,1547.2 407.4,1542.4 407.2,1537.0 407.6,1531.6 408.4,1526.8 409.9,1522.0 411.7,1517.8 413.7,1514.5 416.1,1511.5 419.1,1509.0 422.1,1507.5 425.1,1506.8 428.1,1506.9 431.1,1507.5 434.1,1508.8 437.1,1510.7 439.6,1513.0 442.1,1516.0 444.3,1519.6 445.9,1523.2 447.5,1528.0 448.5,1533.4 448.8,1538.8 448.4,1544.2 447.5,1548.4 446.1,1552.6 443.9,1557.4 439.4,1565.8 438.7,1567.6 438.6,1569.4 439.1,1570.6 440.5,1572.4 450.3,1580.0 453.3,1583.0 455.9,1586.2 458.1,1589.8 460.0,1594.0 461.3,1598.2 462.0,1602.4 461.9,1609.6 460.8,1617.4 459.0,1624.0 456.0,1630.6 452.1,1636.6 447.9,1640.9 445.5,1642.8 443.1,1644.1 440.7,1645.1 438.3,1645.6Z M404.6,1752.4 405.7,1741.6 408.0,1730.2 413.3,1712.8 418.8,1697.8 422.7,1689.9 426.9,1684.0 429.3,1681.6 431.7,1680.0 434.1,1679.1 435.9,1678.9 438.3,1679.2 440.7,1680.2 443.1,1681.9 444.9,1683.7 447.1,1686.4 449.1,1689.5 453.0,1697.2 458.3,1711.6 463.8,1729.6 466.2,1741.0 467.4,1752.4 M437.7,1651.0 435.9,1651.1 433.5,1650.6 431.1,1649.6 428.7,1648.2 423.9,1644.0 419.1,1638.1 415.4,1631.8 412.7,1625.2 410.8,1618.0 409.6,1610.2 409.4,1603.0 410.4,1595.8 412.5,1589.2 417.4,1577.8 418.0,1575.4 418.0,1573.6 417.1,1570.0 410.4,1558.6 408.5,1554.4 407.1,1550.2 406.0,1545.4 405.5,1540.6 405.5,1535.8 406.0,1530.4 406.9,1525.6 408.6,1520.2 410.5,1516.0 413.1,1511.8 415.5,1509.0 418.5,1506.5 421.5,1505.0 425.1,1504.1 428.1,1504.2 431.7,1504.9 435.3,1506.5 438.3,1508.5 441.1,1511.2 443.6,1514.2 445.8,1517.8 447.7,1522.0 449.2,1526.8 450.2,1531.6 450.7,1537.0 450.7,1541.8 450.2,1546.0 449.3,1550.2 444.7,1564.0 444.4,1566.4 444.5,1568.2 445.2,1570.0 446.3,1571.8 455.1,1581.3 459.4,1587.4 461.2,1591.0 462.6,1594.6 463.6,1598.8 464.1,1602.4 464.0,1610.2 462.8,1618.6 460.6,1626.4 457.3,1633.6 453.0,1640.2 447.9,1645.6 445.5,1647.6 442.5,1649.5 440.1,1650.5 437.7,1651.0Z M403.2,1752.4 403.6,1746.4 404.3,1740.4 406.8,1728.4 412.2,1709.8 417.5,1694.8 421.8,1685.8 426.3,1679.0 428.7,1676.4 431.1,1674.5 433.5,1673.3 435.9,1672.8 438.3,1673.2 440.7,1674.3 443.1,1676.1 445.5,1678.7 449.9,1685.2 454.3,1694.2 459.6,1709.2 465.1,1727.8 467.8,1741.0 468.8,1752.4 M401.8,1752.4 402.6,1742.2 404.5,1730.8 408.1,1717.0 413.4,1699.6 416.6,1690.6 420.1,1682.8 423.9,1675.8 430.6,1665.4 431.7,1662.4 431.5,1660.0 430.3,1657.6 420.3,1645.1 415.3,1637.2 411.5,1628.8 409.0,1620.4 408.0,1615.0 407.4,1609.6 407.2,1604.2 407.5,1600.0 408.1,1595.8 409.2,1591.6 413.6,1578.4 414.0,1576.0 414.1,1573.6 413.6,1571.2 412.8,1568.8 408.1,1558.6 406.1,1553.2 404.5,1546.6 403.8,1540.0 404.1,1532.8 405.2,1525.6 407.3,1518.4 410.1,1512.6 413.2,1508.2 417.3,1504.4 421.5,1502.2 423.9,1501.6 426.3,1501.4 429.9,1501.7 432.9,1502.6 436.5,1504.3 439.5,1506.4 442.5,1509.2 445.0,1512.4 447.2,1516.0 449.2,1520.2 450.7,1524.4 451.9,1529.8 452.6,1534.6 452.8,1540.0 452.0,1548.4 448.7,1562.2 448.5,1564.6 448.7,1567.0 449.5,1569.4 450.9,1571.8 457.9,1580.8 461.3,1586.2 464.1,1592.2 465.8,1598.8 466.4,1605.4 465.8,1614.4 464.3,1622.2 461.7,1630.0 459.0,1636.0 455.7,1641.5 451.5,1647.2 442.6,1657.6 441.2,1660.0 440.8,1661.8 441.1,1663.6 442.2,1666.0 448.5,1676.2 452.6,1684.0 455.9,1691.8 459.0,1700.8 464.3,1718.2 467.5,1730.8 469.4,1741.6 470.2,1752.4 M400.3,1752.4 400.8,1744.6 401.9,1736.2 403.4,1728.4 405.7,1718.8 409.9,1703.8 413.4,1692.4 416.3,1684.6 422.8,1668.4 423.6,1665.4 423.9,1662.4 423.4,1658.8 422.1,1655.2 414.1,1640.8 410.5,1633.0 407.9,1625.2 406.1,1617.4 405.1,1607.8 405.3,1599.4 406.6,1592.2 410.2,1579.6 410.7,1574.2 409.9,1569.4 405.0,1556.2 403.1,1549.0 402.1,1540.6 402.5,1531.6 403.7,1524.4 405.4,1518.4 408.0,1512.4 410.7,1508.0 414.3,1503.8 417.9,1501.1 422.1,1499.2 426.3,1498.7 429.9,1499.0 433.5,1500.0 437.1,1501.7 440.4,1504.0 443.6,1507.0 446.1,1510.1 448.7,1514.2 450.7,1518.4 452.4,1523.2 453.6,1528.0 454.4,1532.8 454.8,1538.2 454.4,1546.6 452.1,1561.0 452.0,1564.0 452.4,1566.4 453.1,1568.8 454.4,1571.2 460.8,1580.8 463.9,1586.2 466.4,1592.2 467.9,1598.2 468.5,1604.2 468.2,1611.4 467.3,1618.6 465.6,1625.8 463.4,1632.4 460.7,1638.4 450.3,1656.4 449.1,1660.0 448.7,1663.6 449.1,1666.6 450.1,1670.2 456.0,1685.2 459.6,1695.4 466.3,1718.8 468.6,1728.4 470.3,1737.4 471.2,1744.6 471.7,1752.4 M398.9,1752.4 399.2,1745.8 400.0,1738.6 402.7,1723.6 406.2,1709.8 409.8,1696.6 417.8,1671.4 418.8,1667.2 419.1,1663.6 418.8,1659.4 417.6,1655.2 410.0,1638.4 406.9,1630.0 405.1,1623.4 403.7,1616.2 403.0,1607.2 403.1,1599.4 404.3,1592.2 407.3,1579.6 407.7,1574.2 406.9,1568.8 402.8,1555.6 401.2,1548.4 400.4,1540.0 400.8,1531.0 402.0,1523.8 403.9,1517.2 406.4,1511.2 409.7,1505.8 413.1,1501.9 417.3,1498.6 421.5,1496.7 423.9,1496.1 426.3,1496.0 430.5,1496.4 434.1,1497.4 437.7,1499.1 441.3,1501.6 444.5,1504.6 447.5,1508.2 450.2,1512.4 452.2,1516.6 454.0,1521.4 455.3,1526.2 456.2,1531.0 456.7,1536.4 456.7,1544.8 455.1,1559.8 455.5,1565.2 456.2,1567.6 457.5,1570.6 463.6,1580.8 466.4,1586.2 468.5,1591.6 469.8,1597.0 470.6,1603.0 470.5,1609.6 469.8,1616.8 468.4,1624.0 466.8,1630.0 464.4,1636.6 455.0,1656.4 453.8,1660.6 453.5,1664.8 453.9,1668.4 454.8,1672.6 462.6,1697.8 469.3,1723.6 471.0,1732.0 472.1,1739.2 472.8,1745.8 473.1,1752.4 M397.4,1752.4 398.3,1739.2 400.6,1725.4 406.1,1702.0 413.9,1673.8 414.9,1668.4 415.2,1664.2 414.8,1659.4 413.6,1654.6 407.0,1637.8 404.3,1629.4 402.5,1622.2 401.4,1615.0 400.8,1606.0 400.9,1599.4 401.8,1592.8 404.5,1580.2 404.9,1574.2 404.2,1568.2 400.7,1555.0 399.3,1547.8 398.7,1539.4 399.2,1531.0 400.4,1523.2 402.4,1516.0 405.2,1509.4 408.5,1504.0 412.5,1499.3 416.7,1496.1 421.5,1493.9 426.3,1493.3 429.9,1493.6 434.1,1494.6 438.3,1496.5 441.9,1499.0 445.5,1502.2 448.5,1505.8 451.3,1510.0 453.7,1514.8 455.4,1519.0 456.8,1523.8 457.8,1528.6 458.6,1534.0 458.9,1543.0 457.9,1558.6 458.5,1564.6 460.4,1570.0 466.3,1580.8 468.6,1585.6 470.6,1591.0 471.9,1596.4 472.7,1602.4 472.7,1608.4 472.2,1615.6 470.9,1623.4 469.2,1630.0 467.2,1636.0 458.8,1656.4 457.7,1661.2 457.4,1666.0 457.8,1670.2 458.8,1675.6 466.8,1705.6 471.6,1726.6 473.8,1740.4 474.6,1752.4 M395.9,1752.4 396.6,1740.4 398.5,1727.8 402.5,1708.6 410.2,1676.8 411.3,1670.8 411.8,1665.4 411.6,1661.2 410.7,1656.4 402.3,1631.2 400.4,1622.8 399.1,1614.4 398.6,1606.0 398.7,1599.4 399.5,1592.8 401.9,1580.2 402.3,1574.2 401.7,1568.2 398.5,1553.8 397.4,1546.6 397.0,1538.8 397.6,1529.8 399.0,1521.4 401.1,1514.2 404.0,1507.6 407.6,1501.6 411.8,1496.8 416.1,1493.5 420.9,1491.4 423.9,1490.7 426.3,1490.6 430.5,1490.9 434.7,1492.1 438.9,1494.0 442.5,1496.3 446.1,1499.5 449.5,1503.4 452.4,1507.6 455.2,1513.0 457.1,1517.8 458.4,1522.0 459.5,1526.8 460.4,1532.2 461.0,1541.8 460.6,1558.0 461.3,1564.0 463.5,1570.0 468.6,1580.2 471.0,1585.6 472.9,1591.0 474.0,1595.8 474.8,1601.8 474.9,1607.8 474.4,1615.0 473.4,1622.2 472.1,1628.2 470.0,1635.4 462.1,1657.0 461.1,1662.0 460.8,1667.2 461.2,1672.0 462.3,1678.3 469.8,1709.8 473.4,1727.2 475.4,1740.4 476.1,1752.4 M394.5,1752.4 395.0,1741.0 396.7,1728.4 399.6,1712.8 407.2,1678.6 408.3,1671.4 408.6,1666.0 408.3,1661.2 407.5,1656.4 399.6,1630.0 397.9,1621.6 396.9,1613.2 396.4,1604.8 396.6,1598.8 397.3,1592.8 399.4,1580.2 399.8,1574.2 399.3,1568.2 396.6,1553.8 395.6,1546.0 395.3,1538.2 396.0,1529.2 397.4,1520.8 399.7,1513.0 402.7,1505.8 406.5,1499.6 410.7,1494.8 415.5,1491.0 417.9,1489.7 420.9,1488.6 423.3,1488.1 426.3,1487.9 430.5,1488.2 435.3,1489.5 439.5,1491.4 443.7,1494.2 447.4,1497.4 451.0,1501.6 454.2,1506.4 456.7,1511.2 458.5,1515.4 460.0,1520.2 462.2,1530.4 463.1,1540.6 463.1,1556.8 463.9,1562.8 465.9,1568.8 473.0,1584.4 474.6,1589.2 475.9,1594.6 476.8,1600.6 477.0,1606.0 476.7,1613.8 475.7,1621.6 474.4,1628.2 472.7,1634.8 465.4,1657.0 464.3,1662.4 463.9,1667.8 464.3,1673.2 465.3,1680.0 472.7,1714.6 475.3,1728.4 477.0,1741.0 477.5,1752.4 M393.0,1752.4 393.5,1741.0 394.9,1729.0 397.3,1715.2 404.2,1681.0 405.3,1673.3 405.7,1667.2 405.4,1662.4 404.6,1657.0 397.3,1630.0 395.6,1621.0 394.7,1613.2 394.2,1604.8 394.4,1598.8 395.0,1592.8 396.9,1580.2 397.3,1573.6 396.9,1567.4 394.6,1553.2 393.8,1545.4 393.7,1537.6 394.3,1528.6 395.9,1519.6 398.4,1511.2 401.5,1504.0 405.6,1497.4 410.1,1492.2 412.5,1490.2 415.5,1488.1 417.9,1486.9 420.9,1485.9 423.9,1485.3 426.3,1485.1 431.1,1485.6 435.9,1486.9 440.1,1488.8 444.3,1491.5 448.3,1495.0 452.0,1499.2 455.3,1504.0 457.9,1508.8 461.4,1517.8 462.8,1522.6 464.0,1528.6 465.1,1539.4 465.6,1556.2 466.5,1562.2 468.4,1568.2 475.3,1584.4 476.9,1589.2 478.0,1594.0 478.8,1599.4 479.2,1605.4 478.9,1613.2 478.0,1621.0 476.8,1627.6 475.3,1634.2 468.2,1657.6 467.2,1663.6 466.9,1669.0 467.2,1675.0 468.3,1682.7 474.7,1715.2 477.1,1729.0 478.6,1741.6 479.0,1752.4 M391.5,1752.4 391.9,1741.6 393.1,1730.2 395.3,1715.8 401.5,1682.2 402.5,1675.0 402.9,1668.4 402.6,1663.0 401.9,1657.6 394.8,1629.4 393.4,1621.0 392.4,1612.0 392.1,1604.2 392.3,1598.2 394.5,1580.2 394.9,1573.6 394.6,1567.0 392.6,1551.4 392.0,1544.2 392.0,1536.4 392.8,1527.4 394.4,1518.4 397.1,1509.4 400.6,1501.6 404.7,1495.0 409.5,1489.7 411.9,1487.6 414.9,1485.6 420.3,1483.3 423.3,1482.6 426.3,1482.4 431.1,1482.9 435.9,1484.1 440.7,1486.2 444.9,1488.9 449.1,1492.5 453.0,1496.8 456.4,1501.6 459.4,1507.0 461.5,1511.8 463.2,1516.6 465.7,1526.8 467.1,1538.2 468.0,1555.0 469.1,1561.6 470.9,1567.6 477.5,1583.8 480.0,1592.8 480.9,1598.8 481.3,1604.8 481.1,1612.6 480.2,1621.0 477.7,1634.2 471.0,1658.2 470.0,1664.2 469.7,1670.2 470.0,1676.8 471.0,1684.6 477.0,1717.6 478.9,1730.2 480.1,1741.6 480.5,1752.4" fill="none" stroke="#505050" stroke-width="1.0" stroke-linejoin="round"/>
<rect x="416.00" y="1749.50" width="38.60" height="4.00" fill="#000" stroke="none" stroke-width="0"/>
<rect x="377.40" y="1351.30" width="153.90" height="215.10" fill="none" stroke="#111" stroke-width="1.5"/>
<line x1="531.70" y1="1350.60" x2="531.70" y2="1567.60" stroke="#000" stroke-width="2.8" stroke-linecap="butt"/>
<line x1="376.70" y1="1566.60" x2="533.00" y2="1566.60" stroke="#000" stroke-width="2.0" stroke-linecap="butt"/>
<text transform="translate(260.23,1446.80) scale(0.8855,1)" font-size="19.57" fill="#000">CD4+IL-4+</text>
<text transform="translate(283.98,1471.30) scale(0.9230,1)" font-size="19.86" fill="#000">28.6</text>
<text transform="translate(200.63,1602.30) scale(1.0019,1)" font-size="36.14" font-weight="bold" fill="#000">28.6</text>
<rect x="497.30" y="1519.60" width="5.40" height="5.40" fill="#000" stroke="none" stroke-width="0"/>
<rect x="630.40" y="1323.50" width="428.60" height="427.80" fill="none" stroke="#1a1a1a" stroke-width="1.6"/>
<line x1="631.50" y1="1751.30" x2="631.50" y2="1762.30" stroke="#000" stroke-width="2.6" stroke-linecap="butt"/>
<line x1="655.01" y1="1751.30" x2="655.01" y2="1757.30" stroke="#000" stroke-width="1.4" stroke-linecap="butt"/>
<line x1="668.76" y1="1751.30" x2="668.76" y2="1757.30" stroke="#000" stroke-width="1.4" stroke-linecap="butt"/>
<line x1="678.52" y1="1751.30" x2="678.52" y2="1757.30" stroke="#000" stroke-width="1.4" stroke-linecap="butt"/>
<line x1="686.09" y1="1751.30" x2="686.09" y2="1758.60" stroke="#000" stroke-width="1.4" stroke-linecap="butt"/>
<line x1="692.27" y1="1751.30" x2="692.27" y2="1757.30" stroke="#000" stroke-width="1.4" stroke-linecap="butt"/>
<line x1="697.50" y1="1751.30" x2="697.50" y2="1757.30" stroke="#000" stroke-width="1.4" stroke-linecap="butt"/>
<line x1="702.03" y1="1751.30" x2="702.03" y2="1757.30" stroke="#000" stroke-width="1.4" stroke-linecap="butt"/>
<line x1="706.03" y1="1751.30" x2="706.03" y2="1757.30" stroke="#000" stroke-width="1.4" stroke-linecap="butt"/>
<line x1="709.60" y1="1751.30" x2="709.60" y2="1762.30" stroke="#000" stroke-width="2.6" stroke-linecap="butt"/>
<line x1="733.11" y1="1751.30" x2="733.11" y2="1757.30" stroke="#000" stroke-width="1.4" stroke-linecap="butt"/>
<line x1="746.86" y1="1751.30" x2="746.86" y2="1757.30" stroke="#000" stroke-width="1.4" stroke-linecap="butt"/>
<line x1="756.62" y1="1751.30" x2="756.62" y2="1757.30" stroke="#000" stroke-width="1.4" stroke-linecap="butt"/>
<line x1="764.19" y1="1751.30" x2="764.19" y2="1758.60" stroke="#000" stroke-width="1.4" stroke-linecap="butt"/>
<line x1="770.37" y1="1751.30" x2="770.37" y2="1757.30" stroke="#000" stroke-width="1.4" stroke-linecap="butt"/>
<line x1="775.60" y1="1751.30" x2="775.60" y2="1757.30" stroke="#000" stroke-width="1.4" stroke-linecap="butt"/>
<line x1="780.13" y1="1751.30" x2="780.13" y2="1757.30" stroke="#000" stroke-width="1.4" stroke-linecap="butt"/>
<line x1="784.13" y1="1751.30" x2="784.13" y2="1757.30" stroke="#000" stroke-width="1.4" stroke-linecap="butt"/>
<line x1="787.70" y1="1751.30" x2="787.70" y2="1762.30" stroke="#000" stroke-width="2.6" stroke-linecap="butt"/>
<line x1="811.21" y1="1751.30" x2="811.21" y2="1757.30" stroke="#000" stroke-width="1.4" stroke-linecap="butt"/>
<line x1="824.96" y1="1751.30" x2="824.96" y2="1757.30" stroke="#000" stroke-width="1.4" stroke-linecap="butt"/>
<line x1="834.72" y1="1751.30" x2="834.72" y2="1757.30" stroke="#000" stroke-width="1.4" stroke-linecap="butt"/>
<line x1="842.29" y1="1751.30" x2="842.29" y2="1758.60" stroke="#000" stroke-width="1.4" stroke-linecap="butt"/>
<line x1="848.47" y1="1751.30" x2="848.47" y2="1757.30" stroke="#000" stroke-width="1.4" stroke-linecap="butt"/>
<line x1="853.70" y1="1751.30" x2="853.70" y2="1757.30" stroke="#000" stroke-width="1.4" stroke-linecap="butt"/>
<line x1="858.23" y1="1751.30" x2="858.23" y2="1757.30" stroke="#000" stroke-width="1.4" stroke-linecap="butt"/>
<line x1="862.23" y1="1751.30" x2="862.23" y2="1757.30" stroke="#000" stroke-width="1.4" stroke-linecap="butt"/>
<line x1="865.80" y1="1751.30" x2="865.80" y2="1762.30" stroke="#000" stroke-width="2.6" stroke-linecap="butt"/>
<line x1="889.31" y1="1751.30" x2="889.31" y2="1757.30" stroke="#000" stroke-width="1.4" stroke-linecap="butt"/>
<line x1="903.06" y1="1751.30" x2="903.06" y2="1757.30" stroke="#000" stroke-width="1.4" stroke-linecap="butt"/>
<line x1="912.82" y1="1751.30" x2="912.82" y2="1757.30" stroke="#000" stroke-width="1.4" stroke-linecap="butt"/>
<line x1="920.39" y1="1751.30" x2="920.39" y2="1758.60" stroke="#000" stroke-width="1.4" stroke-linecap="butt"/>
<line x1="926.57" y1="1751.30" x2="926.57" y2="1757.30" stroke="#000" stroke-width="1.4" stroke-linecap="butt"/>
<line x1="931.80" y1="1751.30" x2="931.80" y2="1757.30" stroke="#000" stroke-width="1.4" stroke-linecap="butt"/>
<line x1="936.33" y1="1751.30" x2="936.33" y2="1757.30" stroke="#000" stroke-width="1.4" stroke-linecap="butt"/>
<line x1="940.33" y1="1751.30" x2="940.33" y2="1757.30" stroke="#000" stroke-width="1.4" stroke-linecap="butt"/>
<line x1="943.90" y1="1751.30" x2="943.90" y2="1762.30" stroke="#000" stroke-width="2.6" stroke-linecap="butt"/>
<line x1="967.41" y1="1751.30" x2="967.41" y2="1757.30" stroke="#000" stroke-width="1.4" stroke-linecap="butt"/>
<line x1="981.16" y1="1751.30" x2="981.16" y2="1757.30" stroke="#000" stroke-width="1.4" stroke-linecap="butt"/>
<line x1="990.92" y1="1751.30" x2="990.92" y2="1757.30" stroke="#000" stroke-width="1.4" stroke-linecap="butt"/>
<line x1="998.49" y1="1751.30" x2="998.49" y2="1758.60" stroke="#000" stroke-width="1.4" stroke-linecap="butt"/>
<line x1="1004.67" y1="1751.30" x2="1004.67" y2="1757.30" stroke="#000" stroke-width="1.4" stroke-linecap="butt"/>
<line x1="1009.90" y1="1751.30" x2="1009.90" y2="1757.30" stroke="#000" stroke-width="1.4" stroke-linecap="butt"/>
<line x1="1014.43" y1="1751.30" x2="1014.43" y2="1757.30" stroke="#000" stroke-width="1.4" stroke-linecap="butt"/>
<line x1="1018.43" y1="1751.30" x2="1018.43" y2="1757.30" stroke="#000" stroke-width="1.4" stroke-linecap="butt"/>
<line x1="1022.00" y1="1751.30" x2="1022.00" y2="1762.30" stroke="#000" stroke-width="2.6" stroke-linecap="butt"/>
<line x1="1045.51" y1="1751.30" x2="1045.51" y2="1757.30" stroke="#000" stroke-width="1.4" stroke-linecap="butt"/>
<text transform="translate(639.08,1787.60) scale(0.8351,1)" font-size="16.29" fill="#000">10</text>
<text transform="translate(654.35,1777.80) scale(0.8443,1)" font-size="16.29" fill="#000">0</text>
<text transform="translate(710.28,1787.60) scale(0.8351,1)" font-size="16.29" fill="#000">10</text>
<text transform="translate(724.96,1777.80) scale(0.9183,1)" font-size="16.52" fill="#000">1</text>
<text transform="translate(788.38,1787.60) scale(0.8351,1)" font-size="16.29" fill="#000">10</text>
<text transform="translate(803.47,1777.80) scale(0.8907,1)" font-size="16.29" fill="#000">2</text>
<text transform="translate(866.48,1787.60) scale(0.8351,1)" font-size="16.29" fill="#000">10</text>
<text transform="translate(881.74,1777.80) scale(0.8532,1)" font-size="16.29" fill="#000">3</text>
<text transform="translate(944.58,1787.60) scale(0.8351,1)" font-size="16.29" fill="#000">10</text>
<text transform="translate(960.14,1777.80) scale(0.7910,1)" font-size="16.52" fill="#000">4</text>
<text transform="translate(1022.68,1787.60) scale(0.8351,1)" font-size="16.29" fill="#000">10</text>
<text transform="translate(1037.94,1777.80) scale(0.8410,1)" font-size="16.52" fill="#000">5</text>
<line x1="617.90" y1="1662.70" x2="630.40" y2="1662.70" stroke="#000" stroke-width="2.6" stroke-linecap="butt"/>
<line x1="623.40" y1="1632.18" x2="630.40" y2="1632.18" stroke="#000" stroke-width="1.5" stroke-linecap="butt"/>
<line x1="623.40" y1="1614.32" x2="630.40" y2="1614.32" stroke="#000" stroke-width="1.5" stroke-linecap="butt"/>
<line x1="623.40" y1="1601.65" x2="630.40" y2="1601.65" stroke="#000" stroke-width="1.5" stroke-linecap="butt"/>
<line x1="623.40" y1="1591.82" x2="630.40" y2="1591.82" stroke="#000" stroke-width="1.5" stroke-linecap="butt"/>
<line x1="623.40" y1="1583.80" x2="630.40" y2="1583.80" stroke="#000" stroke-width="1.5" stroke-linecap="butt"/>
<line x1="623.40" y1="1577.01" x2="630.40" y2="1577.01" stroke="#000" stroke-width="1.5" stroke-linecap="butt"/>
<line x1="623.40" y1="1571.13" x2="630.40" y2="1571.13" stroke="#000" stroke-width="1.5" stroke-linecap="butt"/>
<line x1="623.40" y1="1565.94" x2="630.40" y2="1565.94" stroke="#000" stroke-width="1.5" stroke-linecap="butt"/>
<line x1="617.90" y1="1561.30" x2="630.40" y2="1561.30" stroke="#000" stroke-width="2.6" stroke-linecap="butt"/>
<line x1="623.40" y1="1531.11" x2="630.40" y2="1531.11" stroke="#000" stroke-width="1.5" stroke-linecap="butt"/>
<line x1="623.40" y1="1513.44" x2="630.40" y2="1513.44" stroke="#000" stroke-width="1.5" stroke-linecap="butt"/>
<line x1="623.40" y1="1500.91" x2="630.40" y2="1500.91" stroke="#000" stroke-width="1.5" stroke-linecap="butt"/>
<line x1="623.40" y1="1491.19" x2="630.40" y2="1491.19" stroke="#000" stroke-width="1.5" stroke-linecap="butt"/>
<line x1="623.40" y1="1483.25" x2="630.40" y2="1483.25" stroke="#000" stroke-width="1.5" stroke-linecap="butt"/>
<line x1="623.40" y1="1476.54" x2="630.40" y2="1476.54" stroke="#000" stroke-width="1.5" stroke-linecap="butt"/>
<line x1="623.40" y1="1470.72" x2="630.40" y2="1470.72" stroke="#000" stroke-width="1.5" stroke-linecap="butt"/>
<line x1="623.40" y1="1465.59" x2="630.40" y2="1465.59" stroke="#000" stroke-width="1.5" stroke-linecap="butt"/>
<line x1="617.90" y1="1461.00" x2="630.40" y2="1461.00" stroke="#000" stroke-width="2.6" stroke-linecap="butt"/>
<line x1="623.40" y1="1431.92" x2="630.40" y2="1431.92" stroke="#000" stroke-width="1.5" stroke-linecap="butt"/>
<line x1="623.40" y1="1414.91" x2="630.40" y2="1414.91" stroke="#000" stroke-width="1.5" stroke-linecap="butt"/>
<line x1="623.40" y1="1402.84" x2="630.40" y2="1402.84" stroke="#000" stroke-width="1.5" stroke-linecap="butt"/>
<line x1="623.40" y1="1393.48" x2="630.40" y2="1393.48" stroke="#000" stroke-width="1.5" stroke-linecap="butt"/>
<line x1="623.40" y1="1385.83" x2="630.40" y2="1385.83" stroke="#000" stroke-width="1.5" stroke-linecap="butt"/>
<line x1="623.40" y1="1379.36" x2="630.40" y2="1379.36" stroke="#000" stroke-width="1.5" stroke-linecap="butt"/>
<line x1="623.40" y1="1373.76" x2="630.40" y2="1373.76" stroke="#000" stroke-width="1.5" stroke-linecap="butt"/>
<line x1="623.40" y1="1368.82" x2="630.40" y2="1368.82" stroke="#000" stroke-width="1.5" stroke-linecap="butt"/>
<line x1="617.90" y1="1364.40" x2="630.40" y2="1364.40" stroke="#000" stroke-width="2.6" stroke-linecap="butt"/>
<line x1="623.40" y1="1335.32" x2="630.40" y2="1335.32" stroke="#000" stroke-width="1.5" stroke-linecap="butt"/>
<line x1="623.40" y1="1670.26" x2="630.40" y2="1670.26" stroke="#000" stroke-width="1.5" stroke-linecap="butt"/>
<line x1="623.40" y1="1677.06" x2="630.40" y2="1677.06" stroke="#000" stroke-width="1.5" stroke-linecap="butt"/>
<line x1="623.40" y1="1682.36" x2="630.40" y2="1682.36" stroke="#000" stroke-width="1.5" stroke-linecap="butt"/>
<line x1="623.40" y1="1686.89" x2="630.40" y2="1686.89" stroke="#000" stroke-width="1.5" stroke-linecap="butt"/>
<line x1="623.40" y1="1690.67" x2="630.40" y2="1690.67" stroke="#000" stroke-width="1.5" stroke-linecap="butt"/>
<line x1="623.40" y1="1694.07" x2="630.40" y2="1694.07" stroke="#000" stroke-width="1.5" stroke-linecap="butt"/>
<line x1="623.40" y1="1696.72" x2="630.40" y2="1696.72" stroke="#000" stroke-width="1.5" stroke-linecap="butt"/>
<line x1="623.40" y1="1705.24" x2="630.40" y2="1705.24" stroke="#000" stroke-width="1.5" stroke-linecap="butt"/>
<line x1="623.40" y1="1709.19" x2="630.40" y2="1709.19" stroke="#000" stroke-width="1.5" stroke-linecap="butt"/>
<line x1="623.40" y1="1713.54" x2="630.40" y2="1713.54" stroke="#000" stroke-width="1.5" stroke-linecap="butt"/>
<line x1="623.40" y1="1718.28" x2="630.40" y2="1718.28" stroke="#000" stroke-width="1.5" stroke-linecap="butt"/>
<line x1="623.40" y1="1723.41" x2="630.40" y2="1723.41" stroke="#000" stroke-width="1.5" stroke-linecap="butt"/>
<line x1="623.40" y1="1728.94" x2="630.40" y2="1728.94" stroke="#000" stroke-width="1.5" stroke-linecap="butt"/>
<line x1="623.40" y1="1734.47" x2="630.40" y2="1734.47" stroke="#000" stroke-width="1.5" stroke-linecap="butt"/>
<rect x="620.40" y="1696.00" width="10.00" height="9.00" fill="#000" stroke="none" stroke-width="0"/>
<line x1="617.90" y1="1740.00" x2="630.40" y2="1740.00" stroke="#000" stroke-width="2.6" stroke-linecap="butt"/>
<text transform="translate(588.88,1672.10) scale(0.7907,1)" font-size="15.43" fill="#000">10</text>
<text transform="translate(601.81,1662.20) scale(1.0256,1)" font-size="15.43" fill="#000">2</text>
<text transform="translate(588.88,1570.70) scale(0.7907,1)" font-size="15.43" fill="#000">10</text>
<text transform="translate(601.99,1560.80) scale(0.9825,1)" font-size="15.43" fill="#000">3</text>
<text transform="translate(588.88,1470.40) scale(0.7907,1)" font-size="15.43" fill="#000">10</text>
<text transform="translate(602.31,1460.50) scale(0.9109,1)" font-size="15.65" fill="#000">4</text>
<text transform="translate(588.88,1373.80) scale(0.7907,1)" font-size="15.43" fill="#000">10</text>
<text transform="translate(601.99,1363.90) scale(0.9684,1)" font-size="15.65" fill="#000">5</text>
<text transform="translate(593.08,1704.30) scale(0.9722,1)" font-size="15.86" fill="#000">0</text>
<text transform="translate(576.51,1749.50) scale(0.9702,1)" font-size="15.86" fill="#000">-10</text>
<text transform="translate(601.20,1739.70) scale(0.9766,1)" font-size="16.43" fill="#000">2</text>
<path d="M937.4,1638.9 933.2,1639.2 929.6,1638.1 925.4,1635.2 922.0,1631.1 919.4,1626.3 917.8,1620.9 917.1,1614.9 917.3,1608.9 918.9,1600.5 921.3,1592.7 923.0,1589.1 929.1,1578.9 933.8,1571.9 938.0,1567.2 941.6,1564.7 945.2,1564.0 946.8,1564.5 947.9,1565.7 949.0,1568.1 949.8,1571.7 951.6,1590.3 954.4,1608.9 954.5,1617.3 953.8,1620.9 952.7,1624.5 951.0,1628.1 948.9,1631.1 946.4,1633.8 943.4,1636.2 940.4,1637.9 937.4,1638.9Z M955.4,1749.9 934.4,1750.5 914.1,1749.9 915.3,1739.1 917.5,1730.1 920.7,1721.7 926.7,1709.7 927.7,1706.1 927.2,1702.5 923.3,1692.9 921.8,1686.9 921.2,1680.3 921.8,1674.3 923.3,1669.5 925.5,1665.3 928.4,1662.1 931.4,1660.5 933.2,1660.3 935.0,1660.6 936.8,1661.4 938.6,1662.8 941.8,1667.1 943.9,1672.5 944.9,1678.5 944.7,1685.1 943.6,1691.1 940.4,1701.3 940.2,1704.9 941.4,1708.5 948.8,1721.2 952.0,1728.9 953.7,1734.9 954.9,1740.9 955.9,1749.9 955.4,1749.9Z M969.8,1749.9 958.4,1750.4 933.8,1750.5 911.0,1750.4 899.7,1749.9 900.3,1737.9 902.7,1709.7 901.9,1681.5 902.1,1659.9 901.3,1649.7 896.7,1628.7 895.1,1616.7 894.8,1602.9 896.2,1591.5 899.2,1581.9 905.8,1566.9 916.8,1545.3 925.0,1531.5 931.4,1523.2 938.0,1516.7 944.6,1512.5 948.2,1511.2 951.2,1510.7 955.4,1510.9 958.4,1512.5 961.2,1516.5 963.4,1522.5 964.7,1528.5 965.7,1536.3 967.4,1562.7 968.6,1572.8 970.4,1581.0 976.1,1599.9 977.8,1610.7 977.9,1619.7 976.6,1628.7 974.3,1637.1 967.3,1655.7 965.9,1661.7 965.3,1668.3 964.9,1688.7 965.2,1701.3 966.0,1710.9 969.4,1736.7 970.1,1748.1 970.2,1749.9 969.8,1749.9Z" fill="#606060" fill-opacity="0.3" fill-rule="evenodd" stroke="none"/>
<path d="M939.8,1598.2 938.6,1597.9 937.0,1596.3 936.3,1594.5 936.3,1592.7 936.9,1590.9 939.2,1587.5 941.0,1586.0 942.2,1585.9 942.8,1586.8 943.2,1588.5 943.2,1593.9 942.5,1595.7 941.6,1597.1 940.4,1598.0 939.8,1598.2Z M936.8,1625.1 935.0,1625.4 933.2,1625.2 931.4,1624.5 930.2,1623.6 928.9,1622.1 928.0,1620.3 927.2,1617.9 927.0,1615.5 927.7,1611.3 928.7,1608.9 929.9,1607.1 931.4,1605.4 933.2,1604.0 935.0,1603.2 936.8,1602.8 938.0,1603.0 939.2,1603.8 941.0,1606.3 942.9,1610.7 943.6,1614.9 943.1,1618.5 941.7,1621.5 939.3,1623.9 936.8,1625.1Z M933.2,1685.2 932.0,1685.0 930.8,1683.8 930.0,1682.1 929.8,1680.3 930.1,1677.9 930.8,1676.4 932.0,1675.3 933.2,1675.0 934.4,1675.5 935.4,1676.7 936.1,1678.5 936.2,1680.3 936.0,1682.1 935.2,1683.9 934.4,1684.7 933.2,1685.2Z M920.5,1749.9 921.1,1745.1 922.1,1740.3 923.8,1735.5 925.6,1731.9 927.8,1728.7 930.2,1726.5 932.6,1725.2 935.0,1724.8 937.4,1725.3 939.8,1726.5 942.2,1728.8 944.4,1731.9 946.2,1735.5 947.8,1740.3 948.9,1745.1 949.5,1749.9 M937.4,1627.7 935.0,1628.1 932.6,1627.8 930.2,1626.7 928.4,1625.1 926.7,1622.7 925.5,1619.7 924.9,1616.7 925.0,1613.1 926.1,1608.3 927.5,1605.3 930.8,1599.3 932.7,1592.7 933.5,1590.9 936.5,1586.1 938.6,1583.4 941.0,1581.6 942.8,1581.4 943.4,1581.7 944.2,1583.1 944.9,1587.3 945.2,1593.9 944.1,1602.3 945.9,1611.9 945.9,1616.7 945.0,1620.3 943.0,1623.9 940.4,1626.3 937.4,1627.7Z M933.8,1688.3 932.0,1688.2 930.1,1686.9 928.7,1684.5 928.0,1680.9 928.1,1677.9 929.2,1674.9 930.8,1673.0 932.6,1672.2 934.4,1672.5 936.2,1673.9 937.4,1676.1 938.1,1679.1 938.0,1682.1 937.1,1685.1 935.6,1687.3 933.8,1688.3Z M919.1,1749.9 919.7,1744.5 920.9,1739.1 922.5,1734.3 924.4,1730.1 926.8,1726.5 929.6,1723.7 932.6,1722.0 935.0,1721.7 937.4,1722.1 940.4,1723.8 943.1,1726.5 945.5,1730.1 947.5,1734.3 949.1,1739.1 950.3,1744.5 950.9,1749.9 M937.4,1630.5 934.4,1630.9 931.4,1630.3 928.6,1628.7 926.3,1626.3 924.5,1623.3 923.3,1619.7 922.8,1616.1 922.9,1611.9 923.4,1608.9 924.5,1605.3 929.1,1593.3 930.5,1590.3 935.1,1583.1 938.0,1579.4 941.0,1577.1 943.4,1576.7 944.6,1577.3 945.2,1578.3 946.3,1583.1 947.1,1593.9 947.1,1602.3 948.4,1612.5 948.3,1616.7 947.1,1621.5 944.7,1625.7 941.5,1628.7 939.8,1629.7 937.4,1630.5Z M933.8,1691.8 931.4,1691.5 930.2,1690.8 928.8,1689.3 926.9,1685.7 926.1,1681.5 926.4,1677.3 927.8,1673.1 929.0,1671.3 930.2,1670.1 932.6,1669.2 935.0,1669.6 936.2,1670.4 937.6,1671.9 939.3,1675.5 940.0,1679.7 939.6,1683.9 938.4,1687.5 937.4,1689.3 936.2,1690.6 935.0,1691.4 933.8,1691.8Z M917.7,1749.9 918.4,1743.9 919.6,1737.9 921.4,1732.5 923.6,1727.6 926.0,1723.8 929.0,1720.6 932.0,1718.8 935.0,1718.2 938.0,1718.9 941.0,1720.8 944.0,1724.0 946.4,1727.8 948.6,1732.5 950.3,1737.9 951.6,1743.9 952.3,1749.9 M936.8,1633.6 933.2,1633.7 930.2,1632.8 927.2,1630.9 924.7,1628.1 922.6,1624.5 921.2,1620.3 920.6,1615.5 920.8,1610.7 921.7,1605.9 923.3,1600.5 925.8,1593.3 927.6,1589.7 933.3,1580.7 936.9,1575.9 940.4,1572.9 942.2,1572.1 944.0,1571.9 945.2,1572.3 946.4,1573.9 947.6,1578.9 949.5,1601.1 950.7,1610.7 950.7,1616.7 950.2,1619.7 949.2,1622.7 947.7,1625.7 946.0,1628.1 944.0,1630.1 941.6,1631.8 939.2,1632.9 936.8,1633.6Z M933.8,1695.9 932.0,1695.8 930.2,1694.9 928.4,1693.3 927.3,1691.7 926.0,1689.3 925.1,1686.9 924.3,1681.5 924.3,1678.5 924.8,1675.5 925.5,1673.1 926.6,1670.7 927.8,1668.9 929.6,1667.2 930.8,1666.5 932.6,1666.1 934.4,1666.2 935.6,1666.7 937.4,1668.0 938.7,1669.5 940.1,1671.9 941.0,1674.3 941.8,1679.7 941.4,1685.1 940.6,1688.1 939.7,1690.5 938.2,1692.9 936.8,1694.4 935.0,1695.6 933.8,1695.9Z M916.3,1749.9 917.1,1742.7 918.3,1736.7 920.2,1730.7 922.4,1725.7 925.4,1720.7 928.4,1717.2 931.4,1714.9 934.4,1714.1 937.4,1714.7 941.0,1717.0 944.2,1720.5 947.3,1725.3 949.7,1730.7 951.6,1736.7 952.9,1742.7 953.7,1749.9 M938.0,1636.5 933.8,1637.0 930.2,1636.1 926.6,1633.9 923.4,1630.5 921.0,1626.3 919.2,1620.9 918.4,1615.5 918.6,1610.1 919.6,1604.1 921.6,1596.9 923.3,1592.1 925.6,1587.9 932.3,1577.1 936.5,1571.7 938.6,1569.6 940.4,1568.3 942.8,1567.3 944.6,1567.1 945.8,1567.3 947.2,1568.7 948.2,1571.0 948.9,1574.1 950.6,1591.5 953.0,1609.5 953.2,1613.1 953.1,1616.7 952.5,1620.3 951.6,1623.3 950.2,1626.3 948.3,1629.3 945.8,1632.1 943.4,1634.0 941.0,1635.4 938.0,1636.5Z M933.8,1703.9 932.0,1702.8 929.6,1700.2 927.2,1697.0 925.4,1693.8 924.0,1690.5 923.2,1687.5 922.6,1684.5 922.4,1680.9 922.6,1677.3 923.1,1674.3 924.0,1671.3 925.4,1668.2 927.2,1665.7 929.0,1664.1 930.8,1663.1 933.2,1662.7 935.0,1663.0 936.8,1663.9 938.6,1665.4 940.4,1667.7 941.9,1670.7 942.9,1673.7 943.5,1676.7 943.7,1680.3 943.2,1686.9 941.1,1693.5 939.2,1697.4 937.4,1700.2 935.0,1703.2 933.8,1703.9Z M914.9,1749.9 915.6,1743.3 916.6,1737.3 918.4,1730.7 920.5,1725.3 923.1,1719.9 926.6,1714.4 931.4,1708.3 933.8,1706.2 935.0,1706.6 936.2,1707.5 941.6,1713.0 945.2,1717.7 948.5,1723.5 950.8,1728.9 952.9,1735.5 954.3,1742.7 955.1,1749.9 M935.6,1640.8 932.0,1640.6 930.2,1639.9 927.8,1638.6 923.6,1634.8 920.2,1629.9 917.9,1624.5 916.6,1619.1 916.2,1613.1 916.7,1607.1 918.4,1598.7 920.7,1591.5 923.3,1586.7 930.6,1574.7 934.9,1568.7 938.6,1564.9 942.2,1562.7 944.0,1562.2 945.8,1562.2 947.6,1563.0 948.6,1564.5 949.6,1566.9 950.4,1570.5 952.3,1589.7 955.3,1608.9 955.5,1613.7 955.3,1617.9 954.4,1622.1 953.2,1625.7 951.3,1629.3 948.8,1632.8 945.8,1635.8 942.2,1638.4 939.2,1639.8 935.6,1640.8Z M913.5,1749.9 914.7,1739.7 916.7,1730.7 919.6,1722.3 924.7,1710.9 925.9,1706.7 926.0,1704.9 925.6,1702.5 922.1,1691.7 920.8,1685.7 920.6,1679.1 921.4,1673.1 923.1,1667.7 926.0,1662.9 927.8,1661.0 929.6,1659.7 931.4,1658.9 933.2,1658.7 935.0,1659.0 936.8,1659.8 939.8,1662.4 942.5,1666.5 944.5,1671.9 945.5,1677.9 945.5,1684.5 944.6,1690.5 942.1,1700.7 941.9,1704.9 943.0,1708.5 949.3,1720.5 952.6,1728.9 955.2,1739.1 956.4,1749.9 M935.0,1647.4 933.8,1647.6 932.0,1647.1 926.6,1642.5 921.4,1636.5 917.9,1630.5 915.6,1624.5 914.4,1618.5 914.1,1611.9 914.6,1605.3 916.3,1596.9 918.5,1590.3 923.8,1580.7 930.8,1569.3 935.0,1563.7 939.2,1559.7 941.6,1558.2 943.4,1557.5 945.2,1557.2 947.0,1557.2 948.4,1557.9 949.8,1559.7 951.0,1562.7 951.8,1566.3 954.0,1588.5 957.5,1608.3 957.8,1613.7 957.5,1618.5 956.7,1622.7 955.3,1626.9 953.1,1631.1 950.6,1634.7 947.6,1638.1 944.0,1641.3 938.6,1645.3 935.0,1647.4Z M912.2,1749.9 912.9,1741.5 914.5,1733.1 916.8,1724.7 921.4,1711.5 922.3,1706.7 922.1,1701.9 919.6,1690.5 918.8,1684.5 918.8,1677.9 919.6,1671.9 921.7,1665.3 924.8,1659.6 927.2,1656.4 929.6,1653.9 931.4,1652.5 933.2,1651.7 934.4,1651.9 936.2,1653.1 938.6,1655.5 941.0,1658.7 944.3,1664.7 946.3,1670.7 947.3,1676.7 947.6,1682.7 947.1,1688.7 945.5,1699.5 945.6,1704.9 946.9,1709.7 952.1,1722.3 954.7,1730.1 956.8,1739.7 957.8,1749.9 M910.8,1749.9 911.4,1742.1 912.7,1733.7 914.4,1726.5 918.5,1712.7 919.4,1707.3 919.3,1701.3 917.5,1690.5 916.9,1685.1 916.8,1679.7 917.2,1674.3 918.0,1670.1 919.1,1665.9 923.8,1653.9 924.6,1650.3 924.4,1648.5 923.7,1646.1 916.4,1633.0 914.4,1628.1 913.2,1623.9 912.3,1618.5 911.9,1613.1 912.1,1607.1 913.0,1600.5 914.5,1593.9 916.6,1588.5 923.9,1575.3 930.6,1564.5 934.8,1559.1 938.6,1555.4 942.8,1552.9 946.4,1552.1 948.8,1552.5 950.2,1553.7 951.8,1556.7 952.8,1560.3 953.8,1566.9 955.7,1586.7 959.6,1607.1 960.0,1611.3 960.1,1615.5 959.1,1622.7 958.1,1626.3 956.6,1629.9 952.6,1636.5 944.5,1646.7 943.2,1649.7 943.0,1652.1 943.7,1655.7 947.7,1667.7 949.2,1675.5 949.5,1684.5 948.2,1700.1 948.6,1705.5 949.8,1710.3 954.0,1722.3 956.5,1730.7 958.2,1739.7 959.2,1749.9 M909.4,1749.9 910.0,1741.5 911.2,1733.7 915.9,1713.9 916.8,1708.5 916.9,1702.5 915.1,1686.3 915.0,1677.3 916.2,1668.9 919.8,1655.1 920.4,1650.9 920.2,1648.5 919.4,1645.5 913.3,1631.7 911.7,1626.9 910.6,1622.1 909.9,1616.7 909.7,1610.7 910.1,1604.7 910.9,1598.7 912.6,1592.1 914.8,1586.7 923.3,1571.1 930.2,1560.0 934.4,1554.6 938.6,1550.6 942.8,1548.0 945.2,1547.2 947.0,1547.0 949.4,1547.2 951.2,1548.6 952.8,1551.3 954.1,1555.5 955.3,1563.3 957.2,1584.3 958.4,1590.9 961.2,1602.9 962.2,1610.7 962.3,1615.5 962.0,1619.7 961.2,1623.9 959.9,1628.1 956.5,1635.3 948.8,1647.3 947.6,1650.3 947.3,1653.3 947.7,1657.5 950.4,1670.1 951.3,1677.3 951.4,1685.1 950.7,1698.9 951.1,1704.9 952.2,1710.3 956.2,1723.5 958.2,1731.3 959.8,1740.9 960.6,1749.9 M908.0,1749.9 908.5,1742.7 909.4,1734.9 913.6,1714.5 914.5,1708.5 914.6,1702.5 913.2,1686.9 913.1,1677.9 913.9,1670.1 916.5,1656.9 917.0,1652.1 916.8,1649.1 916.2,1646.1 910.5,1630.5 909.2,1625.7 908.3,1620.9 907.7,1614.9 907.6,1608.9 908.1,1602.3 908.9,1596.9 910.9,1589.7 914.2,1582.5 923.4,1565.7 929.8,1555.5 934.4,1549.7 939.2,1545.2 941.6,1543.7 944.0,1542.5 946.4,1541.9 948.2,1541.8 950.6,1542.2 952.4,1543.6 954.1,1546.5 955.4,1550.7 956.8,1559.1 958.2,1576.5 959.0,1583.6 960.2,1589.8 963.4,1602.9 964.5,1611.3 964.6,1615.5 964.3,1619.7 963.6,1623.9 962.5,1628.1 959.4,1635.3 952.3,1647.9 951.1,1651.5 950.7,1655.1 950.9,1659.3 952.6,1670.7 953.3,1677.9 953.4,1684.5 953.0,1698.3 953.3,1704.3 954.5,1710.3 958.1,1724.1 960.0,1732.5 961.3,1740.9 962.0,1749.9 M906.6,1749.9 907.8,1736.1 911.6,1714.5 912.3,1708.5 912.4,1701.9 911.3,1686.9 911.2,1678.5 911.7,1671.3 913.7,1657.5 914.1,1652.7 913.9,1649.7 913.2,1646.1 908.2,1630.5 907.0,1625.7 906.0,1620.3 905.5,1614.3 905.4,1608.3 905.8,1602.3 906.7,1596.3 908.8,1588.5 912.7,1580.1 922.0,1562.7 929.1,1551.3 934.4,1544.7 939.2,1540.3 941.6,1538.7 944.0,1537.6 946.4,1536.8 948.8,1536.6 951.8,1537.1 953.6,1538.7 955.4,1541.8 956.8,1546.5 958.3,1555.5 959.7,1573.5 960.6,1581.3 962.0,1588.6 965.4,1601.7 966.7,1610.7 966.7,1619.1 966.1,1623.3 965.1,1627.5 962.2,1635.3 955.2,1649.1 954.1,1652.7 953.6,1656.9 953.7,1661.1 955.3,1678.5 955.1,1697.1 955.5,1703.7 956.6,1710.3 960.0,1724.7 961.6,1733.1 962.8,1741.5 963.4,1749.9 M905.2,1749.9 906.3,1735.5 909.5,1715.7 910.2,1708.5 910.3,1701.9 909.4,1686.9 909.3,1679.1 909.6,1672.5 911.1,1659.3 911.4,1653.9 911.2,1650.3 910.6,1646.7 905.7,1629.9 904.5,1624.5 903.7,1619.1 903.3,1613.1 903.3,1606.5 903.7,1600.5 904.6,1595.1 906.8,1587.3 911.4,1577.1 921.0,1559.1 928.5,1547.1 933.8,1540.4 939.2,1535.4 942.2,1533.4 944.6,1532.3 947.0,1531.6 949.4,1531.4 952.4,1531.8 953.6,1532.4 954.8,1533.6 956.6,1536.8 958.2,1541.7 959.8,1551.9 961.3,1572.3 962.2,1579.5 963.8,1587.3 967.6,1601.7 969.0,1610.7 969.0,1619.1 968.4,1623.3 967.5,1627.5 964.9,1635.3 957.9,1650.3 956.8,1654.5 956.3,1659.3 957.2,1679.1 957.2,1696.5 957.6,1703.1 958.6,1710.3 963.1,1732.5 964.2,1740.9 964.7,1749.9 M903.8,1749.9 904.7,1736.7 907.5,1716.9 908.2,1709.1 908.3,1701.9 907.5,1687.5 907.4,1679.7 908.8,1655.1 908.6,1651.0 908.0,1647.2 903.3,1629.3 901.5,1618.5 901.1,1612.5 901.1,1605.9 901.6,1599.3 902.5,1593.9 904.8,1586.1 910.8,1572.9 921.0,1553.7 928.2,1542.3 933.8,1535.3 936.8,1532.4 939.8,1530.0 942.8,1528.1 945.2,1527.1 948.2,1526.3 950.6,1526.1 953.6,1526.6 954.8,1527.4 956.0,1528.6 958.0,1532.1 959.6,1537.2 961.3,1547.7 962.8,1569.3 963.8,1577.6 965.6,1586.1 969.9,1601.7 970.8,1606.5 971.3,1611.3 971.2,1619.7 969.9,1627.5 967.2,1635.9 960.5,1651.5 959.3,1656.3 958.8,1661.7 959.2,1680.9 959.3,1696.5 959.6,1702.9 960.6,1710.9 964.7,1733.7 965.7,1742.1 966.1,1749.9 M902.4,1749.9 903.1,1737.9 905.6,1716.9 906.3,1709.1 906.3,1701.9 905.5,1680.3 906.5,1656.9 906.2,1652.1 905.6,1647.9 901.1,1629.3 899.3,1617.9 898.9,1611.3 899.0,1604.7 899.4,1598.7 900.4,1592.7 901.5,1588.5 903.0,1584.3 909.6,1569.9 919.6,1550.7 923.9,1543.5 927.5,1538.1 933.2,1530.9 936.2,1527.9 939.2,1525.4 942.2,1523.4 945.2,1522.0 948.2,1521.1 951.2,1520.8 953.6,1521.0 954.8,1521.5 957.2,1523.5 959.3,1527.3 961.0,1532.7 962.1,1538.1 962.8,1544.1 964.4,1567.0 965.4,1575.9 967.2,1584.3 972.0,1601.1 973.0,1606.5 973.6,1611.3 973.5,1619.7 973.0,1623.9 972.0,1628.7 969.6,1636.5 963.0,1652.7 961.7,1658.1 961.1,1663.5 961.2,1694.1 961.6,1702.5 962.6,1711.4 966.3,1734.3 967.1,1742.1 967.5,1749.9 M901.0,1749.9 901.6,1737.9 903.8,1717.5 904.4,1709.1 904.4,1701.9 903.6,1680.9 904.2,1658.1 903.9,1653.3 903.2,1648.5 898.8,1628.7 897.1,1617.3 896.7,1610.7 896.8,1604.1 897.3,1597.5 898.2,1592.1 899.5,1587.3 901.2,1582.5 908.3,1566.9 918.6,1547.1 922.8,1539.9 926.6,1534.1 933.0,1526.1 936.2,1522.9 939.2,1520.4 942.8,1518.1 945.8,1516.7 948.8,1515.8 951.8,1515.5 955.4,1516.0 957.2,1517.1 958.3,1518.3 960.7,1522.5 962.4,1527.9 963.5,1533.3 964.3,1539.9 966.0,1565.1 967.1,1574.1 968.9,1582.5 974.1,1600.5 975.2,1605.9 975.8,1611.3 975.8,1620.3 974.4,1628.7 971.9,1637.1 966.8,1649.8 965.2,1654.5 963.9,1660.5 963.3,1666.5 963.2,1692.3 963.5,1702.5 964.4,1711.1 967.8,1734.3 968.9,1749.9 M899.6,1749.9 900.1,1739.1 902.0,1718.1 902.5,1709.1 901.7,1681.5 902.0,1659.9 901.1,1649.7 896.5,1628.1 894.9,1616.7 894.5,1609.5 894.6,1602.9 895.1,1596.9 896.2,1590.9 897.5,1586.1 899.7,1580.1 907.0,1563.9 917.5,1543.5 921.7,1536.3 925.5,1530.3 929.0,1525.6 932.6,1521.4 936.2,1517.8 939.2,1515.4 942.8,1513.0 945.8,1511.6 949.4,1510.5 952.4,1510.2 956.0,1510.6 957.8,1511.5 959.0,1512.6 961.5,1516.5 963.8,1523.1 965.0,1529.1 965.9,1536.3 967.5,1562.1 968.6,1571.8 970.4,1580.3 976.3,1599.9 977.4,1605.3 978.0,1610.7 978.1,1619.7 976.8,1628.7 974.3,1637.7 969.2,1650.6 967.4,1656.0 966.2,1661.7 965.4,1668.9 965.1,1690.5 965.4,1702.5 966.2,1711.0 969.4,1735.5 970.3,1749.9 M898.2,1749.9 898.6,1739.1 900.2,1718.7 900.7,1709.7 899.9,1682.1 899.8,1661.7 898.9,1650.9 894.4,1628.7 892.7,1616.1 892.4,1608.9 892.5,1602.3 893.1,1595.7 894.0,1590.3 895.5,1584.9 898.2,1577.7 906.0,1560.3 916.7,1539.3 920.9,1532.1 925.2,1525.5 932.0,1516.9 935.6,1513.3 939.2,1510.3 942.8,1508.0 946.4,1506.2 950.0,1505.2 953.6,1504.9 957.2,1505.4 959.0,1506.3 960.2,1507.5 961.6,1509.3 962.9,1511.7 965.1,1518.3 966.5,1524.9 967.5,1532.7 969.2,1560.9 970.3,1570.5 972.2,1579.1 978.4,1599.3 979.7,1605.3 980.4,1611.3 980.4,1620.3 979.1,1629.3 976.6,1638.3 971.3,1652.1 969.6,1657.5 968.2,1664.1 967.5,1671.3 967.0,1689.3 967.3,1702.5 968.0,1711.1 970.8,1734.9 971.7,1749.9 M896.8,1749.9 897.1,1740.3 898.5,1719.3 898.9,1709.7 898.0,1682.7 897.8,1664.1 897.4,1657.5 896.7,1651.5 892.1,1628.1 890.5,1615.5 890.2,1608.3 890.3,1601.1 890.9,1595.1 892.0,1589.1 893.3,1584.3 896.4,1575.9 905.3,1556.1 915.6,1535.7 920.1,1527.9 924.4,1521.3 928.4,1516.0 932.0,1511.8 935.6,1508.2 939.2,1505.2 943.4,1502.5 947.0,1500.9 950.6,1499.9 954.2,1499.5 958.4,1500.1 960.2,1501.2 961.4,1502.3 963.0,1504.5 964.3,1506.9 966.5,1513.5 967.9,1520.1 969.0,1528.5 970.7,1558.5 971.9,1568.7 974.0,1577.9 980.4,1598.1 981.8,1604.7 982.6,1610.7 982.7,1620.3 981.3,1629.9 979.1,1638.3 973.4,1653.7 971.6,1659.3 970.4,1665.3 969.5,1673.1 969.0,1688.7 969.2,1702.5 969.8,1711.5 972.4,1736.1 973.1,1749.9 M895.4,1749.9 897.1,1710.3 895.8,1666.5 895.4,1659.3 894.6,1652.7 890.2,1629.3 888.4,1615.5 888.1,1608.3 888.2,1601.1 888.7,1594.5 889.8,1588.5 891.5,1582.5 894.6,1574.1 903.4,1554.3 914.2,1532.7 918.6,1524.9 923.2,1517.7 927.2,1512.2 931.2,1507.5 935.0,1503.7 939.2,1500.2 943.4,1497.5 947.0,1495.8 951.2,1494.5 954.8,1494.2 957.8,1494.4 959.6,1494.9 961.4,1496.0 962.6,1497.1 964.1,1499.1 965.6,1502.0 968.0,1509.0 969.5,1516.5 970.6,1525.5 972.3,1555.5 973.4,1566.3 975.8,1576.6 980.8,1591.5 982.7,1598.1 984.0,1604.1 984.9,1610.7 985.0,1620.3 984.5,1625.1 983.6,1630.5 981.0,1640.1 974.0,1659.9 972.4,1667.1 971.5,1675.5 970.9,1689.3 971.0,1702.8 971.6,1712.2 973.8,1735.5 974.5,1749.9" fill="none" stroke="#505050" stroke-width="1.0" stroke-linejoin="round"/>
<rect x="921.50" y="1747.30" width="27.00" height="4.00" fill="#000" stroke="none" stroke-width="0"/>
<rect x="877.90" y="1349.30" width="153.60" height="214.70" fill="none" stroke="#111" stroke-width="1.5"/>
<line x1="1031.90" y1="1348.60" x2="1031.90" y2="1565.20" stroke="#000" stroke-width="2.8" stroke-linecap="butt"/>
<line x1="877.20" y1="1564.20" x2="1033.20" y2="1564.20" stroke="#000" stroke-width="2.0" stroke-linecap="butt"/>
<text transform="translate(760.13,1444.50) scale(0.8898,1)" font-size="19.57" fill="#000">CD4+IL-4+</text>
<text transform="translate(783.59,1469.50) scale(0.9331,1)" font-size="20.14" fill="#000">15.5</text>
<text transform="translate(705.77,1602.00) scale(0.9677,1)" font-size="36.67" font-weight="bold" fill="#000">15.5</text>
<rect x="977.60" y="1481.30" width="5.40" height="5.40" fill="#000" stroke="none" stroke-width="0"/>
<rect x="1009.90" y="1720.10" width="5.40" height="5.40" fill="#000" stroke="none" stroke-width="0"/>
<text transform="translate(271.65,44.20) scale(0.9193,1)" font-size="50.21" font-weight="bold" fill="#000">Control</text>
<text transform="translate(781.58,43.30) scale(0.9253,1)" font-size="48.28" font-weight="bold" fill="#000">Vaccine</text>
<text transform="translate(268.95,677.30) scale(0.9093,1)" font-size="50.76" font-weight="bold" fill="#000">Control</text>
<text transform="translate(778.98,676.30) scale(0.9062,1)" font-size="49.38" font-weight="bold" fill="#000">Vaccine</text>
<text transform="translate(268.95,1317.30) scale(0.9093,1)" font-size="50.76" font-weight="bold" fill="#000">Control</text>
<text transform="translate(778.98,1316.30) scale(0.9217,1)" font-size="48.55" font-weight="bold" fill="#000">Vaccine</text>
<text transform="translate(10.96,44.00) scale(0.8437,1)" font-size="60.93" font-weight="bold" fill="#000">a</text>
<text transform="translate(10.60,673.30) scale(0.9329,1)" font-size="62.62" font-weight="bold" fill="#000">b</text>
<text transform="translate(10.48,1306.50) scale(0.8266,1)" font-size="61.11" font-weight="bold" fill="#000">c</text>
<text transform="translate(465.87,602.70) scale(0.9255,1)" font-size="49.43" font-weight="bold" fill="#000">CD4-BV650</text>
<text transform="translate(465.87,1242.80) scale(0.9255,1)" font-size="49.43" font-weight="bold" fill="#000">CD4-BV650</text>
<text transform="translate(465.87,1880.80) scale(0.9390,1)" font-size="48.71" font-weight="bold" fill="#000">CD4-BV650</text>
<line x1="71.30" y1="64.00" x2="71.30" y2="541.40" stroke="#000" stroke-width="4.8" stroke-linecap="butt"/>
<polygon points="63.6,66.7 71.3,52.0 79.0,66.7" fill="#000"/>
<line x1="68.90" y1="538.90" x2="1045.60" y2="538.90" stroke="#000" stroke-width="4.8" stroke-linecap="butt"/>
<polygon points="1043.0,531.7 1057.6,538.9 1043.0,546.1" fill="#000"/>
<line x1="67.90" y1="698.80" x2="67.90" y2="1176.20" stroke="#000" stroke-width="4.8" stroke-linecap="butt"/>
<polygon points="60.2,701.5 67.9,686.8 75.6,701.5" fill="#000"/>
<line x1="65.50" y1="1173.70" x2="1042.40" y2="1173.70" stroke="#000" stroke-width="4.8" stroke-linecap="butt"/>
<polygon points="1039.8,1166.5 1054.4,1173.7 1039.8,1180.9" fill="#000"/>
<line x1="68.10" y1="1336.80" x2="68.10" y2="1814.50" stroke="#000" stroke-width="4.8" stroke-linecap="butt"/>
<polygon points="60.4,1339.5 68.1,1324.8 75.8,1339.5" fill="#000"/>
<line x1="65.70" y1="1812.00" x2="1042.80" y2="1812.00" stroke="#000" stroke-width="4.8" stroke-linecap="butt"/>
<polygon points="1040.2,1804.8 1054.8,1812.0 1040.2,1819.2" fill="#000"/>
<text transform="translate(38.80,418.42) rotate(-90) scale(0.9166,1)" font-size="49.00" font-weight="bold">IFN-γ-FITC</text>
<text transform="translate(40.80,1125.49) rotate(-90) scale(0.9890,1)" font-size="46.48" font-weight="bold">IL-10-PerCP/Cy5.5</text>
<text transform="translate(41.00,1617.05) rotate(-90) scale(0.8933,1)" font-size="49.13" font-weight="bold">IL-4-PE</text>
<line x1="1194.60" y1="102.80" x2="1194.60" y2="504.00" stroke="#000" stroke-width="3.2" stroke-linecap="butt"/>
<line x1="1181.30" y1="502.50" x2="1449.70" y2="502.50" stroke="#000" stroke-width="3.4" stroke-linecap="butt"/>
<line x1="1181.10" y1="502.50" x2="1194.60" y2="502.50" stroke="#000" stroke-width="3.0" stroke-linecap="butt"/>
<text transform="translate(1162.89,513.10) scale(0.9300,1)" font-size="30.29" font-weight="bold">0</text>
<line x1="1181.10" y1="369.80" x2="1194.60" y2="369.80" stroke="#000" stroke-width="3.0" stroke-linecap="butt"/>
<text transform="translate(1147.26,380.40) scale(0.9300,1)" font-size="30.29" font-weight="bold">10</text>
<line x1="1181.10" y1="237.10" x2="1194.60" y2="237.10" stroke="#000" stroke-width="3.0" stroke-linecap="butt"/>
<text transform="translate(1147.26,247.70) scale(0.9300,1)" font-size="30.29" font-weight="bold">20</text>
<line x1="1181.10" y1="104.40" x2="1194.60" y2="104.40" stroke="#000" stroke-width="3.0" stroke-linecap="butt"/>
<text transform="translate(1147.26,115.00) scale(0.9300,1)" font-size="30.29" font-weight="bold">30</text>
<line x1="1258.30" y1="502.50" x2="1258.30" y2="515.50" stroke="#000" stroke-width="3.0" stroke-linecap="butt"/>
<line x1="1385.00" y1="502.50" x2="1385.00" y2="515.50" stroke="#000" stroke-width="3.0" stroke-linecap="butt"/>
<rect x="1213.40" y="191.40" width="89.90" height="311.10" fill="#000" stroke="none" stroke-width="0"/>
<line x1="1258.30" y1="152.50" x2="1258.30" y2="191.40" stroke="#000" stroke-width="7" stroke-linecap="butt"/>
<line x1="1238.20" y1="152.50" x2="1278.50" y2="152.50" stroke="#000" stroke-width="6.0" stroke-linecap="round"/>
<line x1="1385.00" y1="269.60" x2="1385.00" y2="303.00" stroke="#000" stroke-width="7" stroke-linecap="butt"/>
<line x1="1364.30" y1="269.60" x2="1405.50" y2="269.60" stroke="#000" stroke-width="6.0" stroke-linecap="round"/>
<rect x="1340.00" y="303.00" width="89.90" height="199.50" fill="#a0a0a0" stroke="none" stroke-width="0"/>
<rect x="1340.00" y="303.00" width="6.50" height="199.50" fill="#000" stroke="none" stroke-width="0"/>
<rect x="1423.40" y="303.00" width="6.50" height="199.50" fill="#000" stroke="none" stroke-width="0"/>
<rect x="1340.00" y="303.00" width="89.90" height="6.50" fill="#000" stroke="none" stroke-width="0"/>
<line x1="1264.50" y1="127.00" x2="1392.20" y2="127.00" stroke="#000" stroke-width="5.8" stroke-linecap="round"/>
<text transform="translate(1299.86,108.70) scale(1.0434,1)" font-size="37.41" font-weight="bold" fill="#000">n.s</text>
<text transform="translate(1176.32,56.60) scale(0.9616,1)" font-size="39.71" font-weight="bold" fill="#000">Ear CD4+IFN-y+</text>
<text transform="translate(1203.07,542.10) scale(1.0894,1)" font-size="28.14" font-weight="bold" fill="#000">Control</text>
<text transform="translate(1321.45,542.10) scale(1.0603,1)" font-size="28.14" font-weight="bold" fill="#000">Vaccinated</text>
<text transform="translate(1126.50,517.23) rotate(-90) scale(0.9499,1)" font-size="39.31" font-weight="bold">IFN-<tspan font-weight="normal" font-family="Liberation Serif" font-style="italic">γ</tspan>+ (% of CD4+ cells)</text>
<line x1="1190.30" y1="714.30" x2="1190.30" y2="1119.30" stroke="#000" stroke-width="3.2" stroke-linecap="butt"/>
<line x1="1178.60" y1="1117.80" x2="1428.00" y2="1117.80" stroke="#000" stroke-width="3.4" stroke-linecap="butt"/>
<line x1="1176.80" y1="1117.80" x2="1190.30" y2="1117.80" stroke="#000" stroke-width="3.0" stroke-linecap="butt"/>
<text transform="translate(1158.59,1128.40) scale(0.9300,1)" font-size="30.29" font-weight="bold">0</text>
<line x1="1176.80" y1="1017.60" x2="1190.30" y2="1017.60" stroke="#000" stroke-width="3.0" stroke-linecap="butt"/>
<text transform="translate(1157.96,1028.20) scale(0.9300,1)" font-size="30.72" font-weight="bold">5</text>
<line x1="1176.80" y1="917.40" x2="1190.30" y2="917.40" stroke="#000" stroke-width="3.0" stroke-linecap="butt"/>
<text transform="translate(1142.96,928.00) scale(0.9300,1)" font-size="30.29" font-weight="bold">10</text>
<line x1="1176.80" y1="817.20" x2="1190.30" y2="817.20" stroke="#000" stroke-width="3.0" stroke-linecap="butt"/>
<text transform="translate(1142.10,827.80) scale(0.9300,1)" font-size="30.72" font-weight="bold">15</text>
<line x1="1176.80" y1="717.00" x2="1190.30" y2="717.00" stroke="#000" stroke-width="3.0" stroke-linecap="butt"/>
<text transform="translate(1142.96,727.60) scale(0.9300,1)" font-size="30.29" font-weight="bold">20</text>
<line x1="1248.30" y1="1117.80" x2="1248.30" y2="1130.80" stroke="#000" stroke-width="3.0" stroke-linecap="butt"/>
<line x1="1365.90" y1="1117.80" x2="1365.90" y2="1130.80" stroke="#000" stroke-width="3.0" stroke-linecap="butt"/>
<rect x="1207.40" y="813.80" width="83.60" height="304.00" fill="#000" stroke="none" stroke-width="0"/>
<line x1="1247.40" y1="771.60" x2="1247.40" y2="813.80" stroke="#000" stroke-width="7" stroke-linecap="butt"/>
<line x1="1229.50" y1="771.60" x2="1268.10" y2="771.60" stroke="#000" stroke-width="6.0" stroke-linecap="round"/>
<line x1="1367.50" y1="1001.30" x2="1367.50" y2="1015.20" stroke="#000" stroke-width="7" stroke-linecap="butt"/>
<line x1="1347.90" y1="1001.30" x2="1387.30" y2="1001.30" stroke="#000" stroke-width="6.0" stroke-linecap="round"/>
<rect x="1325.00" y="1015.20" width="85.00" height="102.60" fill="#a0a0a0" stroke="none" stroke-width="0"/>
<rect x="1325.00" y="1015.20" width="6.50" height="102.60" fill="#000" stroke="none" stroke-width="0"/>
<rect x="1403.50" y="1015.20" width="6.50" height="102.60" fill="#000" stroke="none" stroke-width="0"/>
<rect x="1325.00" y="1015.20" width="85.00" height="6.50" fill="#000" stroke="none" stroke-width="0"/>
<line x1="1252.70" y1="760.40" x2="1362.50" y2="760.40" stroke="#000" stroke-width="5.8" stroke-linecap="round"/>
<text transform="translate(1290.29,750.67) scale(1.0618,1)" font-size="38.65" font-weight="bold">**</text>
<text transform="translate(1171.82,666.60) scale(0.9236,1)" font-size="39.71" font-weight="bold" fill="#000">Ear CD4+IL-10+</text>
<text transform="translate(1196.54,1157.10) scale(1.0148,1)" font-size="28.69" font-weight="bold" fill="#000">Control</text>
<text transform="translate(1307.96,1157.10) scale(0.9872,1)" font-size="28.69" font-weight="bold" fill="#000">Vaccinated</text>
<text transform="translate(1127.40,1106.17) rotate(-90) scale(1.0345,1)" font-size="32.28" font-weight="bold">IL-10+ (% of CD4+ cells)</text>
<line x1="1207.40" y1="1352.10" x2="1207.40" y2="1757.30" stroke="#000" stroke-width="3.2" stroke-linecap="butt"/>
<line x1="1197.00" y1="1755.80" x2="1448.90" y2="1755.80" stroke="#000" stroke-width="3.4" stroke-linecap="butt"/>
<line x1="1193.90" y1="1755.80" x2="1207.40" y2="1755.80" stroke="#000" stroke-width="3.0" stroke-linecap="butt"/>
<text transform="translate(1175.69,1766.40) scale(0.9300,1)" font-size="30.29" font-weight="bold">0</text>
<line x1="1193.90" y1="1621.70" x2="1207.40" y2="1621.70" stroke="#000" stroke-width="3.0" stroke-linecap="butt"/>
<text transform="translate(1160.06,1632.30) scale(0.9300,1)" font-size="30.29" font-weight="bold">10</text>
<line x1="1193.90" y1="1487.60" x2="1207.40" y2="1487.60" stroke="#000" stroke-width="3.0" stroke-linecap="butt"/>
<text transform="translate(1160.06,1498.20) scale(0.9300,1)" font-size="30.29" font-weight="bold">20</text>
<line x1="1193.90" y1="1353.50" x2="1207.40" y2="1353.50" stroke="#000" stroke-width="3.0" stroke-linecap="butt"/>
<text transform="translate(1160.06,1364.10) scale(0.9300,1)" font-size="30.29" font-weight="bold">30</text>
<line x1="1267.30" y1="1755.80" x2="1267.30" y2="1768.80" stroke="#000" stroke-width="3.0" stroke-linecap="butt"/>
<line x1="1388.20" y1="1755.80" x2="1388.20" y2="1768.80" stroke="#000" stroke-width="3.0" stroke-linecap="butt"/>
<rect x="1225.70" y="1450.20" width="85.30" height="305.60" fill="#000" stroke="none" stroke-width="0"/>
<line x1="1267.90" y1="1419.70" x2="1267.90" y2="1450.20" stroke="#000" stroke-width="7" stroke-linecap="butt"/>
<line x1="1248.50" y1="1419.70" x2="1288.50" y2="1419.70" stroke="#000" stroke-width="6.0" stroke-linecap="round"/>
<line x1="1387.60" y1="1519.90" x2="1387.60" y2="1542.50" stroke="#000" stroke-width="7" stroke-linecap="butt"/>
<line x1="1368.90" y1="1519.90" x2="1407.50" y2="1519.90" stroke="#000" stroke-width="6.0" stroke-linecap="round"/>
<rect x="1346.00" y="1542.50" width="84.00" height="213.30" fill="#a0a0a0" stroke="none" stroke-width="0"/>
<rect x="1346.00" y="1542.50" width="6.50" height="213.30" fill="#000" stroke="none" stroke-width="0"/>
<rect x="1423.50" y="1542.50" width="6.50" height="213.30" fill="#000" stroke="none" stroke-width="0"/>
<rect x="1346.00" y="1542.50" width="84.00" height="6.50" fill="#000" stroke="none" stroke-width="0"/>
<line x1="1274.80" y1="1400.00" x2="1390.20" y2="1400.00" stroke="#000" stroke-width="5.8" stroke-linecap="round"/>
<text transform="translate(1268.57,1384.30) scale(0.8902,1)" font-size="35.00" font-weight="bold" fill="#000">p=0.0503</text>
<text transform="translate(1201.20,1304.90) scale(0.9134,1)" font-size="40.43" font-weight="bold" fill="#000">Ear CD4+IL-4+</text>
<text transform="translate(1216.85,1795.50) scale(0.9986,1)" font-size="28.69" font-weight="bold" fill="#000">Control</text>
<text transform="translate(1326.86,1795.50) scale(0.9933,1)" font-size="28.69" font-weight="bold" fill="#000">Vaccinated</text>
<text transform="translate(1146.20,1735.07) rotate(-90) scale(1.0343,1)" font-size="32.28" font-weight="bold">IL-4+ (% of CD4+ cells)</text>
</svg></body></html>
